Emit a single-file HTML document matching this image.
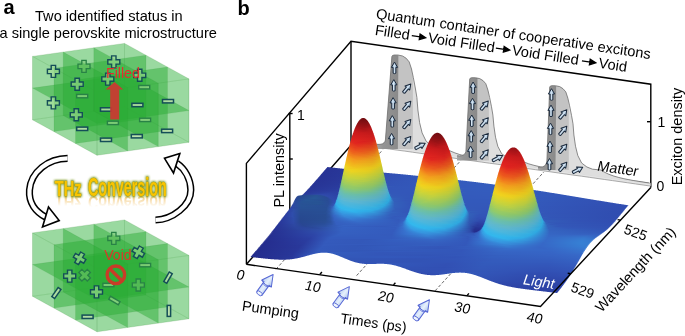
<!DOCTYPE html>
<html><head><meta charset="utf-8"><style>
html,body{margin:0;padding:0;background:#fff;}
svg{display:block;font-family:"Liberation Sans",sans-serif;will-change:transform;}
</style></head><body>
<svg width="685" height="336" viewBox="0 0 685 336">
<rect width="685" height="336" fill="#fff"/>
<text x="3.5" y="13.7" font-size="20" font-weight="bold">a</text>
<text x="35" y="20.8" font-size="14.6">Two identified status in</text>
<text x="-0.5" y="38.2" font-size="14.6">a single perovskite microstructure</text>
<g fill="rgb(42,172,52)" stroke="rgb(30,130,40)" stroke-opacity="0.15" stroke-width="0.6">
<polygon fill-opacity="0.27" points="32.5,56.4 97,91.9 189,78.9 124.5,43.4"/>
<polygon fill-opacity="0.27" points="32.5,119.8 97,155.3 189,142.3 124.5,106.8"/>
<polygon fill-opacity="0.27" points="32.5,56.4 124.5,43.4 124.5,106.8 32.5,119.8"/>
<polygon fill-opacity="0.27" points="97,91.9 189,78.9 189,142.3 97,155.3"/>
<polygon fill-opacity="0.27" points="32.5,56.4 97,91.9 97,155.3 32.5,119.8"/>
<polygon fill-opacity="0.27" points="124.5,43.4 189,78.9 189,142.3 124.5,106.8"/>
<polygon fill-opacity="0.48" points="32.5,88.1 97,123.6 189,110.6 124.5,75.1"/>
<polygon fill-opacity="0.48" points="54,68.2 146,55.2 146,118.6 54,131.6"/>
<polygon fill-opacity="0.48" points="75.5,80.1 167.5,67.1 167.5,130.5 75.5,143.5"/>
<polygon fill-opacity="0.48" points="63.2,52.1 127.7,87.6 127.7,151 63.2,115.5"/>
<polygon fill-opacity="0.48" points="93.8,47.7 158.3,83.2 158.3,146.6 93.8,111.1"/>
</g>
<path transform="translate(53.4 71.4) rotate(0)" d="M-2.2 -6H2.2V-2.2H6V2.2H2.2V6H-2.2V2.2H-6V-2.2H-2.2Z" fill="rgb(165,222,150)" fill-opacity="0.6" stroke="rgb(20,78,88)" stroke-width="1.4"/>
<path transform="translate(84 66.4) rotate(0)" d="M-2.2 -6H2.2V-2.2H6V2.2H2.2V6H-2.2V2.2H-6V-2.2H-2.2Z" fill="rgb(120,200,110)" fill-opacity="0.5" stroke="rgb(40,130,70)" stroke-width="1.3"/>
<path transform="translate(113.8 61.9) rotate(0)" d="M-2.2 -6H2.2V-2.2H6V2.2H2.2V6H-2.2V2.2H-6V-2.2H-2.2Z" fill="rgb(165,222,150)" fill-opacity="0.6" stroke="rgb(20,78,88)" stroke-width="1.4"/>
<path transform="translate(77.2 84.2) rotate(0)" d="M-2.2 -6H2.2V-2.2H6V2.2H2.2V6H-2.2V2.2H-6V-2.2H-2.2Z" fill="rgb(165,222,150)" fill-opacity="0.6" stroke="rgb(20,78,88)" stroke-width="1.4"/>
<path transform="translate(107.8 79.1) rotate(0)" d="M-2.2 -6H2.2V-2.2H6V2.2H2.2V6H-2.2V2.2H-6V-2.2H-2.2Z" fill="rgb(165,222,150)" fill-opacity="0.6" stroke="rgb(20,78,88)" stroke-width="1.4"/>
<path transform="translate(139.7 75.3) rotate(0)" d="M-2.2 -6H2.2V-2.2H6V2.2H2.2V6H-2.2V2.2H-6V-2.2H-2.2Z" fill="rgb(165,222,150)" fill-opacity="0.6" stroke="rgb(20,78,88)" stroke-width="1.4"/>
<path transform="translate(53.4 102.9) rotate(0)" d="M-2.2 -6H2.2V-2.2H6V2.2H2.2V6H-2.2V2.2H-6V-2.2H-2.2Z" fill="rgb(165,222,150)" fill-opacity="0.6" stroke="rgb(20,78,88)" stroke-width="1.4"/>
<path transform="translate(76.3 114.8) rotate(0)" d="M-2.2 -6H2.2V-2.2H6V2.2H2.2V6H-2.2V2.2H-6V-2.2H-2.2Z" fill="rgb(165,222,150)" fill-opacity="0.6" stroke="rgb(20,78,88)" stroke-width="1.4"/>
<rect transform="translate(82.2 96.1) rotate(0)" x="-5.5" y="-1.7" width="11" height="3.4" fill="rgb(170,222,150)" fill-opacity="0.6" stroke="rgb(40,130,70)" stroke-width="1.4"/>
<rect transform="translate(106 109.5) rotate(0)" x="-5.5" y="-1.7" width="11" height="3.4" fill="rgb(195,228,175)" fill-opacity="0.8" stroke="rgb(20,78,88)" stroke-width="1.5"/>
<rect transform="translate(82.2 128.8) rotate(0)" x="-5.5" y="-1.7" width="11" height="3.4" fill="rgb(195,228,175)" fill-opacity="0.8" stroke="rgb(20,78,88)" stroke-width="1.5"/>
<rect transform="translate(106 139.8) rotate(0)" x="-5.5" y="-1.7" width="11" height="3.4" fill="rgb(195,228,175)" fill-opacity="0.8" stroke="rgb(20,78,88)" stroke-width="1.5"/>
<rect transform="translate(112.9 122.9) rotate(0)" x="-5.5" y="-1.7" width="11" height="3.4" fill="rgb(170,222,150)" fill-opacity="0.6" stroke="rgb(40,130,70)" stroke-width="1.4"/>
<rect transform="translate(144.2 87.2) rotate(0)" x="-5.5" y="-1.7" width="11" height="3.4" fill="rgb(170,222,150)" fill-opacity="0.6" stroke="rgb(40,130,70)" stroke-width="1.4"/>
<rect transform="translate(137.4 105) rotate(0)" x="-5.5" y="-1.7" width="11" height="3.4" fill="rgb(195,228,175)" fill-opacity="0.8" stroke="rgb(20,78,88)" stroke-width="1.5"/>
<rect transform="translate(168 101.2) rotate(0)" x="-5.5" y="-1.7" width="11" height="3.4" fill="rgb(195,228,175)" fill-opacity="0.8" stroke="rgb(20,78,88)" stroke-width="1.5"/>
<rect transform="translate(145.1 119.9) rotate(0)" x="-5.5" y="-1.7" width="11" height="3.4" fill="rgb(170,222,150)" fill-opacity="0.6" stroke="rgb(40,130,70)" stroke-width="1.4"/>
<rect transform="translate(167.1 130.9) rotate(0)" x="-5.5" y="-1.7" width="11" height="3.4" fill="rgb(195,228,175)" fill-opacity="0.8" stroke="rgb(20,78,88)" stroke-width="1.5"/>
<rect transform="translate(136.8 136.2) rotate(0)" x="-5.5" y="-1.7" width="11" height="3.4" fill="rgb(195,228,175)" fill-opacity="0.8" stroke="rgb(20,78,88)" stroke-width="1.5"/>
<path d="M110.2 119.6V89.4H105.6L114.6 82L123.3 89.4H119.2V119.6Z" fill="rgb(205,55,50)" opacity="0.92"/>
<text x="106" y="77.9" font-size="14.2" fill="rgb(228,45,45)">Filled</text>
<g fill="rgb(42,172,52)" stroke="rgb(30,130,40)" stroke-opacity="0.15" stroke-width="0.6">
<polygon fill-opacity="0.27" points="32.5,232.9 97,268.4 189,255.4 124.5,219.9"/>
<polygon fill-opacity="0.27" points="32.5,296.3 97,331.8 189,318.8 124.5,283.3"/>
<polygon fill-opacity="0.27" points="32.5,232.9 124.5,219.9 124.5,283.3 32.5,296.3"/>
<polygon fill-opacity="0.27" points="97,268.4 189,255.4 189,318.8 97,331.8"/>
<polygon fill-opacity="0.27" points="32.5,232.9 97,268.4 97,331.8 32.5,296.3"/>
<polygon fill-opacity="0.27" points="124.5,219.9 189,255.4 189,318.8 124.5,283.3"/>
<polygon fill-opacity="0.48" points="32.5,264.6 97,300.1 189,287.1 124.5,251.6"/>
<polygon fill-opacity="0.48" points="54,244.7 146,231.7 146,295.1 54,308.1"/>
<polygon fill-opacity="0.48" points="75.5,256.6 167.5,243.6 167.5,307 75.5,320"/>
<polygon fill-opacity="0.48" points="63.2,228.6 127.7,264.1 127.7,327.5 63.2,292"/>
<polygon fill-opacity="0.48" points="93.8,224.2 158.3,259.7 158.3,323.1 93.8,287.6"/>
</g>
<path transform="translate(113.8 238.3) rotate(0)" d="M-2.2 -6H2.2V-2.2H6V2.2H2.2V6H-2.2V2.2H-6V-2.2H-2.2Z" fill="rgb(120,200,110)" fill-opacity="0.5" stroke="rgb(40,130,70)" stroke-width="1.3"/>
<path transform="translate(79.6 258.3) rotate(30)" d="M-2.2 -6H2.2V-2.2H6V2.2H2.2V6H-2.2V2.2H-6V-2.2H-2.2Z" fill="rgb(165,222,150)" fill-opacity="0.6" stroke="rgb(20,78,88)" stroke-width="1.4"/>
<path transform="translate(69.7 276.1) rotate(0)" d="M-2.2 -6H2.2V-2.2H6V2.2H2.2V6H-2.2V2.2H-6V-2.2H-2.2Z" fill="rgb(165,222,150)" fill-opacity="0.6" stroke="rgb(20,78,88)" stroke-width="1.4"/>
<path transform="translate(84.6 275.2) rotate(45)" d="M-2.2 -6H2.2V-2.2H6V2.2H2.2V6H-2.2V2.2H-6V-2.2H-2.2Z" fill="rgb(120,200,110)" fill-opacity="0.5" stroke="rgb(40,130,70)" stroke-width="1.3"/>
<path transform="translate(96.5 291.9) rotate(0)" d="M-2.2 -6H2.2V-2.2H6V2.2H2.2V6H-2.2V2.2H-6V-2.2H-2.2Z" fill="rgb(165,222,150)" fill-opacity="0.6" stroke="rgb(20,78,88)" stroke-width="1.4"/>
<path transform="translate(138.3 252.3) rotate(30)" d="M-2.2 -6H2.2V-2.2H6V2.2H2.2V6H-2.2V2.2H-6V-2.2H-2.2Z" fill="rgb(165,222,150)" fill-opacity="0.6" stroke="rgb(20,78,88)" stroke-width="1.4"/>
<path transform="translate(138.3 285) rotate(0)" d="M-2.2 -6H2.2V-2.2H6V2.2H2.2V6H-2.2V2.2H-6V-2.2H-2.2Z" fill="rgb(120,200,110)" fill-opacity="0.5" stroke="rgb(40,130,70)" stroke-width="1.3"/>
<rect transform="translate(56.4 293) rotate(-55)" x="-5.5" y="-1.7" width="11" height="3.4" fill="rgb(195,228,175)" fill-opacity="0.8" stroke="rgb(20,78,88)" stroke-width="1.5"/>
<rect transform="translate(87.6 316.8) rotate(0)" x="-5.5" y="-1.7" width="11" height="3.4" fill="rgb(195,228,175)" fill-opacity="0.8" stroke="rgb(20,78,88)" stroke-width="1.5"/>
<rect transform="translate(108.4 285) rotate(0)" x="-5.5" y="-1.7" width="11" height="3.4" fill="rgb(170,222,150)" fill-opacity="0.6" stroke="rgb(40,130,70)" stroke-width="1.4"/>
<rect transform="translate(114.4 300.5) rotate(30)" x="-5.5" y="-1.7" width="11" height="3.4" fill="rgb(170,222,150)" fill-opacity="0.6" stroke="rgb(40,130,70)" stroke-width="1.4"/>
<rect transform="translate(145.1 265.1) rotate(0)" x="-5.5" y="-1.7" width="11" height="3.4" fill="rgb(170,222,150)" fill-opacity="0.6" stroke="rgb(40,130,70)" stroke-width="1.4"/>
<rect transform="translate(168 277.6) rotate(-60)" x="-5.5" y="-1.7" width="11" height="3.4" fill="rgb(195,228,175)" fill-opacity="0.8" stroke="rgb(20,78,88)" stroke-width="1.5"/>
<rect transform="translate(168.9 310.9) rotate(90)" x="-5.5" y="-1.7" width="11" height="3.4" fill="rgb(195,228,175)" fill-opacity="0.8" stroke="rgb(20,78,88)" stroke-width="1.5"/>
<text x="104.3" y="259.6" font-size="14" fill="rgb(220,55,40)">Void</text>
<g fill="none" stroke="rgb(200,60,40)" stroke-width="3.4"><circle cx="115.9" cy="274.8" r="8.8"/><path d="M109.7 268.6L122.1 281"/></g>
<g fill="none" stroke-linecap="butt">
<path d="M67.6 158.4C48 158.5 31 172 29.5 190C28.5 203 36 212 45.5 217" stroke="#000" stroke-width="7.2"/>
<path d="M67.6 158.4C48 158.5 31 172 29.5 190C28.5 203 36 212 45.5 217" stroke="#fff" stroke-width="4.2"/>
<path d="M155.5 220C172 219.5 191 206 190.8 190C190.6 179 185 169 176.7 163.3" stroke="#000" stroke-width="7.2"/>
<path d="M155.5 220C172 219.5 191 206 190.8 190C190.6 179 185 169 176.7 163.3" stroke="#fff" stroke-width="4.2"/>
</g>
<polygon points="48.5,206.9 59.2,220.6 42.5,226.9" fill="#fff" stroke="#000" stroke-width="1.6" stroke-linejoin="miter"/>
<polygon points="179.8,153.6 164.5,158.3 173.5,173" fill="#fff" stroke="#000" stroke-width="1.6"/>
<defs><linearGradient id="thzr" x1="0" y1="0" x2="0" y2="1"><stop offset="0.3" stop-color="#f0b040" stop-opacity="0"/><stop offset="1" stop-color="#e8a820" stop-opacity="0.85"/></linearGradient><filter id="thzg" x="-10%" y="-30%" width="120%" height="160%"><feGaussianBlur stdDeviation="0.8"/></filter><filter id="thzb" x="-10%" y="-30%" width="120%" height="160%"><feGaussianBlur stdDeviation="0.7"/></filter></defs>
<g filter="url(#thzb)">
<text transform="translate(54.8 196.4) scale(0.65 -0.75)" font-size="22.5" font-weight="bold"  fill="url(#thzr)">THz</text>
<text transform="translate(88 196.4) scale(0.572 -0.75)" font-size="25" font-weight="bold"  fill="url(#thzr)">Conversion</text>
</g>
<g filter="url(#thzg)">
<text transform="translate(54.8 195.6) scale(0.65 1)" font-size="22.5" font-weight="bold" stroke="#7a9a20" stroke-width="2.2" fill="#7a9a20">THz</text>
<text transform="translate(88 195.6) scale(0.572 1)" font-size="25" font-weight="bold" stroke="#7a9a20" stroke-width="2.2" fill="#7a9a20">Conversion</text>
</g>
<text transform="translate(54.8 195.6) scale(0.65 1)" font-size="22.5" font-weight="bold" stroke="#a89010" stroke-width="0.6" paint-order="stroke" fill="#f8c400">THz</text>
<text transform="translate(88 195.6) scale(0.572 1)" font-size="25" font-weight="bold" stroke="#a89010" stroke-width="0.6" paint-order="stroke" fill="#f8c400">Conversion</text>
<text x="237.5" y="15.2" font-size="20" font-weight="bold">b</text>
<defs><linearGradient id="gdark" x1="0" x2="1" y1="0" y2="0"><stop offset="0" stop-color="#a6a6a6"/><stop offset=".3" stop-color="#949494"/><stop offset="1" stop-color="#8a8a8a"/></linearGradient><linearGradient id="garr" x1="0" x2="1" y1="0" y2="0"><stop offset="0" stop-color="#6f94b4"/><stop offset=".45" stop-color="#d6e6f4"/><stop offset="1" stop-color="#7ea2c0"/></linearGradient><g id="upA"><path d="M0 -5.9L3.1 -0.6H1.35V5.2Q0 6.1 -1.35 5.2V-0.6H-3.1Z" fill="url(#garr)" stroke="#1c2a3c" stroke-width="1" stroke-linejoin="round"/></g><g id="dgA" transform="rotate(40)"><path d="M0 -5.9L3.1 -0.6H1.35V5.2Q0 6.1 -1.35 5.2V-0.6H-3.1Z" fill="url(#garr)" stroke="#1c2a3c" stroke-width="1" stroke-linejoin="round"/></g></defs><g stroke="#555" stroke-width="0.9" stroke-dasharray="3 2" fill="none">
<line x1="276" y1="269.2" x2="382.8" y2="149.7"/>
<line x1="356.6" y1="275.6" x2="460.8" y2="160.5"/>
<line x1="435.2" y1="290.7" x2="543.9" y2="171.9"/>
</g>
<g fill="none" stroke="#000" stroke-width="1.4">
<polyline points="246.4,264.3 246.4,163.4 351,41.3 650.8,84.2 650.8,187.5"/>
<line x1="351" y1="41.3" x2="351" y2="145.3"/>
<line x1="351" y1="145.3" x2="246.4" y2="264.3"/>
<line x1="289.8" y1="113.5" x2="289.8" y2="214"/>
<line x1="288.6" y1="113.5" x2="292.6" y2="113.5"/>
<line x1="289.8" y1="159" x2="292.8" y2="159"/>
<line x1="650.8" y1="121.7" x2="647" y2="121.7"/>
</g>
<text x="297" y="119.8" font-size="14">1</text>
<text transform="translate(284.3 207.6) rotate(-90)" font-size="14.5">PL intensity</text>
<text transform="translate(682.2 185.3) rotate(-90)" font-size="14.5">Exciton density</text>
<text x="657.5" y="126.8" font-size="14">1</text>
<text x="656.5" y="191.2" font-size="14">0</text>
<g font-size="14.6" transform="translate(375.5 18.5) rotate(8.4)"><text x="0" y="0">Quantum container of cooperative excitons</text></g>
<g font-size="14.6" transform="translate(374.5 34.8) rotate(8.4)"><text x="0" y="0">Filled</text><text x="53.5" y="0">Void Filled</text><text x="138.5" y="0">Void Filled</text><text x="226" y="0">Void</text><path d="M37 -4.6H49M45 -7.4L51 -4.6L45 -1.8Z M122 -4.6H134M130 -7.4L136 -4.6L130 -1.8Z M209 -4.6H221M217 -7.4L223 -4.6L217 -1.8Z" stroke="#000" stroke-width="1.3" fill="#000"/></g>
<polygon points="351,140.7 358.7,141.8 366.4,142.9 374.1,144 381.7,145.1 389.4,146.2 397.1,147.3 404.8,148.3 412.5,149.4 420.2,150.5 427.9,151.6 435.6,152.7 443.2,153.8 450.9,154.9 458.6,156 466.3,157.1 474,158.2 481.7,159.3 489.4,160.4 497.1,161.4 504.7,162.5 512.4,163.6 520.1,164.7 527.8,165.8 535.5,166.9 543.2,168 550.9,169.1 558.6,170.2 566.2,171.3 573.9,172.4 581.6,173.4 589.3,174.5 597,175.6 604.7,176.7 612.4,177.8 620.1,178.9 627.7,180 635.4,181.1 643.1,182.2 650.8,183.3 650.8,186.1 643.1,185 635.4,183.9 627.7,182.8 620.1,181.7 612.4,180.6 604.7,179.5 597,178.4 589.3,177.3 581.6,176.2 573.9,175.2 566.2,174.1 558.6,173 550.9,171.9 543.2,170.8 535.5,169.7 527.8,168.6 520.1,167.5 512.4,166.4 504.7,165.3 497.1,164.2 489.4,163.2 481.7,162.1 474,161 466.3,159.9 458.6,158.8 450.9,157.7 443.2,156.6 435.6,155.5 427.9,154.4 420.2,153.3 412.5,152.2 404.8,151.1 397.1,150.1 389.4,149 381.7,147.9 374.1,146.8 366.4,145.7 358.7,144.6 351,143.5" fill="#e4e4e4" stroke="#8a8a8a" stroke-width="0.7"/>
<polygon points="376.5,144.3 379,144.4 381,144.2 382.7,143.7 384,142.8 384.9,141.6 385.4,140.1 391.9,56.5 392.5,55.5 394.3,55 397.9,55 402.6,56 406.2,58.3 409.2,61.9 411.5,69 413.3,77.4 415.3,88 416.9,97.5 417.9,110 419.6,122.6 422.1,132.9 426.2,141.3 431.9,145.8 437.9,148.2 446.9,149.1 449.9,150.8 454.9,152.9 459.9,154.6 464.9,155.9 469.9,156.9 474.9,157.9 479.9,158.7 484.9,159.6 489.9,160.3 494.9,161.1 494.9,162.1 376.5,145.3" fill="#dedede"/>
<polygon points="398.5,55.2 402.6,56 406.2,58.3 409.2,61.9 411.5,69 412.9,77.4 412.9,149.1 397.9,149.1" fill="#c3c3c3"/>
<polygon points="391.9,56.5 392.5,55.5 394.3,55 398.5,55.2 397.9,149.1 376.5,149.1 376.5,144.3 379,144.4 381,144.2 382.7,143.7 384,142.8 384.9,141.6 385.4,140.1" fill="url(#gdark)"/>
<polyline points="376.5,144.3 379,144.4 381,144.2 382.7,143.7 384,142.8 384.9,141.6 385.4,140.1 391.9,56.5 392.5,55.5 394.3,55 397.9,55 402.6,56 406.2,58.3 409.2,61.9 411.5,69 413.3,77.4 415.3,88 416.9,97.5 417.9,110 419.6,122.6 422.1,132.9 426.2,141.3 431.9,145.8 437.9,148.2 446.9,149.1 449.9,150.8 454.9,152.9 459.9,154.6 464.9,155.9 469.9,156.9 474.9,157.9 479.9,158.7 484.9,159.6 489.9,160.3 494.9,161.1" fill="none" stroke="#6e6e6e" stroke-width="0.8"/>
<use href="#upA" x="394.5" y="68"/>
<use href="#upA" x="393.8" y="85.5"/>
<use href="#upA" x="393.1" y="103.5"/>
<use href="#upA" x="392.3" y="121.5"/>
<use href="#upA" x="391.6" y="139.3"/>
<use href="#dgA" x="407" y="88.5"/>
<use href="#dgA" x="407" y="105.7"/>
<use href="#dgA" x="407" y="124"/>
<use href="#dgA" x="407" y="141"/>
<g transform="translate(420 146) rotate(62)"><path d="M0 -5.9L3.1 -0.6H1.35V5.2Q0 6.1 -1.35 5.2V-0.6H-3.1Z" fill="url(#garr)" stroke="#1c2a3c" stroke-width="1" stroke-linejoin="round"/></g>
<polygon points="457,155.8 459.5,155.9 461.5,155.7 463.2,155.1 464.5,154.2 465.4,153 465.9,151.5 469.7,79.2 470.3,78.1 471.9,77.7 475.3,77.7 479.7,78.6 483,80.6 485.8,83.7 487.9,90 489.6,97.4 491.5,106.8 492.9,115.1 493.9,126.1 495.5,137.2 497.8,146.3 501.6,153.6 506.9,157.6 512.5,159.7 520.9,160.5 523.9,162 528.9,163.9 533.9,165.3 538.9,166.5 543.9,167.6 548.9,168.5 553.9,169.3 558.9,170.1 563.9,170.8 568.9,171.6 568.9,172.6 457,156.8" fill="#dedede"/>
<polygon points="477.6,77.9 479.7,78.6 483,80.6 485.8,83.7 487.9,90 488.9,97.4 488.9,160.5 477,160.5" fill="#c3c3c3"/>
<polygon points="469.7,79.2 470.3,78.2 471.9,77.7 477.6,77.9 477,160.5 457,160.5 457,155.8 459.5,155.9 461.5,155.7 463.2,155.1 464.5,154.2 465.4,153 465.9,151.5" fill="url(#gdark)"/>
<polyline points="457,155.8 459.5,155.9 461.5,155.7 463.2,155.1 464.5,154.2 465.4,153 465.9,151.5 469.7,79.2 470.3,78.1 471.9,77.7 475.3,77.7 479.7,78.6 483,80.6 485.8,83.7 487.9,90 489.6,97.4 491.5,106.8 492.9,115.1 493.9,126.1 495.5,137.2 497.8,146.3 501.6,153.6 506.9,157.6 512.5,159.7 520.9,160.5 523.9,162 528.9,163.9 533.9,165.3 538.9,166.5 543.9,167.6 548.9,168.5 553.9,169.3 558.9,170.1 563.9,170.8 568.9,171.6" fill="none" stroke="#6e6e6e" stroke-width="0.8"/>
<use href="#upA" x="473.1" y="87.9"/>
<use href="#upA" x="472.5" y="104.2"/>
<use href="#upA" x="471.8" y="120.9"/>
<use href="#upA" x="471.2" y="136.4"/>
<use href="#upA" x="470.6" y="152"/>
<use href="#dgA" x="484.5" y="105.5"/>
<use href="#dgA" x="484.5" y="122.3"/>
<use href="#dgA" x="484.5" y="137.9"/>
<use href="#dgA" x="484.5" y="154.3"/>
<g transform="translate(497.4 158.2) rotate(62)"><path d="M0 -5.9L3.1 -0.6H1.35V5.2Q0 6.1 -1.35 5.2V-0.6H-3.1Z" fill="url(#garr)" stroke="#1c2a3c" stroke-width="1" stroke-linejoin="round"/></g>
<polygon points="538,167.3 540.5,167.3 542.5,166.9 544.2,166.1 545.5,164.8 546.4,163.1 546.9,161 549.7,87.2 550.3,86.1 551.9,85.7 555.3,85.7 559.7,86.6 563,88.7 565.8,91.9 567.9,98.3 569.6,105.8 571.5,115.3 573,123.8 573.9,135 575.5,146.2 577.8,155.5 581.6,163 586.9,167 592.5,169.2 600.9,170 603.9,171.9 608.9,174.3 613.9,176.1 618.9,177.5 623.9,178.7 628.9,179.7 633.9,180.6 638.9,181.4 643.9,182.2 648.9,182.9 648.9,184 538,168.3" fill="#dedede"/>
<polygon points="556.2,85.9 559.7,86.6 563,88.7 565.8,91.9 567.9,98.3 568.8,105.8 568.8,170 555.6,170" fill="#c3c3c3"/>
<polygon points="549.7,87.2 550.3,86.2 551.9,85.7 556.2,85.9 555.6,170 538,170 538,167.3 540.5,167.3 542.5,166.9 544.2,166.1 545.5,164.8 546.4,163.1 546.9,161" fill="url(#gdark)"/>
<polyline points="538,167.3 540.5,167.3 542.5,166.9 544.2,166.1 545.5,164.8 546.4,163.1 546.9,161 549.7,87.2 550.3,86.1 551.9,85.7 555.3,85.7 559.7,86.6 563,88.7 565.8,91.9 567.9,98.3 569.6,105.8 571.5,115.3 573,123.8 573.9,135 575.5,146.2 577.8,155.5 581.6,163 586.9,167 592.5,169.2 600.9,170 603.9,171.9 608.9,174.3 613.9,176.1 618.9,177.5 623.9,178.7 628.9,179.7 633.9,180.6 638.9,181.4 643.9,182.2 648.9,182.9" fill="none" stroke="#6e6e6e" stroke-width="0.8"/>
<use href="#upA" x="551.5" y="94.6"/>
<use href="#upA" x="551" y="111"/>
<use href="#upA" x="550.5" y="129"/>
<use href="#upA" x="550" y="147"/>
<use href="#upA" x="549.5" y="164.4"/>
<use href="#dgA" x="563" y="114.3"/>
<use href="#dgA" x="563" y="130.7"/>
<use href="#dgA" x="563" y="148.7"/>
<use href="#dgA" x="563" y="166.7"/>
<g transform="translate(577.5 170) rotate(62)"><path d="M0 -5.9L3.1 -0.6H1.35V5.2Q0 6.1 -1.35 5.2V-0.6H-3.1Z" fill="url(#garr)" stroke="#1c2a3c" stroke-width="1" stroke-linejoin="round"/></g>
<g shape-rendering="crispEdges"><defs><linearGradient id="s1" gradientUnits="userSpaceOnUse" x1="360" x2="366"><stop offset=".083" stop-color="#770d11" stop-opacity=".06"/><stop offset=".25" stop-color="#770e12" stop-opacity=".63"/><stop offset=".417" stop-color="#770d11" stop-opacity=".94"/><stop offset=".583" stop-color="#760d11"/><stop offset=".75" stop-color="#740d11" stop-opacity=".81"/><stop offset=".917" stop-color="#730d11" stop-opacity=".25"/></linearGradient><linearGradient id="s2" gradientUnits="userSpaceOnUse" x1="359" x2="367"><stop offset=".062" stop-color="#7b0e12" stop-opacity=".13"/><stop offset=".188" stop-color="#790e12" stop-opacity=".81"/><stop offset=".312" stop-color="#790e12"/><stop offset=".812" stop-color="#750d11"/><stop offset=".938" stop-color="#780e12" stop-opacity=".38"/></linearGradient><linearGradient id="s3" gradientUnits="userSpaceOnUse" x1="358" x2="368"><stop offset=".05" stop-color="#820f13" stop-opacity=".06"/><stop offset=".15" stop-color="#7e0e12" stop-opacity=".81"/><stop offset=".25" stop-color="#7b0e12"/><stop offset=".85" stop-color="#7b0e12"/><stop offset=".95" stop-color="#800f12" stop-opacity=".38"/></linearGradient><linearGradient id="s4" gradientUnits="userSpaceOnUse" x1="358" x2="369"><stop offset=".045" stop-color="#850f13" stop-opacity=".63"/><stop offset=".136" stop-color="#820f13"/><stop offset=".773" stop-color="#7f0f12"/><stop offset=".864" stop-color="#820f13"/><stop offset=".955" stop-color="#861013" stop-opacity=".13"/></linearGradient><linearGradient id="s5" gradientUnits="userSpaceOnUse" x1="357" x2="369"><stop offset=".042" stop-color="#8c1014" stop-opacity=".25"/><stop offset=".125" stop-color="#891014"/><stop offset=".792" stop-color="#840f13"/><stop offset=".875" stop-color="#861013"/><stop offset=".958" stop-color="#8b1014" stop-opacity=".75"/></linearGradient><linearGradient id="s6" gradientUnits="userSpaceOnUse" x1="357" x2="370"><stop offset=".038" stop-color="#911115" stop-opacity=".87"/><stop offset=".115" stop-color="#8d1014"/><stop offset=".808" stop-color="#8b1014"/><stop offset=".885" stop-color="#8e1115"/><stop offset=".962" stop-color="#961215" stop-opacity=".38"/></linearGradient><linearGradient id="s7" gradientUnits="userSpaceOnUse" x1="356" x2="370"><stop offset=".036" stop-color="#9a1216" stop-opacity=".38"/><stop offset=".107" stop-color="#951115"/><stop offset=".75" stop-color="#8e1114"/><stop offset=".893" stop-color="#931215"/><stop offset=".964" stop-color="#991216" stop-opacity=".87"/></linearGradient><linearGradient id="s8" gradientUnits="userSpaceOnUse" x1="356" x2="371"><stop offset=".033" stop-color="#9f1317" stop-opacity=".87"/><stop offset=".1" stop-color="#9a1216"/><stop offset=".7" stop-color="#951115"/><stop offset=".9" stop-color="#9d1316"/><stop offset=".967" stop-color="#a41417" stop-opacity=".38"/></linearGradient><linearGradient id="s9" gradientUnits="userSpaceOnUse" x1="355" x2="371"><stop offset=".031" stop-color="#a91418" stop-opacity=".38"/><stop offset=".094" stop-color="#a31317"/><stop offset=".594" stop-color="#991216"/><stop offset=".906" stop-color="#a21317"/><stop offset=".969" stop-color="#ab1518" stop-opacity=".87"/></linearGradient><linearGradient id="s10" gradientUnits="userSpaceOnUse" x1="355" x2="372"><stop offset=".029" stop-color="#af1518" stop-opacity=".81"/><stop offset=".088" stop-color="#a91418"/><stop offset=".618" stop-color="#a01317"/><stop offset=".912" stop-color="#ae1518"/><stop offset=".971" stop-color="#b71619" stop-opacity=".31"/></linearGradient><linearGradient id="s11" gradientUnits="userSpaceOnUse" x1="354" x2="372"><stop offset=".028" stop-color="#b9161a" stop-opacity=".25"/><stop offset=".083" stop-color="#b41619"/><stop offset=".417" stop-color="#a61417"/><stop offset=".917" stop-color="#b21619"/><stop offset=".972" stop-color="#ba171a" stop-opacity=".69"/></linearGradient><linearGradient id="s12" gradientUnits="userSpaceOnUse" x1="354" x2="373"><stop offset=".026" stop-color="#bf171a" stop-opacity=".63"/><stop offset=".079" stop-color="#b9161a"/><stop offset=".5" stop-color="#ac1518"/><stop offset=".868" stop-color="#b81719"/><stop offset=".921" stop-color="#bc181a"/><stop offset=".974" stop-color="#bd181a" stop-opacity=".06"/></linearGradient><linearGradient id="s13" gradientUnits="userSpaceOnUse" x1="353" x2="373"><stop offset=".025" stop-color="#c7191c" stop-opacity=".06"/><stop offset=".075" stop-color="#c4181b" stop-opacity=".94"/><stop offset=".125" stop-color="#be171a"/><stop offset=".625" stop-color="#b41619"/><stop offset=".925" stop-color="#bd181a"/><stop offset=".975" stop-color="#c0191a" stop-opacity=".44"/></linearGradient><linearGradient id="s14" gradientUnits="userSpaceOnUse" x1="353" x2="373"><stop offset=".025" stop-color="#c91a1c" stop-opacity=".38"/><stop offset=".075" stop-color="#c7191c"/><stop offset=".525" stop-color="#ba171a"/><stop offset=".925" stop-color="#bf191a"/><stop offset=".975" stop-color="#c31a1b" stop-opacity=".87"/></linearGradient><linearGradient id="s15" gradientUnits="userSpaceOnUse" x1="353" x2="374"><stop offset=".024" stop-color="#cb1b1c" stop-opacity=".69"/><stop offset=".071" stop-color="#c91a1c"/><stop offset=".833" stop-color="#c0191a"/><stop offset=".929" stop-color="#c41a1b"/><stop offset=".976" stop-color="#c61b1b" stop-opacity=".19"/></linearGradient><linearGradient id="s16" gradientUnits="userSpaceOnUse" x1="436" x2="439"><stop offset=".167" stop-color="#750d11" stop-opacity=".13"/><stop offset=".5" stop-color="#740d11" stop-opacity=".25"/><stop offset=".833" stop-color="#730d11" stop-opacity=".06"/></linearGradient><linearGradient id="s17" gradientUnits="userSpaceOnUse" x1="352" x2="374"><stop offset=".023" stop-color="#cf1c1d" stop-opacity=".13"/><stop offset=".068" stop-color="#ce1b1c"/><stop offset=".886" stop-color="#c31a1b"/><stop offset=".932" stop-color="#c61b1b"/><stop offset=".977" stop-color="#c81c1c" stop-opacity=".63"/></linearGradient><linearGradient id="s18" gradientUnits="userSpaceOnUse" x1="434" x2="441"><stop offset=".071" stop-color="#780d11" stop-opacity=".25"/><stop offset=".214" stop-color="#780e12" stop-opacity=".75"/><stop offset=".357" stop-color="#770d11"/><stop offset=".643" stop-color="#740d11"/><stop offset=".786" stop-color="#730d11" stop-opacity=".63"/><stop offset=".929" stop-color="#760d11" stop-opacity=".13"/></linearGradient><linearGradient id="s19" gradientUnits="userSpaceOnUse" x1="352" x2="374"><stop offset=".023" stop-color="#d11c1d" stop-opacity=".38"/><stop offset=".068" stop-color="#d01c1d"/><stop offset=".886" stop-color="#c61b1b"/><stop offset=".932" stop-color="#c71c1b"/><stop offset=".977" stop-color="#cb1d1c" stop-opacity=".87"/></linearGradient><linearGradient id="s20" gradientUnits="userSpaceOnUse" x1="433" x2="442"><stop offset=".056" stop-color="#7a0e12" stop-opacity=".38"/><stop offset=".167" stop-color="#790e12"/><stop offset=".722" stop-color="#740d11"/><stop offset=".833" stop-color="#770e11" stop-opacity=".94"/><stop offset=".944" stop-color="#7b0e12" stop-opacity=".19"/></linearGradient><linearGradient id="s21" gradientUnits="userSpaceOnUse" x1="352" x2="375"><stop offset=".022" stop-color="#d41e1d" stop-opacity=".81"/><stop offset=".065" stop-color="#d21d1d"/><stop offset=".891" stop-color="#ca1d1c"/><stop offset=".935" stop-color="#cd1e1c"/><stop offset=".978" stop-color="#cf1f1d" stop-opacity=".25"/></linearGradient><linearGradient id="s22" gradientUnits="userSpaceOnUse" x1="432" x2="443"><stop offset=".045" stop-color="#810f13" stop-opacity=".38"/><stop offset=".136" stop-color="#7d0e12"/><stop offset=".773" stop-color="#790e12"/><stop offset=".864" stop-color="#7d0e12" stop-opacity=".94"/><stop offset=".955" stop-color="#840f13" stop-opacity=".19"/></linearGradient><linearGradient id="s23" gradientUnits="userSpaceOnUse" x1="351" x2="375"><stop offset=".021" stop-color="#d9201e" stop-opacity=".06"/><stop offset=".062" stop-color="#d61e1e"/><stop offset=".854" stop-color="#ca1d1c"/><stop offset=".938" stop-color="#cf1e1d"/><stop offset=".979" stop-color="#d1201d" stop-opacity=".56"/></linearGradient><linearGradient id="s24" gradientUnits="userSpaceOnUse" x1="431" x2="444"><stop offset=".038" stop-color="#881014" stop-opacity=".19"/><stop offset=".115" stop-color="#840f13" stop-opacity=".94"/><stop offset=".192" stop-color="#800f13"/><stop offset=".808" stop-color="#7f0f13"/><stop offset=".885" stop-color="#850f13" stop-opacity=".81"/><stop offset=".962" stop-color="#8d1114" stop-opacity=".06"/></linearGradient><linearGradient id="s25" gradientUnits="userSpaceOnUse" x1="351" x2="375"><stop offset=".021" stop-color="#da201e" stop-opacity=".38"/><stop offset=".062" stop-color="#d81f1e"/><stop offset=".896" stop-color="#ce1e1c"/><stop offset=".938" stop-color="#d01f1d"/><stop offset=".979" stop-color="#d4231d" stop-opacity=".87"/></linearGradient><linearGradient id="s26" gradientUnits="userSpaceOnUse" x1="431" x2="444"><stop offset=".038" stop-color="#8c1014" stop-opacity=".81"/><stop offset=".115" stop-color="#871014"/><stop offset=".731" stop-color="#810f13"/><stop offset=".885" stop-color="#871014"/><stop offset=".962" stop-color="#8d1014" stop-opacity=".56"/></linearGradient><linearGradient id="s27" gradientUnits="userSpaceOnUse" x1="351" x2="376"><stop offset=".02" stop-color="#dd211f" stop-opacity=".69"/><stop offset=".06" stop-color="#da201e"/><stop offset=".86" stop-color="#d11f1d"/><stop offset=".94" stop-color="#d5261d"/><stop offset=".98" stop-color="#d62d1d" stop-opacity=".19"/></linearGradient><linearGradient id="s28" gradientUnits="userSpaceOnUse" x1="430" x2="445"><stop offset=".033" stop-color="#931115" stop-opacity=".44"/><stop offset=".1" stop-color="#8f1115"/><stop offset=".633" stop-color="#850f13"/><stop offset=".9" stop-color="#901115"/><stop offset=".967" stop-color="#981215" stop-opacity=".25"/></linearGradient><linearGradient id="s29" gradientUnits="userSpaceOnUse" x1="351" x2="376"><stop offset=".02" stop-color="#df221f" stop-opacity=".94"/><stop offset=".06" stop-color="#dd211f"/><stop offset=".86" stop-color="#d3201d"/><stop offset=".94" stop-color="#d62b1d"/><stop offset=".98" stop-color="#d6301d" stop-opacity=".44"/></linearGradient><linearGradient id="s30" gradientUnits="userSpaceOnUse" x1="429" x2="445"><stop offset=".031" stop-color="#9f1317" stop-opacity=".06"/><stop offset=".094" stop-color="#981216" stop-opacity=".94"/><stop offset=".156" stop-color="#921115"/><stop offset=".719" stop-color="#8b1014"/><stop offset=".906" stop-color="#941115"/><stop offset=".969" stop-color="#9c1316" stop-opacity=".81"/></linearGradient><linearGradient id="s31" gradientUnits="userSpaceOnUse" x1="350" x2="376"><stop offset=".019" stop-color="#e12a1f" stop-opacity=".25"/><stop offset=".058" stop-color="#e1241f"/><stop offset=".865" stop-color="#d4231d"/><stop offset=".942" stop-color="#d62e1d"/><stop offset=".981" stop-color="#d8361c" stop-opacity=".81"/></linearGradient><linearGradient id="s32" gradientUnits="userSpaceOnUse" x1="429" x2="446"><stop offset=".029" stop-color="#a21317" stop-opacity=".56"/><stop offset=".088" stop-color="#9c1216"/><stop offset=".559" stop-color="#8f1115"/><stop offset=".912" stop-color="#9f1316"/><stop offset=".971" stop-color="#a71417" stop-opacity=".38"/></linearGradient><linearGradient id="s33" gradientUnits="userSpaceOnUse" x1="350" x2="377"><stop offset=".019" stop-color="#e22e1f" stop-opacity=".56"/><stop offset=".056" stop-color="#e2281f"/><stop offset=".537" stop-color="#d8201e"/><stop offset=".833" stop-color="#d6281d"/><stop offset=".944" stop-color="#d93a1c"/><stop offset=".981" stop-color="#da411c" stop-opacity=".06"/></linearGradient><linearGradient id="s34" gradientUnits="userSpaceOnUse" x1="428" x2="446"><stop offset=".028" stop-color="#b01519" stop-opacity=".13"/><stop offset=".083" stop-color="#a71417"/><stop offset=".417" stop-color="#951215"/><stop offset=".861" stop-color="#9e1316"/><stop offset=".917" stop-color="#a21417"/><stop offset=".972" stop-color="#ac1518" stop-opacity=".87"/></linearGradient><linearGradient id="s35" gradientUnits="userSpaceOnUse" x1="350" x2="377"><stop offset=".019" stop-color="#e4341e" stop-opacity=".81"/><stop offset=".056" stop-color="#e32c1f"/><stop offset=".315" stop-color="#de211f"/><stop offset=".796" stop-color="#d72c1d"/><stop offset=".944" stop-color="#da401c"/><stop offset=".981" stop-color="#db471c" stop-opacity=".31"/></linearGradient><linearGradient id="s36" gradientUnits="userSpaceOnUse" x1="428" x2="447"><stop offset=".026" stop-color="#b11519" stop-opacity=".5"/><stop offset=".079" stop-color="#aa1418"/><stop offset=".5" stop-color="#9b1216"/><stop offset=".868" stop-color="#a81418"/><stop offset=".921" stop-color="#ae1518"/><stop offset=".974" stop-color="#b8171a" stop-opacity=".38"/></linearGradient><linearGradient id="s37" gradientUnits="userSpaceOnUse" x1="349" x2="377"><stop offset=".018" stop-color="#e5411e" stop-opacity=".06"/><stop offset=".054" stop-color="#e5391e"/><stop offset=".232" stop-color="#e1261f"/><stop offset=".732" stop-color="#da2c1d"/><stop offset=".946" stop-color="#db421c"/><stop offset=".982" stop-color="#dc4b1c" stop-opacity=".63"/></linearGradient><linearGradient id="s38" gradientUnits="userSpaceOnUse" x1="427" x2="447"><stop offset=".025" stop-color="#c0181b" stop-opacity=".06"/><stop offset=".075" stop-color="#b71619" stop-opacity=".94"/><stop offset=".125" stop-color="#af1518"/><stop offset=".575" stop-color="#a11317"/><stop offset=".925" stop-color="#b21619"/><stop offset=".975" stop-color="#bb171a" stop-opacity=".81"/></linearGradient><linearGradient id="s39" gradientUnits="userSpaceOnUse" x1="349" x2="377"><stop offset=".018" stop-color="#e6431e" stop-opacity=".38"/><stop offset=".054" stop-color="#e63d1e"/><stop offset=".268" stop-color="#e22c1f"/><stop offset=".804" stop-color="#da351d"/><stop offset=".946" stop-color="#dc471c"/><stop offset=".982" stop-color="#de4f1c" stop-opacity=".87"/></linearGradient><linearGradient id="s40" gradientUnits="userSpaceOnUse" x1="427" x2="448"><stop offset=".024" stop-color="#c1181b" stop-opacity=".38"/><stop offset=".071" stop-color="#ba171a"/><stop offset=".405" stop-color="#a81418"/><stop offset=".833" stop-color="#b21619"/><stop offset=".929" stop-color="#bc171a"/><stop offset=".976" stop-color="#bf191a" stop-opacity=".25"/></linearGradient><linearGradient id="s41" gradientUnits="userSpaceOnUse" x1="349" x2="378"><stop offset=".017" stop-color="#e7481e" stop-opacity=".56"/><stop offset=".052" stop-color="#e7411e"/><stop offset=".293" stop-color="#e3311e"/><stop offset=".776" stop-color="#dc3d1c"/><stop offset=".914" stop-color="#dd4d1c"/><stop offset=".948" stop-color="#df551b"/><stop offset=".983" stop-color="#df5e1b" stop-opacity=".13"/></linearGradient><linearGradient id="s42" gradientUnits="userSpaceOnUse" x1="427" x2="448"><stop offset=".024" stop-color="#c6181b" stop-opacity=".81"/><stop offset=".071" stop-color="#bf171a"/><stop offset=".452" stop-color="#ad1518"/><stop offset=".929" stop-color="#bd181a"/><stop offset=".976" stop-color="#c01a1b" stop-opacity=".63"/></linearGradient><linearGradient id="s43" gradientUnits="userSpaceOnUse" x1="349" x2="378"><stop offset=".017" stop-color="#e94e1d" stop-opacity=".87"/><stop offset=".052" stop-color="#e8461e"/><stop offset=".328" stop-color="#e4361e"/><stop offset=".81" stop-color="#dc431c"/><stop offset=".948" stop-color="#df591b"/><stop offset=".983" stop-color="#e0621b" stop-opacity=".38"/></linearGradient><linearGradient id="s44" gradientUnits="userSpaceOnUse" x1="426" x2="449"><stop offset=".022" stop-color="#c91a1c" stop-opacity=".19"/><stop offset=".065" stop-color="#c8191c"/><stop offset=".413" stop-color="#b51619"/><stop offset=".935" stop-color="#c31a1b"/><stop offset=".978" stop-color="#c71c1c" stop-opacity=".06"/></linearGradient><linearGradient id="s45" gradientUnits="userSpaceOnUse" x1="348" x2="378"><stop offset=".017" stop-color="#ea5b1d" stop-opacity=".13"/><stop offset=".05" stop-color="#ea521d"/><stop offset=".217" stop-color="#e73f1e"/><stop offset=".683" stop-color="#df421d"/><stop offset=".883" stop-color="#de501c"/><stop offset=".95" stop-color="#e0601b"/><stop offset=".983" stop-color="#e26b1b" stop-opacity=".69"/></linearGradient><linearGradient id="s46" gradientUnits="userSpaceOnUse" x1="426" x2="449"><stop offset=".022" stop-color="#cb1b1c" stop-opacity=".56"/><stop offset=".065" stop-color="#ca1a1c"/><stop offset=".543" stop-color="#bb171a"/><stop offset=".935" stop-color="#c41a1b"/><stop offset=".978" stop-color="#c71c1c" stop-opacity=".44"/></linearGradient><linearGradient id="s47" gradientUnits="userSpaceOnUse" x1="511" x2="516"><stop offset=".1" stop-color="#9b1216" stop-opacity=".19"/><stop offset=".3" stop-color="#981216" stop-opacity=".5"/><stop offset=".7" stop-color="#971216" stop-opacity=".5"/><stop offset=".9" stop-color="#981216" stop-opacity=".13"/></linearGradient><linearGradient id="s48" gradientUnits="userSpaceOnUse" x1="348" x2="378"><stop offset=".017" stop-color="#eb5f1d" stop-opacity=".31"/><stop offset=".05" stop-color="#ec571d"/><stop offset=".25" stop-color="#e8441e"/><stop offset=".75" stop-color="#e04b1c"/><stop offset=".917" stop-color="#df5b1b"/><stop offset=".95" stop-color="#e1651b"/><stop offset=".983" stop-color="#e2711b" stop-opacity=".87"/></linearGradient><linearGradient id="s49" gradientUnits="userSpaceOnUse" x1="425" x2="449"><stop offset=".021" stop-color="#d01d1d" stop-opacity=".06"/><stop offset=".062" stop-color="#ce1b1c" stop-opacity=".94"/><stop offset=".104" stop-color="#cc1a1c"/><stop offset=".729" stop-color="#c0181a"/><stop offset=".938" stop-color="#c51b1b"/><stop offset=".979" stop-color="#c91c1c" stop-opacity=".81"/></linearGradient><linearGradient id="s50" gradientUnits="userSpaceOnUse" x1="509" x2="517"><stop offset=".062" stop-color="#a21317" stop-opacity=".06"/><stop offset=".188" stop-color="#9f1317" stop-opacity=".69"/><stop offset=".312" stop-color="#9d1216"/><stop offset=".812" stop-color="#9a1216"/><stop offset=".938" stop-color="#9d1316" stop-opacity=".56"/></linearGradient><linearGradient id="s51" gradientUnits="userSpaceOnUse" x1="348" x2="379"><stop offset=".016" stop-color="#ec671d" stop-opacity=".63"/><stop offset=".048" stop-color="#ed5c1d"/><stop offset=".242" stop-color="#e94a1e"/><stop offset=".726" stop-color="#e1511c"/><stop offset=".887" stop-color="#e1651b"/><stop offset=".952" stop-color="#e3761b"/><stop offset=".984" stop-color="#e3811b" stop-opacity=".19"/></linearGradient><linearGradient id="s52" gradientUnits="userSpaceOnUse" x1="425" x2="450"><stop offset=".02" stop-color="#d21d1d" stop-opacity=".31"/><stop offset=".06" stop-color="#d01c1d"/><stop offset=".82" stop-color="#c31a1b"/><stop offset=".94" stop-color="#cb1d1c"/><stop offset=".98" stop-color="#ce1f1d" stop-opacity=".19"/></linearGradient><linearGradient id="s53" gradientUnits="userSpaceOnUse" x1="508" x2="519"><stop offset=".045" stop-color="#a81418" stop-opacity=".06"/><stop offset=".136" stop-color="#a51417" stop-opacity=".81"/><stop offset=".227" stop-color="#a21317"/><stop offset=".773" stop-color="#9f1316"/><stop offset=".864" stop-color="#a21317" stop-opacity=".63"/><stop offset=".955" stop-color="#aa1518" stop-opacity=".06"/></linearGradient><linearGradient id="s54" gradientUnits="userSpaceOnUse" x1="348" x2="379"><stop offset=".016" stop-color="#ee6e1d" stop-opacity=".87"/><stop offset=".048" stop-color="#ed631d"/><stop offset=".242" stop-color="#ea511d"/><stop offset=".726" stop-color="#e2571c"/><stop offset=".887" stop-color="#e1691b"/><stop offset=".952" stop-color="#e37c1b"/><stop offset=".984" stop-color="#e4861b" stop-opacity=".44"/></linearGradient><linearGradient id="s55" gradientUnits="userSpaceOnUse" x1="425" x2="450"><stop offset=".02" stop-color="#d41e1d" stop-opacity=".69"/><stop offset=".06" stop-color="#d21d1d"/><stop offset=".78" stop-color="#c61a1b"/><stop offset=".94" stop-color="#cc1d1c"/><stop offset=".98" stop-color="#cf1f1d" stop-opacity=".56"/></linearGradient><linearGradient id="s56" gradientUnits="userSpaceOnUse" x1="507" x2="519"><stop offset=".042" stop-color="#b21619" stop-opacity=".06"/><stop offset=".125" stop-color="#ac1518" stop-opacity=".81"/><stop offset=".208" stop-color="#a81418"/><stop offset=".792" stop-color="#a21317"/><stop offset=".875" stop-color="#a51417"/><stop offset=".958" stop-color="#aa1418" stop-opacity=".63"/></linearGradient><linearGradient id="s57" gradientUnits="userSpaceOnUse" x1="347" x2="379"><stop offset=".016" stop-color="#ee7e1d" stop-opacity=".13"/><stop offset=".047" stop-color="#ef741d"/><stop offset=".141" stop-color="#ed5f1d"/><stop offset=".453" stop-color="#e8551d"/><stop offset=".828" stop-color="#e1681b"/><stop offset=".953" stop-color="#e4811b"/><stop offset=".984" stop-color="#e58b1b" stop-opacity=".63"/></linearGradient><linearGradient id="s58" gradientUnits="userSpaceOnUse" x1="424" x2="450"><stop offset=".019" stop-color="#da201e" stop-opacity=".06"/><stop offset=".058" stop-color="#d61e1e"/><stop offset=".75" stop-color="#c81b1c"/><stop offset=".942" stop-color="#ce1e1c"/><stop offset=".981" stop-color="#d2201d" stop-opacity=".94"/></linearGradient><linearGradient id="s59" gradientUnits="userSpaceOnUse" x1="507" x2="520"><stop offset=".038" stop-color="#b41619" stop-opacity=".56"/><stop offset=".115" stop-color="#af1519"/><stop offset=".731" stop-color="#a71417"/><stop offset=".885" stop-color="#ad1518"/><stop offset=".962" stop-color="#b31619" stop-opacity=".44"/></linearGradient><linearGradient id="s60" gradientUnits="userSpaceOnUse" x1="347" x2="379"><stop offset=".016" stop-color="#ef821d" stop-opacity=".31"/><stop offset=".047" stop-color="#f0791d"/><stop offset=".203" stop-color="#ed611d"/><stop offset=".609" stop-color="#e6601c"/><stop offset=".859" stop-color="#e3731b"/><stop offset=".953" stop-color="#e58a1b"/><stop offset=".984" stop-color="#e6921b" stop-opacity=".87"/></linearGradient><linearGradient id="s61" gradientUnits="userSpaceOnUse" x1="424" x2="451"><stop offset=".019" stop-color="#da201e" stop-opacity=".38"/><stop offset=".056" stop-color="#d81f1e"/><stop offset=".759" stop-color="#cb1c1c"/><stop offset=".944" stop-color="#d3211d"/><stop offset=".981" stop-color="#d4271d" stop-opacity=".25"/></linearGradient><linearGradient id="s62" gradientUnits="userSpaceOnUse" x1="506" x2="521"><stop offset=".033" stop-color="#be171a" stop-opacity=".31"/><stop offset=".1" stop-color="#b7161a"/><stop offset=".633" stop-color="#ab1518"/><stop offset=".9" stop-color="#b61619"/><stop offset=".967" stop-color="#bb181a" stop-opacity=".19"/></linearGradient><linearGradient id="s63" gradientUnits="userSpaceOnUse" x1="347" x2="380"><stop offset=".015" stop-color="#f0891d" stop-opacity=".56"/><stop offset=".045" stop-color="#f17f1d"/><stop offset=".167" stop-color="#ee6a1d"/><stop offset=".53" stop-color="#e8661c"/><stop offset=".833" stop-color="#e37a1b"/><stop offset=".955" stop-color="#e6961b"/><stop offset=".985" stop-color="#e59c1b" stop-opacity=".19"/></linearGradient><linearGradient id="s64" gradientUnits="userSpaceOnUse" x1="424" x2="451"><stop offset=".019" stop-color="#dd211f" stop-opacity=".69"/><stop offset=".056" stop-color="#da201e"/><stop offset=".759" stop-color="#cd1d1c"/><stop offset=".944" stop-color="#d4241d"/><stop offset=".981" stop-color="#d52c1d" stop-opacity=".63"/></linearGradient><linearGradient id="s65" gradientUnits="userSpaceOnUse" x1="506" x2="521"><stop offset=".033" stop-color="#c1181b" stop-opacity=".87"/><stop offset=".1" stop-color="#bc171a"/><stop offset=".633" stop-color="#b11519"/><stop offset=".9" stop-color="#b81719"/><stop offset=".967" stop-color="#bc181a" stop-opacity=".75"/></linearGradient><linearGradient id="s66" gradientUnits="userSpaceOnUse" x1="347" x2="380"><stop offset=".015" stop-color="#f2901d" stop-opacity=".81"/><stop offset=".045" stop-color="#f2861d"/><stop offset=".227" stop-color="#ee6e1d"/><stop offset=".652" stop-color="#e7721c"/><stop offset=".894" stop-color="#e58c1b"/><stop offset=".955" stop-color="#e69a1b"/><stop offset=".985" stop-color="#e4a21b" stop-opacity=".44"/></linearGradient><linearGradient id="s67" gradientUnits="userSpaceOnUse" x1="423" x2="451"><stop offset=".018" stop-color="#e02a1f" stop-opacity=".06"/><stop offset=".054" stop-color="#df221f"/><stop offset=".696" stop-color="#cf1e1d"/><stop offset=".946" stop-color="#d5271d"/><stop offset=".982" stop-color="#d72f1d" stop-opacity=".87"/></linearGradient><linearGradient id="s68" gradientUnits="userSpaceOnUse" x1="505" x2="522"><stop offset=".029" stop-color="#c7191c" stop-opacity=".5"/><stop offset=".088" stop-color="#c4181b"/><stop offset=".559" stop-color="#b61619"/><stop offset=".912" stop-color="#bd181a"/><stop offset=".971" stop-color="#c0191b" stop-opacity=".38"/></linearGradient><linearGradient id="s69" gradientUnits="userSpaceOnUse" x1="347" x2="380"><stop offset=".015" stop-color="#f3971d"/><stop offset=".106" stop-color="#f1801d"/><stop offset=".379" stop-color="#ed741d"/><stop offset=".773" stop-color="#e6821c"/><stop offset=".955" stop-color="#e69d1b"/><stop offset=".985" stop-color="#e4a51b" stop-opacity=".63"/></linearGradient><linearGradient id="s70" gradientUnits="userSpaceOnUse" x1="423" x2="452"><stop offset=".017" stop-color="#e12a1f" stop-opacity=".38"/><stop offset=".052" stop-color="#e0231f"/><stop offset=".741" stop-color="#d21f1d"/><stop offset=".914" stop-color="#d62a1d"/><stop offset=".948" stop-color="#d8331d"/><stop offset=".983" stop-color="#d93b1c" stop-opacity=".25"/></linearGradient><linearGradient id="s71" gradientUnits="userSpaceOnUse" x1="504" x2="522"><stop offset=".028" stop-color="#cc1b1c" stop-opacity=".06"/><stop offset=".083" stop-color="#ca1a1c" stop-opacity=".94"/><stop offset=".139" stop-color="#c8191c"/><stop offset=".694" stop-color="#bc171a"/><stop offset=".917" stop-color="#bf181a"/><stop offset=".972" stop-color="#c21a1b" stop-opacity=".87"/></linearGradient><linearGradient id="s72" gradientUnits="userSpaceOnUse" x1="346" x2="380"><stop offset=".015" stop-color="#f1a41d" stop-opacity=".25"/><stop offset=".044" stop-color="#f39c1d"/><stop offset=".191" stop-color="#f1831d"/><stop offset=".544" stop-color="#eb7e1c"/><stop offset=".868" stop-color="#e6931b"/><stop offset=".956" stop-color="#e5a21b"/><stop offset=".985" stop-color="#e5aa1b" stop-opacity=".87"/></linearGradient><linearGradient id="s73" gradientUnits="userSpaceOnUse" x1="423" x2="452"><stop offset=".017" stop-color="#e32f1f" stop-opacity=".69"/><stop offset=".052" stop-color="#e2271f"/><stop offset=".741" stop-color="#d4201d"/><stop offset=".914" stop-color="#d7301d"/><stop offset=".948" stop-color="#d9371c"/><stop offset=".983" stop-color="#da401c" stop-opacity=".56"/></linearGradient><linearGradient id="s74" gradientUnits="userSpaceOnUse" x1="504" x2="523"><stop offset=".026" stop-color="#cd1b1c" stop-opacity=".5"/><stop offset=".079" stop-color="#cb1a1c"/><stop offset=".816" stop-color="#c0191b"/><stop offset=".921" stop-color="#c21a1b"/><stop offset=".974" stop-color="#c51b1b" stop-opacity=".38"/></linearGradient><linearGradient id="s75" gradientUnits="userSpaceOnUse" x1="346" x2="381"><stop offset=".014" stop-color="#f1a51d" stop-opacity=".5"/><stop offset=".043" stop-color="#f3a01d"/><stop offset=".214" stop-color="#f2881d"/><stop offset=".614" stop-color="#ea891c"/><stop offset=".929" stop-color="#e5a51b"/><stop offset=".957" stop-color="#e5ac1b"/><stop offset=".986" stop-color="#e3b31b" stop-opacity=".13"/></linearGradient><linearGradient id="s76" gradientUnits="userSpaceOnUse" x1="423" x2="452"><stop offset=".017" stop-color="#e4341e" stop-opacity=".94"/><stop offset=".052" stop-color="#e32a1f"/><stop offset=".293" stop-color="#dc201e"/><stop offset=".81" stop-color="#d6261d"/><stop offset=".948" stop-color="#d93b1c"/><stop offset=".983" stop-color="#dc441c" stop-opacity=".87"/></linearGradient><linearGradient id="s77" gradientUnits="userSpaceOnUse" x1="503" x2="523"><stop offset=".025" stop-color="#d11d1d" stop-opacity=".06"/><stop offset=".075" stop-color="#cf1b1d" stop-opacity=".94"/><stop offset=".125" stop-color="#cd1b1c"/><stop offset=".925" stop-color="#c41b1b"/><stop offset=".975" stop-color="#c81c1c" stop-opacity=".87"/></linearGradient><linearGradient id="s78" gradientUnits="userSpaceOnUse" x1="346" x2="381"><stop offset=".014" stop-color="#f2ab1d" stop-opacity=".75"/><stop offset=".043" stop-color="#f3a51d"/><stop offset=".271" stop-color="#f28e1d"/><stop offset=".729" stop-color="#e9961c"/><stop offset=".929" stop-color="#e5a91b"/><stop offset=".957" stop-color="#e5b01b"/><stop offset=".986" stop-color="#e3b71b" stop-opacity=".31"/></linearGradient><linearGradient id="s79" gradientUnits="userSpaceOnUse" x1="422" x2="453"><stop offset=".016" stop-color="#e5401e" stop-opacity=".31"/><stop offset=".048" stop-color="#e5371e"/><stop offset=".21" stop-color="#e1231f"/><stop offset=".726" stop-color="#d8271e"/><stop offset=".919" stop-color="#da3e1c"/><stop offset=".952" stop-color="#dc481c"/><stop offset=".984" stop-color="#dd521c" stop-opacity=".19"/></linearGradient><linearGradient id="s80" gradientUnits="userSpaceOnUse" x1="503" x2="524"><stop offset=".024" stop-color="#d21d1d" stop-opacity=".44"/><stop offset=".071" stop-color="#d11c1d"/><stop offset=".881" stop-color="#c61b1b"/><stop offset=".929" stop-color="#c81c1c"/><stop offset=".976" stop-color="#cc1d1c" stop-opacity=".38"/></linearGradient><linearGradient id="s81" gradientUnits="userSpaceOnUse" x1="346" x2="381"><stop offset=".014" stop-color="#f2af1d" stop-opacity=".94"/><stop offset=".043" stop-color="#f3a71d"/><stop offset=".329" stop-color="#f1941d"/><stop offset=".843" stop-color="#e5a21b"/><stop offset=".957" stop-color="#e4b41b"/><stop offset=".986" stop-color="#e3ba1b" stop-opacity=".56"/></linearGradient><linearGradient id="s82" gradientUnits="userSpaceOnUse" x1="422" x2="453"><stop offset=".016" stop-color="#e6431e" stop-opacity=".56"/><stop offset=".048" stop-color="#e63a1e"/><stop offset=".306" stop-color="#e0241f"/><stop offset=".726" stop-color="#d92c1d"/><stop offset=".919" stop-color="#db431c"/><stop offset=".952" stop-color="#dd4c1c"/><stop offset=".984" stop-color="#de541b" stop-opacity=".44"/></linearGradient><linearGradient id="s83" gradientUnits="userSpaceOnUse" x1="503" x2="524"><stop offset=".024" stop-color="#d51e1d" stop-opacity=".87"/><stop offset=".071" stop-color="#d31d1d"/><stop offset=".881" stop-color="#c81c1c"/><stop offset=".929" stop-color="#ca1d1c"/><stop offset=".976" stop-color="#cf1e1c" stop-opacity=".81"/></linearGradient><linearGradient id="s84" gradientUnits="userSpaceOnUse" x1="345" x2="381"><stop offset=".014" stop-color="#f0b91d" stop-opacity=".19"/><stop offset=".042" stop-color="#f2b31d"/><stop offset=".236" stop-color="#f39e1d"/><stop offset=".764" stop-color="#e8a11c"/><stop offset=".958" stop-color="#e4b81b"/><stop offset=".986" stop-color="#e4c01b" stop-opacity=".81"/></linearGradient><linearGradient id="s85" gradientUnits="userSpaceOnUse" x1="422" x2="453"><stop offset=".016" stop-color="#e8481e" stop-opacity=".81"/><stop offset=".048" stop-color="#e73f1e"/><stop offset=".306" stop-color="#e12a1f"/><stop offset=".726" stop-color="#db321d"/><stop offset=".919" stop-color="#dd491c"/><stop offset=".952" stop-color="#de501c"/><stop offset=".984" stop-color="#e05b1b" stop-opacity=".81"/></linearGradient><linearGradient id="s86" gradientUnits="userSpaceOnUse" x1="502" x2="525"><stop offset=".022" stop-color="#d91f1e" stop-opacity=".31"/><stop offset=".065" stop-color="#d71e1e"/><stop offset=".848" stop-color="#ca1c1c"/><stop offset=".935" stop-color="#cf1e1d"/><stop offset=".978" stop-color="#d3231d" stop-opacity=".25"/></linearGradient><linearGradient id="s87" gradientUnits="userSpaceOnUse" x1="345" x2="381"><stop offset=".014" stop-color="#f0bb1d" stop-opacity=".38"/><stop offset=".042" stop-color="#f2b71d"/><stop offset=".236" stop-color="#f3a31d"/><stop offset=".792" stop-color="#e7a81c"/><stop offset=".958" stop-color="#e4bc1b"/><stop offset=".986" stop-color="#e3c31c"/></linearGradient><linearGradient id="s88" gradientUnits="userSpaceOnUse" x1="421" x2="454"><stop offset=".015" stop-color="#ea561d" stop-opacity=".13"/><stop offset=".045" stop-color="#e94b1e"/><stop offset=".197" stop-color="#e5351e"/><stop offset=".591" stop-color="#de321e"/><stop offset=".864" stop-color="#dc471c"/><stop offset=".955" stop-color="#e0611b"/><stop offset=".985" stop-color="#e1721b" stop-opacity=".06"/></linearGradient><linearGradient id="s89" gradientUnits="userSpaceOnUse" x1="502" x2="525"><stop offset=".022" stop-color="#db201e" stop-opacity=".69"/><stop offset=".065" stop-color="#d91f1e"/><stop offset=".891" stop-color="#ce1e1d"/><stop offset=".935" stop-color="#d01f1d"/><stop offset=".978" stop-color="#d3231d" stop-opacity=".63"/></linearGradient><linearGradient id="s90" gradientUnits="userSpaceOnUse" x1="345" x2="382"><stop offset=".014" stop-color="#f0c01d" stop-opacity=".63"/><stop offset=".041" stop-color="#f2ba1d"/><stop offset=".257" stop-color="#f2a71d"/><stop offset=".743" stop-color="#e7aa1c"/><stop offset=".932" stop-color="#e4be1b"/><stop offset=".959" stop-color="#e2c61c"/><stop offset=".986" stop-color="#ddc71f" stop-opacity=".25"/></linearGradient><linearGradient id="s91" gradientUnits="userSpaceOnUse" x1="421" x2="454"><stop offset=".015" stop-color="#ea581d" stop-opacity=".38"/><stop offset=".045" stop-color="#ea4f1d"/><stop offset=".258" stop-color="#e5381e"/><stop offset=".652" stop-color="#de391d"/><stop offset=".894" stop-color="#df521b"/><stop offset=".955" stop-color="#e1651b"/><stop offset=".985" stop-color="#e1701b" stop-opacity=".31"/></linearGradient><linearGradient id="s92" gradientUnits="userSpaceOnUse" x1="501" x2="526"><stop offset=".02" stop-color="#e0231f" stop-opacity=".06"/><stop offset=".06" stop-color="#dd211f"/><stop offset=".78" stop-color="#cf1e1d"/><stop offset=".9" stop-color="#d21f1d"/><stop offset=".94" stop-color="#d5261d" stop-opacity=".94"/><stop offset=".98" stop-color="#d7331d" stop-opacity=".06"/></linearGradient><linearGradient id="s93" gradientUnits="userSpaceOnUse" x1="345" x2="382"><stop offset=".014" stop-color="#f1c51d" stop-opacity=".81"/><stop offset=".041" stop-color="#f2be1d"/><stop offset=".257" stop-color="#f2ad1d"/><stop offset=".77" stop-color="#e7b21c"/><stop offset=".959" stop-color="#e0c71e"/><stop offset=".986" stop-color="#d9c722" stop-opacity=".5"/></linearGradient><linearGradient id="s94" gradientUnits="userSpaceOnUse" x1="421" x2="454"><stop offset=".015" stop-color="#eb5d1d" stop-opacity=".63"/><stop offset=".045" stop-color="#ec541d"/><stop offset=".258" stop-color="#e63e1e"/><stop offset=".621" stop-color="#e03f1d"/><stop offset=".894" stop-color="#df561b"/><stop offset=".955" stop-color="#e16a1b"/><stop offset=".985" stop-color="#e2771b" stop-opacity=".63"/></linearGradient><linearGradient id="s95" gradientUnits="userSpaceOnUse" x1="501" x2="526"><stop offset=".02" stop-color="#e0241f" stop-opacity=".44"/><stop offset=".06" stop-color="#df211f"/><stop offset=".82" stop-color="#d11f1d"/><stop offset=".94" stop-color="#d5281d"/><stop offset=".98" stop-color="#d6321d" stop-opacity=".38"/></linearGradient><linearGradient id="s96" gradientUnits="userSpaceOnUse" x1="344" x2="382"><stop offset=".013" stop-color="#ecd11e" stop-opacity=".06"/><stop offset=".039" stop-color="#f1c91d"/><stop offset=".224" stop-color="#f2b41d"/><stop offset=".724" stop-color="#e8b31c"/><stop offset=".934" stop-color="#e3c51b"/><stop offset=".961" stop-color="#ddc820"/><stop offset=".987" stop-color="#d5c826" stop-opacity=".75"/></linearGradient><linearGradient id="s97" gradientUnits="userSpaceOnUse" x1="421" x2="454"><stop offset=".015" stop-color="#ed641d" stop-opacity=".94"/><stop offset=".045" stop-color="#ed591d"/><stop offset=".258" stop-color="#e7431e"/><stop offset=".682" stop-color="#e0461d"/><stop offset=".864" stop-color="#df571b"/><stop offset=".955" stop-color="#e26e1b"/><stop offset=".985" stop-color="#e47d1b" stop-opacity=".87"/></linearGradient><linearGradient id="s98" gradientUnits="userSpaceOnUse" x1="501" x2="526"><stop offset=".02" stop-color="#e2271f" stop-opacity=".81"/><stop offset=".06" stop-color="#e1221f"/><stop offset=".82" stop-color="#d4201d"/><stop offset=".94" stop-color="#d62b1d"/><stop offset=".98" stop-color="#d8361c" stop-opacity=".81"/></linearGradient><linearGradient id="s99" gradientUnits="userSpaceOnUse" x1="344" x2="382"><stop offset=".013" stop-color="#ecd11f" stop-opacity=".31"/><stop offset=".039" stop-color="#f1cd1d"/><stop offset=".197" stop-color="#f2ba1d"/><stop offset=".671" stop-color="#e9b71c"/><stop offset=".908" stop-color="#e3c51c"/><stop offset=".961" stop-color="#d9c823"/><stop offset=".987" stop-color="#d2c829" stop-opacity=".94"/></linearGradient><linearGradient id="s100" gradientUnits="userSpaceOnUse" x1="420" x2="455"><stop offset=".014" stop-color="#ed751d" stop-opacity=".19"/><stop offset=".043" stop-color="#ee691d"/><stop offset=".129" stop-color="#ec551d"/><stop offset=".414" stop-color="#e6461d"/><stop offset=".757" stop-color="#e1521c"/><stop offset=".9" stop-color="#e26d1b"/><stop offset=".957" stop-color="#e4821b"/><stop offset=".986" stop-color="#e58c1b" stop-opacity=".13"/></linearGradient><linearGradient id="s101" gradientUnits="userSpaceOnUse" x1="500" x2="527"><stop offset=".019" stop-color="#e2311e" stop-opacity=".19"/><stop offset=".056" stop-color="#e32a1f"/><stop offset=".278" stop-color="#dc201e"/><stop offset=".833" stop-color="#d6241d"/><stop offset=".944" stop-color="#d9381c"/><stop offset=".981" stop-color="#da431c" stop-opacity=".13"/></linearGradient><linearGradient id="s102" gradientUnits="userSpaceOnUse" x1="344" x2="383"><stop offset=".013" stop-color="#ead220" stop-opacity=".5"/><stop offset=".038" stop-color="#f0d01e"/><stop offset=".244" stop-color="#f1bd1d"/><stop offset=".731" stop-color="#e7be1c"/><stop offset=".91" stop-color="#dcc821"/><stop offset=".962" stop-color="#cdc82c"/><stop offset=".987" stop-color="#c4c732" stop-opacity=".19"/></linearGradient><linearGradient id="s103" gradientUnits="userSpaceOnUse" x1="420" x2="455"><stop offset=".014" stop-color="#ee791d" stop-opacity=".44"/><stop offset=".043" stop-color="#ef6e1d"/><stop offset=".186" stop-color="#ec541d"/><stop offset=".557" stop-color="#e44e1d"/><stop offset=".786" stop-color="#e15c1c"/><stop offset=".9" stop-color="#e2701b"/><stop offset=".957" stop-color="#e5861b"/><stop offset=".986" stop-color="#e5901b" stop-opacity=".44"/></linearGradient><linearGradient id="s104" gradientUnits="userSpaceOnUse" x1="500" x2="527"><stop offset=".019" stop-color="#e4361e" stop-opacity=".56"/><stop offset=".056" stop-color="#e42e1f"/><stop offset=".241" stop-color="#df211f"/><stop offset=".796" stop-color="#d7261d"/><stop offset=".944" stop-color="#d93b1c"/><stop offset=".981" stop-color="#da421c" stop-opacity=".5"/></linearGradient><linearGradient id="s105" gradientUnits="userSpaceOnUse" x1="326" x2="336"><stop offset=".05" stop-color="#273394" stop-opacity=".06"/><stop offset=".15" stop-color="#273395" stop-opacity=".87"/><stop offset=".25" stop-color="#273395" stop-opacity=".87"/><stop offset=".35" stop-color="#273495" stop-opacity=".75"/><stop offset=".45" stop-color="#273495" stop-opacity=".69"/><stop offset=".55" stop-color="#273494" stop-opacity=".5"/><stop offset=".65" stop-color="#273494" stop-opacity=".5"/><stop offset=".75" stop-color="#273495" stop-opacity=".25"/><stop offset=".85" stop-color="#273495" stop-opacity=".25"/><stop offset=".95" stop-color="#273495" stop-opacity=".06"/></linearGradient><linearGradient id="s106" gradientUnits="userSpaceOnUse" x1="344" x2="383"><stop offset=".013" stop-color="#e7d324" stop-opacity=".69"/><stop offset=".038" stop-color="#eed31f"/><stop offset=".321" stop-color="#f0c01d"/><stop offset=".833" stop-color="#e1c71d"/><stop offset=".962" stop-color="#cac82e"/><stop offset=".987" stop-color="#c2c734" stop-opacity=".44"/></linearGradient><linearGradient id="s107" gradientUnits="userSpaceOnUse" x1="420" x2="455"><stop offset=".014" stop-color="#f0801d" stop-opacity=".75"/><stop offset=".043" stop-color="#f0741d"/><stop offset=".186" stop-color="#ed5b1d"/><stop offset=".529" stop-color="#e6521d"/><stop offset=".814" stop-color="#e2671c"/><stop offset=".929" stop-color="#e47e1b"/><stop offset=".957" stop-color="#e58a1b"/><stop offset=".986" stop-color="#e6961b" stop-opacity=".69"/></linearGradient><linearGradient id="s108" gradientUnits="userSpaceOnUse" x1="500" x2="527"><stop offset=".019" stop-color="#e63a1e" stop-opacity=".87"/><stop offset=".056" stop-color="#e5321f"/><stop offset=".315" stop-color="#e0221f"/><stop offset=".796" stop-color="#d82b1d"/><stop offset=".944" stop-color="#da3d1c"/><stop offset=".981" stop-color="#dc481c" stop-opacity=".87"/></linearGradient><linearGradient id="s109" gradientUnits="userSpaceOnUse" x1="325" x2="383"><stop offset=".009" stop-color="#273394" stop-opacity=".06"/><stop offset=".026" stop-color="#273395" stop-opacity=".81"/><stop offset=".043" stop-color="#273395"/><stop offset=".198" stop-color="#283596"/><stop offset=".233" stop-color="#283597" stop-opacity=".75"/><stop offset=".25" stop-color="#283597" stop-opacity=".75"/><stop offset=".267" stop-color="#283596" stop-opacity=".5"/><stop offset=".284" stop-color="#283696" stop-opacity=".5"/><stop offset=".302" stop-color="#283696" stop-opacity=".31"/><stop offset=".319" stop-color="#283697" stop-opacity=".25"/><stop offset=".336" stop-color="#e1d328" stop-opacity=".94"/><stop offset=".353" stop-color="#ead322"/><stop offset=".457" stop-color="#f1c91d"/><stop offset=".802" stop-color="#e7c71c"/><stop offset=".957" stop-color="#cfc82b"/><stop offset=".974" stop-color="#c6c831"/><stop offset=".991" stop-color="#bfc736" stop-opacity=".63"/></linearGradient><linearGradient id="s110" gradientUnits="userSpaceOnUse" x1="420" x2="455"><stop offset=".014" stop-color="#f1871d"/><stop offset=".129" stop-color="#ef6a1d"/><stop offset=".386" stop-color="#ea581d"/><stop offset=".729" stop-color="#e4651c"/><stop offset=".9" stop-color="#e37e1b"/><stop offset=".957" stop-color="#e6911b"/><stop offset=".986" stop-color="#e69a1b" stop-opacity=".94"/></linearGradient><linearGradient id="s111" gradientUnits="userSpaceOnUse" x1="499" x2="528"><stop offset=".017" stop-color="#e7471e" stop-opacity=".31"/><stop offset=".052" stop-color="#e73e1e"/><stop offset=".259" stop-color="#e3291f"/><stop offset=".672" stop-color="#db2b1e"/><stop offset=".914" stop-color="#db421c"/><stop offset=".948" stop-color="#dd4a1c"/><stop offset=".983" stop-color="#dd531b" stop-opacity=".19"/></linearGradient><linearGradient id="s112" gradientUnits="userSpaceOnUse" x1="325" x2="383"><stop offset=".009" stop-color="#273394" stop-opacity=".69"/><stop offset=".026" stop-color="#273395"/><stop offset=".302" stop-color="#283698"/><stop offset=".319" stop-color="#495385"/><stop offset=".336" stop-color="#dfd32a"/><stop offset=".405" stop-color="#f0d31e"/><stop offset=".698" stop-color="#ebc91c"/><stop offset=".905" stop-color="#d5c826"/><stop offset=".974" stop-color="#c2c835"/><stop offset=".991" stop-color="#b9c83c" stop-opacity=".81"/></linearGradient><linearGradient id="s113" gradientUnits="userSpaceOnUse" x1="419" x2="456"><stop offset=".014" stop-color="#f1941d" stop-opacity=".19"/><stop offset=".041" stop-color="#f28b1d"/><stop offset=".149" stop-color="#f0701d"/><stop offset=".419" stop-color="#ea601d"/><stop offset=".743" stop-color="#e5701c"/><stop offset=".905" stop-color="#e58a1b"/><stop offset=".959" stop-color="#e69d1b"/><stop offset=".986" stop-color="#e4a41b" stop-opacity=".25"/></linearGradient><linearGradient id="s114" gradientUnits="userSpaceOnUse" x1="499" x2="528"><stop offset=".017" stop-color="#e8491e" stop-opacity=".56"/><stop offset=".052" stop-color="#e8421e"/><stop offset=".259" stop-color="#e42f1f"/><stop offset=".707" stop-color="#db311d"/><stop offset=".914" stop-color="#dc461c"/><stop offset=".948" stop-color="#de4e1c"/><stop offset=".983" stop-color="#de571b" stop-opacity=".56"/></linearGradient><linearGradient id="s115" gradientUnits="userSpaceOnUse" x1="324" x2="384"><stop offset=".008" stop-color="#273394" stop-opacity=".63"/><stop offset=".025" stop-color="#273395"/><stop offset=".308" stop-color="#283698"/><stop offset=".325" stop-color="#687172"/><stop offset=".342" stop-color="#dbd32d"/><stop offset=".425" stop-color="#eed31f"/><stop offset=".775" stop-color="#e3cb20"/><stop offset=".958" stop-color="#c0c836"/><stop offset=".975" stop-color="#b6c73e"/><stop offset=".992" stop-color="#acc445" stop-opacity=".06"/></linearGradient><linearGradient id="s116" gradientUnits="userSpaceOnUse" x1="419" x2="456"><stop offset=".014" stop-color="#f29a1d" stop-opacity=".5"/><stop offset=".041" stop-color="#f3911d"/><stop offset=".176" stop-color="#f0741d"/><stop offset=".473" stop-color="#ea681d"/><stop offset=".77" stop-color="#e5791c"/><stop offset=".959" stop-color="#e5a01b"/><stop offset=".986" stop-color="#e4a81b" stop-opacity=".5"/></linearGradient><linearGradient id="s117" gradientUnits="userSpaceOnUse" x1="499" x2="528"><stop offset=".017" stop-color="#ea4e1e" stop-opacity=".87"/><stop offset=".052" stop-color="#e9461e"/><stop offset=".328" stop-color="#e3321e"/><stop offset=".776" stop-color="#dc3c1d"/><stop offset=".948" stop-color="#de511b"/><stop offset=".983" stop-color="#e05c1b" stop-opacity=".87"/></linearGradient><linearGradient id="s118" gradientUnits="userSpaceOnUse" x1="323" x2="384"><stop offset=".008" stop-color="#273394" stop-opacity=".44"/><stop offset=".025" stop-color="#273395"/><stop offset=".32" stop-color="#283698"/><stop offset=".336" stop-color="#858f61"/><stop offset=".352" stop-color="#d7d430"/><stop offset=".467" stop-color="#ecd321"/><stop offset=".746" stop-color="#e1cd22"/><stop offset=".926" stop-color="#c6c831"/><stop offset=".975" stop-color="#b2c641"/><stop offset=".992" stop-color="#aac447" stop-opacity=".31"/></linearGradient><linearGradient id="s119" gradientUnits="userSpaceOnUse" x1="419" x2="456"><stop offset=".014" stop-color="#f3a01d" stop-opacity=".75"/><stop offset=".041" stop-color="#f3971d"/><stop offset=".203" stop-color="#f0791d"/><stop offset=".527" stop-color="#ea711c"/><stop offset=".824" stop-color="#e6891b"/><stop offset=".959" stop-color="#e5a31b"/><stop offset=".986" stop-color="#e5ac1b" stop-opacity=".75"/></linearGradient><linearGradient id="s120" gradientUnits="userSpaceOnUse" x1="498" x2="529"><stop offset=".016" stop-color="#eb5b1d" stop-opacity=".19"/><stop offset=".048" stop-color="#eb521d"/><stop offset=".242" stop-color="#e63b1e"/><stop offset=".661" stop-color="#df3b1d"/><stop offset=".887" stop-color="#de4f1c"/><stop offset=".952" stop-color="#e0621b"/><stop offset=".984" stop-color="#e06a1b" stop-opacity=".19"/></linearGradient><linearGradient id="s121" gradientUnits="userSpaceOnUse" x1="322" x2="387"><stop offset=".008" stop-color="#273394" stop-opacity=".31"/><stop offset=".023" stop-color="#273395"/><stop offset=".315" stop-color="#283798"/><stop offset=".331" stop-color="#acb64b"/><stop offset=".346" stop-color="#d4d433"/><stop offset=".454" stop-color="#e6d325"/><stop offset=".731" stop-color="#dbcc26"/><stop offset=".9" stop-color="#bec837"/><stop offset=".931" stop-color="#aec645"/><stop offset=".946" stop-color="#7e9b6d" stop-opacity=".75"/><stop offset=".962" stop-color="#304db0" stop-opacity=".25"/><stop offset=".977" stop-color="#314db0" stop-opacity=".25"/><stop offset=".992" stop-color="#314eb1" stop-opacity=".13"/></linearGradient><linearGradient id="s122" gradientUnits="userSpaceOnUse" x1="419" x2="457"><stop offset=".013" stop-color="#f3a41d" stop-opacity=".94"/><stop offset=".039" stop-color="#f49d1d"/><stop offset=".197" stop-color="#f1811d"/><stop offset=".513" stop-color="#eb7a1c"/><stop offset=".803" stop-color="#e68f1b"/><stop offset=".934" stop-color="#e5a61b"/><stop offset=".961" stop-color="#e5b01b"/><stop offset=".987" stop-color="#e3b81b" stop-opacity=".06"/></linearGradient><linearGradient id="s123" gradientUnits="userSpaceOnUse" x1="498" x2="529"><stop offset=".016" stop-color="#ec5f1d" stop-opacity=".56"/><stop offset=".048" stop-color="#ec551d"/><stop offset=".274" stop-color="#e73f1e"/><stop offset=".694" stop-color="#df421d"/><stop offset=".887" stop-color="#de531c"/><stop offset=".952" stop-color="#e1651b"/><stop offset=".984" stop-color="#e1711b" stop-opacity=".56"/></linearGradient><linearGradient id="s124" gradientUnits="userSpaceOnUse" x1="321" x2="398"><stop offset=".006" stop-color="#273393" stop-opacity=".19"/><stop offset=".019" stop-color="#273395" stop-opacity=".94"/><stop offset=".032" stop-color="#273395"/><stop offset=".279" stop-color="#283798"/><stop offset=".292" stop-color="#c7d33c"/><stop offset=".37" stop-color="#dfd42a"/><stop offset=".578" stop-color="#dbce28"/><stop offset=".76" stop-color="#bcc839"/><stop offset=".799" stop-color="#a9c549"/><stop offset=".812" stop-color="#85a668"/><stop offset=".825" stop-color="#314db1"/><stop offset=".877" stop-color="#3150b3"/><stop offset=".903" stop-color="#3251b4" stop-opacity=".75"/><stop offset=".916" stop-color="#3251b4" stop-opacity=".75"/><stop offset=".929" stop-color="#3251b4" stop-opacity=".56"/><stop offset=".942" stop-color="#3251b4" stop-opacity=".5"/><stop offset=".955" stop-color="#3252b4" stop-opacity=".5"/><stop offset=".968" stop-color="#3252b4" stop-opacity=".31"/><stop offset=".994" stop-color="#3253b5" stop-opacity=".19"/></linearGradient><linearGradient id="s125" gradientUnits="userSpaceOnUse" x1="418" x2="457"><stop offset=".013" stop-color="#f1ad1d" stop-opacity=".25"/><stop offset=".038" stop-color="#f3a71d"/><stop offset=".244" stop-color="#f1871d"/><stop offset=".551" stop-color="#eb811c"/><stop offset=".885" stop-color="#e69f1b"/><stop offset=".962" stop-color="#e5b21b"/><stop offset=".987" stop-color="#e3bb1b" stop-opacity=".25"/></linearGradient><linearGradient id="s126" gradientUnits="userSpaceOnUse" x1="498" x2="529"><stop offset=".016" stop-color="#ee671d" stop-opacity=".87"/><stop offset=".048" stop-color="#ed5a1d"/><stop offset=".306" stop-color="#e8441e"/><stop offset=".726" stop-color="#e04a1c"/><stop offset=".887" stop-color="#df591b"/><stop offset=".952" stop-color="#e16b1b"/><stop offset=".984" stop-color="#e3781b" stop-opacity=".87"/></linearGradient><linearGradient id="s127" gradientUnits="userSpaceOnUse" x1="320" x2="408"><stop offset=".006" stop-color="#273393" stop-opacity=".13"/><stop offset=".017" stop-color="#273395" stop-opacity=".94"/><stop offset=".028" stop-color="#273395"/><stop offset=".244" stop-color="#283799"/><stop offset=".256" stop-color="#4d5d84"/><stop offset=".267" stop-color="#c3d340"/><stop offset=".301" stop-color="#d5d432"/><stop offset=".449" stop-color="#dbd12a"/><stop offset=".631" stop-color="#c3c935"/><stop offset=".71" stop-color="#a7c44a"/><stop offset=".722" stop-color="#9cc253"/><stop offset=".733" stop-color="#3755ad"/><stop offset=".767" stop-color="#3150b3"/><stop offset=".903" stop-color="#3253b6"/><stop offset=".926" stop-color="#3254b7" stop-opacity=".75"/><stop offset=".938" stop-color="#3254b7" stop-opacity=".75"/><stop offset=".949" stop-color="#3254b6" stop-opacity=".56"/><stop offset=".972" stop-color="#3254b6" stop-opacity=".44"/><stop offset=".983" stop-color="#3255b6" stop-opacity=".25"/><stop offset=".994" stop-color="#3255b6" stop-opacity=".25"/></linearGradient><linearGradient id="s128" gradientUnits="userSpaceOnUse" x1="418" x2="457"><stop offset=".013" stop-color="#f1b21d" stop-opacity=".5"/><stop offset=".038" stop-color="#f3aa1d"/><stop offset=".269" stop-color="#f28d1d"/><stop offset=".551" stop-color="#ec891c"/><stop offset=".885" stop-color="#e5a41b"/><stop offset=".962" stop-color="#e4b51b"/><stop offset=".987" stop-color="#e3bd1b" stop-opacity=".56"/></linearGradient><linearGradient id="s129" gradientUnits="userSpaceOnUse" x1="497" x2="530"><stop offset=".015" stop-color="#ee751d" stop-opacity=".13"/><stop offset=".045" stop-color="#ee6a1d"/><stop offset=".167" stop-color="#ec521e"/><stop offset=".53" stop-color="#e4491d"/><stop offset=".803" stop-color="#e1571c"/><stop offset=".924" stop-color="#e2701b"/><stop offset=".955" stop-color="#e47c1b"/><stop offset=".985" stop-color="#e4891b" stop-opacity=".13"/></linearGradient><linearGradient id="s130" gradientUnits="userSpaceOnUse" x1="319" x2="457"><stop offset=".004" stop-color="#273393" stop-opacity=".06"/><stop offset=".011" stop-color="#273395" stop-opacity=".81"/><stop offset=".018" stop-color="#273395"/><stop offset=".163" stop-color="#283799"/><stop offset=".17" stop-color="#667a77"/><stop offset=".178" stop-color="#c0d242"/><stop offset=".214" stop-color="#d3d433"/><stop offset=".322" stop-color="#d3cf2f"/><stop offset=".424" stop-color="#bac83b"/><stop offset=".467" stop-color="#9ac256"/><stop offset=".475" stop-color="#496b9d"/><stop offset=".482" stop-color="#314fb3"/><stop offset=".656" stop-color="#3355b8"/><stop offset=".663" stop-color="#3355b8" stop-opacity=".94"/><stop offset=".67" stop-color="#3356b8" stop-opacity=".75"/><stop offset=".678" stop-color="#3356b8" stop-opacity=".75"/><stop offset=".685" stop-color="#3356b7" stop-opacity=".5"/><stop offset=".692" stop-color="#3356b7" stop-opacity=".5"/><stop offset=".707" stop-color="#3356b8" stop-opacity=".25"/><stop offset=".714" stop-color="#3356b8" stop-opacity=".19"/><stop offset=".721" stop-color="#f2b61d" stop-opacity=".69"/><stop offset=".728" stop-color="#f3ae1d"/><stop offset=".808" stop-color="#f1911d"/><stop offset=".909" stop-color="#ea961c"/><stop offset=".975" stop-color="#e5ae1b"/><stop offset=".989" stop-color="#e4ba1b"/><stop offset=".996" stop-color="#e3c21c" stop-opacity=".81"/></linearGradient><linearGradient id="s131" gradientUnits="userSpaceOnUse" x1="497" x2="530"><stop offset=".015" stop-color="#ef7b1d" stop-opacity=".44"/><stop offset=".045" stop-color="#ef6f1d"/><stop offset=".197" stop-color="#ec551d"/><stop offset=".591" stop-color="#e5501d"/><stop offset=".833" stop-color="#e1611b"/><stop offset=".955" stop-color="#e4801b"/><stop offset=".985" stop-color="#e48c1b" stop-opacity=".44"/></linearGradient><linearGradient id="s132" gradientUnits="userSpaceOnUse" x1="319" x2="457"><stop offset=".004" stop-color="#273394" stop-opacity=".69"/><stop offset=".011" stop-color="#273395"/><stop offset=".163" stop-color="#283799"/><stop offset=".17" stop-color="#86a066"/><stop offset=".178" stop-color="#bcd246"/><stop offset=".214" stop-color="#ced437"/><stop offset=".322" stop-color="#ced033"/><stop offset=".431" stop-color="#b1c642"/><stop offset=".46" stop-color="#9fc351"/><stop offset=".467" stop-color="#95c15a"/><stop offset=".482" stop-color="#3150b3"/><stop offset=".714" stop-color="#3357b9"/><stop offset=".721" stop-color="#e6b327"/><stop offset=".728" stop-color="#f3b21d"/><stop offset=".801" stop-color="#f39b1d"/><stop offset=".917" stop-color="#e99d1c"/><stop offset=".982" stop-color="#e4b61b"/><stop offset=".996" stop-color="#e3c41c"/></linearGradient><linearGradient id="s133" gradientUnits="userSpaceOnUse" x1="497" x2="530"><stop offset=".015" stop-color="#f1811d" stop-opacity=".69"/><stop offset=".045" stop-color="#f0741d"/><stop offset=".227" stop-color="#ed591d"/><stop offset=".591" stop-color="#e6551c"/><stop offset=".864" stop-color="#e26d1b"/><stop offset=".955" stop-color="#e5861b"/><stop offset=".985" stop-color="#e6921b" stop-opacity=".75"/></linearGradient><linearGradient id="s134" gradientUnits="userSpaceOnUse" x1="318" x2="458"><stop offset=".004" stop-color="#273394" stop-opacity=".63"/><stop offset=".011" stop-color="#273395"/><stop offset=".168" stop-color="#293899"/><stop offset=".175" stop-color="#9cbc5a"/><stop offset=".182" stop-color="#b6d14a"/><stop offset=".218" stop-color="#c9d43b"/><stop offset=".332" stop-color="#c8cf37"/><stop offset=".432" stop-color="#acc546"/><stop offset=".468" stop-color="#90c05d"/><stop offset=".475" stop-color="#73a379"/><stop offset=".482" stop-color="#3250b4"/><stop offset=".704" stop-color="#3357b9"/><stop offset=".711" stop-color="#627392"/><stop offset=".718" stop-color="#f2bd1d"/><stop offset=".768" stop-color="#f4a41d"/><stop offset=".889" stop-color="#eb9e1c"/><stop offset=".961" stop-color="#e4b11b"/><stop offset=".989" stop-color="#e1c71d"/><stop offset=".996" stop-color="#d9c723" stop-opacity=".31"/></linearGradient><linearGradient id="s135" gradientUnits="userSpaceOnUse" x1="497" x2="531"><stop offset=".015" stop-color="#f1861d"/><stop offset=".162" stop-color="#ef661d"/><stop offset=".456" stop-color="#e95a1d"/><stop offset=".809" stop-color="#e36f1c"/><stop offset=".926" stop-color="#e58a1b"/><stop offset=".956" stop-color="#e6951b"/><stop offset=".985" stop-color="#e59d1b" stop-opacity=".06"/></linearGradient><linearGradient id="s136" gradientUnits="userSpaceOnUse" x1="317" x2="458"><stop offset=".004" stop-color="#273394" stop-opacity=".44"/><stop offset=".011" stop-color="#273395"/><stop offset=".167" stop-color="#293899"/><stop offset=".174" stop-color="#304196"/><stop offset=".181" stop-color="#aace54"/><stop offset=".209" stop-color="#bfd344"/><stop offset=".287" stop-color="#c7d23a"/><stop offset=".408" stop-color="#b2c843"/><stop offset=".465" stop-color="#95c15a"/><stop offset=".479" stop-color="#84bd6b"/><stop offset=".486" stop-color="#3251b4"/><stop offset=".706" stop-color="#3357b9"/><stop offset=".713" stop-color="#868875"/><stop offset=".72" stop-color="#f2c11d"/><stop offset=".77" stop-color="#f3aa1d"/><stop offset=".883" stop-color="#eca31c"/><stop offset=".961" stop-color="#e4b41b"/><stop offset=".989" stop-color="#dfc71f"/><stop offset=".996" stop-color="#d6c724" stop-opacity=".56"/></linearGradient><linearGradient id="s137" gradientUnits="userSpaceOnUse" x1="496" x2="531"><stop offset=".014" stop-color="#f2961d" stop-opacity=".31"/><stop offset=".043" stop-color="#f28b1d"/><stop offset=".186" stop-color="#ef6e1d"/><stop offset=".5" stop-color="#e9621d"/><stop offset=".814" stop-color="#e4761c"/><stop offset=".957" stop-color="#e6991b"/><stop offset=".986" stop-color="#e4a01b" stop-opacity=".38"/></linearGradient><linearGradient id="s138" gradientUnits="userSpaceOnUse" x1="316" x2="458"><stop offset=".004" stop-color="#273394" stop-opacity=".38"/><stop offset=".011" stop-color="#273395"/><stop offset=".173" stop-color="#29389a"/><stop offset=".18" stop-color="#4c6688"/><stop offset=".187" stop-color="#a5cd58"/><stop offset=".222" stop-color="#bcd246"/><stop offset=".327" stop-color="#bfcf3f"/><stop offset=".433" stop-color="#a5c44d"/><stop offset=".475" stop-color="#88be65"/><stop offset=".482" stop-color="#81bc70"/><stop offset=".489" stop-color="#3f65aa"/><stop offset=".496" stop-color="#3252b5"/><stop offset=".708" stop-color="#3357b9"/><stop offset=".715" stop-color="#b5a74e"/><stop offset=".722" stop-color="#f2c51d"/><stop offset=".778" stop-color="#f3ad1d"/><stop offset=".898" stop-color="#eaa91c"/><stop offset=".968" stop-color="#e4bd1b"/><stop offset=".989" stop-color="#dcc821"/><stop offset=".996" stop-color="#d3c828" stop-opacity=".75"/></linearGradient><linearGradient id="s139" gradientUnits="userSpaceOnUse" x1="496" x2="531"><stop offset=".014" stop-color="#f29a1d" stop-opacity=".56"/><stop offset=".043" stop-color="#f3901d"/><stop offset=".186" stop-color="#f0751d"/><stop offset=".5" stop-color="#ea6a1d"/><stop offset=".814" stop-color="#e57e1c"/><stop offset=".957" stop-color="#e69c1b"/><stop offset=".986" stop-color="#e4a31b" stop-opacity=".63"/></linearGradient><linearGradient id="s140" gradientUnits="userSpaceOnUse" x1="315" x2="466"><stop offset=".003" stop-color="#273394" stop-opacity=".25"/><stop offset=".01" stop-color="#273395"/><stop offset=".169" stop-color="#29389a"/><stop offset=".175" stop-color="#668a7c"/><stop offset=".182" stop-color="#a2cd5b"/><stop offset=".228" stop-color="#bad147"/><stop offset=".348" stop-color="#b4cb46"/><stop offset=".434" stop-color="#96c159"/><stop offset=".454" stop-color="#85be69"/><stop offset=".46" stop-color="#7dbb77"/><stop offset=".467" stop-color="#4e7fa1"/><stop offset=".474" stop-color="#3252b5"/><stop offset=".672" stop-color="#3357b9"/><stop offset=".679" stop-color="#e4c827"/><stop offset=".685" stop-color="#f2c91d"/><stop offset=".745" stop-color="#f2b01d"/><stop offset=".864" stop-color="#e9b01c"/><stop offset=".93" stop-color="#ddc820"/><stop offset=".944" stop-color="#cfc82b"/><stop offset=".95" stop-color="#3d62b3" stop-opacity=".94"/><stop offset=".957" stop-color="#345bbd" stop-opacity=".75"/><stop offset=".964" stop-color="#345bbd" stop-opacity=".75"/><stop offset=".97" stop-color="#345bbc" stop-opacity=".5"/><stop offset=".977" stop-color="#345bbc" stop-opacity=".5"/><stop offset=".983" stop-color="#345bbc" stop-opacity=".31"/><stop offset=".99" stop-color="#345cbc" stop-opacity=".25"/><stop offset=".997" stop-color="#345cbc" stop-opacity=".13"/></linearGradient><linearGradient id="s141" gradientUnits="userSpaceOnUse" x1="496" x2="531"><stop offset=".014" stop-color="#f49f1d" stop-opacity=".81"/><stop offset=".043" stop-color="#f4961d"/><stop offset=".214" stop-color="#f17a1d"/><stop offset=".557" stop-color="#ea721c"/><stop offset=".843" stop-color="#e6891b"/><stop offset=".957" stop-color="#e59f1b"/><stop offset=".986" stop-color="#e5a71b" stop-opacity=".94"/></linearGradient><linearGradient id="s142" gradientUnits="userSpaceOnUse" x1="314" x2="474"><stop offset=".003" stop-color="#273394" stop-opacity=".19"/><stop offset=".009" stop-color="#273395" stop-opacity=".94"/><stop offset=".016" stop-color="#273495"/><stop offset=".166" stop-color="#29399a"/><stop offset=".172" stop-color="#7fae72"/><stop offset=".178" stop-color="#9dcc5f"/><stop offset=".209" stop-color="#b1d04f"/><stop offset=".309" stop-color="#b4cd48"/><stop offset=".403" stop-color="#97c158"/><stop offset=".428" stop-color="#86be67"/><stop offset=".441" stop-color="#78ba7e"/><stop offset=".447" stop-color="#609e98"/><stop offset=".453" stop-color="#3253b6"/><stop offset=".634" stop-color="#3357b9"/><stop offset=".641" stop-color="#4966a6"/><stop offset=".647" stop-color="#efd21e"/><stop offset=".703" stop-color="#f2b71d"/><stop offset=".816" stop-color="#e9b41c"/><stop offset=".884" stop-color="#ddc820"/><stop offset=".897" stop-color="#ccc82d"/><stop offset=".903" stop-color="#617d92"/><stop offset=".909" stop-color="#345bbd"/><stop offset=".953" stop-color="#345cbd"/><stop offset=".959" stop-color="#345cbd" stop-opacity=".81"/><stop offset=".966" stop-color="#345cbd" stop-opacity=".75"/><stop offset=".978" stop-color="#345cbc" stop-opacity=".5"/><stop offset=".984" stop-color="#345cbc" stop-opacity=".44"/><stop offset=".991" stop-color="#345cbc" stop-opacity=".25"/><stop offset=".997" stop-color="#345cbc" stop-opacity=".19"/></linearGradient><linearGradient id="s143" gradientUnits="userSpaceOnUse" x1="495" x2="532"><stop offset=".014" stop-color="#f1ab1d" stop-opacity=".13"/><stop offset=".041" stop-color="#f3a31d"/><stop offset=".176" stop-color="#f2871d"/><stop offset=".473" stop-color="#ec791d"/><stop offset=".77" stop-color="#e7881c"/><stop offset=".932" stop-color="#e5a11b"/><stop offset=".959" stop-color="#e5aa1b"/><stop offset=".986" stop-color="#e4b01b" stop-opacity=".25"/></linearGradient><linearGradient id="s144" gradientUnits="userSpaceOnUse" x1="313" x2="482"><stop offset=".003" stop-color="#273394" stop-opacity=".06"/><stop offset=".009" stop-color="#273395" stop-opacity=".87"/><stop offset=".015" stop-color="#273495"/><stop offset=".163" stop-color="#29399b"/><stop offset=".169" stop-color="#8ec96d"/><stop offset=".186" stop-color="#a3cd5b"/><stop offset=".24" stop-color="#b1cf4e"/><stop offset=".352" stop-color="#a1c653"/><stop offset=".405" stop-color="#86be68"/><stop offset=".411" stop-color="#83bd6b"/><stop offset=".429" stop-color="#68b096"/><stop offset=".435" stop-color="#3253b6"/><stop offset=".607" stop-color="#3357b9"/><stop offset=".612" stop-color="#758682"/><stop offset=".618" stop-color="#edd320"/><stop offset=".689" stop-color="#f1b81d"/><stop offset=".79" stop-color="#e8bb1c"/><stop offset=".837" stop-color="#ddc820"/><stop offset=".855" stop-color="#c9c82f"/><stop offset=".867" stop-color="#345bbd"/><stop offset=".962" stop-color="#345cbd"/><stop offset=".967" stop-color="#345cbd" stop-opacity=".75"/><stop offset=".973" stop-color="#345cbd" stop-opacity=".75"/><stop offset=".979" stop-color="#345cbc" stop-opacity=".5"/><stop offset=".985" stop-color="#345cbc" stop-opacity=".44"/><stop offset=".991" stop-color="#345cbc" stop-opacity=".25"/><stop offset=".997" stop-color="#345cbc" stop-opacity=".19"/></linearGradient><linearGradient id="s145" gradientUnits="userSpaceOnUse" x1="495" x2="532"><stop offset=".014" stop-color="#f1ab1d" stop-opacity=".38"/><stop offset=".041" stop-color="#f3a61d"/><stop offset=".257" stop-color="#f2881d"/><stop offset=".581" stop-color="#eb821c"/><stop offset=".905" stop-color="#e5a01b"/><stop offset=".959" stop-color="#e5ae1b"/><stop offset=".986" stop-color="#e3b51b" stop-opacity=".5"/></linearGradient><linearGradient id="s146" gradientUnits="userSpaceOnUse" x1="312" x2="490"><stop offset=".003" stop-color="#273494" stop-opacity=".06"/><stop offset=".008" stop-color="#273495" stop-opacity=".81"/><stop offset=".014" stop-color="#273495"/><stop offset=".154" stop-color="#293a9b"/><stop offset=".16" stop-color="#3f5c95"/><stop offset=".166" stop-color="#8bc870"/><stop offset=".188" stop-color="#a2cd5c"/><stop offset=".256" stop-color="#abcd51"/><stop offset=".357" stop-color="#95c35c"/><stop offset=".39" stop-color="#83bd6c"/><stop offset=".407" stop-color="#71b88b"/><stop offset=".413" stop-color="#68b59b"/><stop offset=".419" stop-color="#3e6bb2"/><stop offset=".424" stop-color="#3254b6"/><stop offset=".581" stop-color="#3357b9"/><stop offset=".587" stop-color="#aaac56"/><stop offset=".593" stop-color="#ead323"/><stop offset=".621" stop-color="#f2c81d"/><stop offset=".711" stop-color="#ecba1c"/><stop offset=".789" stop-color="#dfc81f"/><stop offset=".817" stop-color="#c6c831"/><stop offset=".823" stop-color="#a2b353"/><stop offset=".829" stop-color="#345bbd"/><stop offset=".963" stop-color="#345cbd"/><stop offset=".969" stop-color="#345cbd" stop-opacity=".75"/><stop offset=".975" stop-color="#345cbd" stop-opacity=".69"/><stop offset=".98" stop-color="#345cbc" stop-opacity=".5"/><stop offset=".986" stop-color="#345cbc" stop-opacity=".44"/><stop offset=".992" stop-color="#345cbc" stop-opacity=".25"/><stop offset=".997" stop-color="#345cbc" stop-opacity=".13"/></linearGradient><linearGradient id="s147" gradientUnits="userSpaceOnUse" x1="495" x2="532"><stop offset=".014" stop-color="#f1b01d" stop-opacity=".63"/><stop offset=".041" stop-color="#f3a91d"/><stop offset=".338" stop-color="#f18a1d"/><stop offset=".689" stop-color="#ea8f1c"/><stop offset=".932" stop-color="#e5a91b"/><stop offset=".959" stop-color="#e5b01b"/><stop offset=".986" stop-color="#e4b91b" stop-opacity=".81"/></linearGradient><linearGradient id="s148" gradientUnits="userSpaceOnUse" x1="312" x2="533"><stop offset=".002" stop-color="#273495" stop-opacity=".75"/><stop offset=".007" stop-color="#273495"/><stop offset=".124" stop-color="#293a9c"/><stop offset=".129" stop-color="#4e7693"/><stop offset=".133" stop-color="#87c777"/><stop offset=".147" stop-color="#98cc64"/><stop offset=".192" stop-color="#a6cd56"/><stop offset=".278" stop-color="#95c35d"/><stop offset=".31" stop-color="#80bc70"/><stop offset=".319" stop-color="#7abb7a"/><stop offset=".333" stop-color="#66b49f"/><stop offset=".342" stop-color="#3254b7"/><stop offset=".468" stop-color="#3357b9"/><stop offset=".473" stop-color="#d1cb35"/><stop offset=".477" stop-color="#e6d426"/><stop offset=".495" stop-color="#f2cf1d"/><stop offset=".563" stop-color="#edbf1c"/><stop offset=".631" stop-color="#dec820"/><stop offset=".658" stop-color="#c1c835"/><stop offset=".663" stop-color="#b9c73c"/><stop offset=".667" stop-color="#3c62b6"/><stop offset=".676" stop-color="#345cbd"/><stop offset=".808" stop-color="#345cbd"/><stop offset=".817" stop-color="#345cbd" stop-opacity=".75"/><stop offset=".821" stop-color="#345cbc" stop-opacity=".56"/><stop offset=".826" stop-color="#345cbc" stop-opacity=".5"/><stop offset=".83" stop-color="#f2b51d" stop-opacity=".94"/><stop offset=".835" stop-color="#f3ad1d"/><stop offset=".889" stop-color="#f1911d"/><stop offset=".957" stop-color="#e89a1c"/><stop offset=".989" stop-color="#e4b31b"/><stop offset=".993" stop-color="#e4bc1b"/><stop offset=".998" stop-color="#e1c61c" stop-opacity=".06"/></linearGradient><linearGradient id="s149" gradientUnits="userSpaceOnUse" x1="311" x2="533"><stop offset=".002" stop-color="#273495" stop-opacity=".63"/><stop offset=".007" stop-color="#273496"/><stop offset=".128" stop-color="#2a3b9c"/><stop offset=".133" stop-color="#619892"/><stop offset=".137" stop-color="#83c67e"/><stop offset=".146" stop-color="#91ca6a"/><stop offset=".196" stop-color="#a0cc5c"/><stop offset=".277" stop-color="#91c361"/><stop offset=".309" stop-color="#7ebc73"/><stop offset=".331" stop-color="#6ab696"/><stop offset=".336" stop-color="#64b4a4"/><stop offset=".34" stop-color="#559ab0"/><stop offset=".345" stop-color="#3254b7"/><stop offset=".466" stop-color="#3357b9"/><stop offset=".471" stop-color="#4667a9"/><stop offset=".475" stop-color="#dad42e"/><stop offset=".498" stop-color="#f0d31e"/><stop offset=".565" stop-color="#edc41c"/><stop offset=".624" stop-color="#e0c920"/><stop offset=".66" stop-color="#c0c836"/><stop offset=".664" stop-color="#b4c740"/><stop offset=".669" stop-color="#52769f"/><stop offset=".673" stop-color="#345bbd"/><stop offset=".822" stop-color="#345cbd"/><stop offset=".827" stop-color="#4c68a9"/><stop offset=".831" stop-color="#f2b81d"/><stop offset=".863" stop-color="#f4a01d"/><stop offset=".926" stop-color="#ed991c"/><stop offset=".975" stop-color="#e5a81b"/><stop offset=".993" stop-color="#e4bf1b"/><stop offset=".998" stop-color="#e2c51c" stop-opacity=".31"/></linearGradient><linearGradient id="s150" gradientUnits="userSpaceOnUse" x1="310" x2="533"><stop offset=".002" stop-color="#273495" stop-opacity=".63"/><stop offset=".007" stop-color="#273596"/><stop offset=".132" stop-color="#2a3b9d"/><stop offset=".137" stop-color="#6cb197"/><stop offset=".141" stop-color="#80c585"/><stop offset=".159" stop-color="#91ca6a"/><stop offset=".213" stop-color="#9aca60"/><stop offset=".289" stop-color="#88c169"/><stop offset=".325" stop-color="#70b88d"/><stop offset=".343" stop-color="#5fb0b4"/><stop offset=".348" stop-color="#355bb7"/><stop offset=".383" stop-color="#3356b8"/><stop offset=".469" stop-color="#3357b9"/><stop offset=".473" stop-color="#6d8688"/><stop offset=".478" stop-color="#d6d431"/><stop offset=".5" stop-color="#ecd421"/><stop offset=".59" stop-color="#eaca1c"/><stop offset=".635" stop-color="#d6c826"/><stop offset=".661" stop-color="#bbc83a"/><stop offset=".666" stop-color="#b2c642"/><stop offset=".67" stop-color="#75967c"/><stop offset=".675" stop-color="#345bbd"/><stop offset=".823" stop-color="#345cbd"/><stop offset=".827" stop-color="#878977"/><stop offset=".832" stop-color="#f2bb1d"/><stop offset=".872" stop-color="#f3a21d"/><stop offset=".948" stop-color="#eaa11c"/><stop offset=".984" stop-color="#e4b51b"/><stop offset=".993" stop-color="#e4c11b"/><stop offset=".998" stop-color="#dfc61e" stop-opacity=".63"/></linearGradient><linearGradient id="s151" gradientUnits="userSpaceOnUse" x1="309" x2="533"><stop offset=".002" stop-color="#273595" stop-opacity=".38"/><stop offset=".007" stop-color="#283596"/><stop offset=".132" stop-color="#2a3c9e"/><stop offset=".136" stop-color="#324ca0"/><stop offset=".141" stop-color="#72c19c"/><stop offset=".154" stop-color="#87c879"/><stop offset=".185" stop-color="#94ca67"/><stop offset=".27" stop-color="#8bc368"/><stop offset=".315" stop-color="#75b984"/><stop offset=".346" stop-color="#5eb0b6"/><stop offset=".35" stop-color="#4276bc"/><stop offset=".355" stop-color="#3356b8"/><stop offset=".471" stop-color="#3357b9"/><stop offset=".475" stop-color="#91a56a"/><stop offset=".48" stop-color="#d3d433"/><stop offset=".511" stop-color="#ebd422"/><stop offset=".587" stop-color="#e9cd1d"/><stop offset=".645" stop-color="#cac82f"/><stop offset=".667" stop-color="#aec545"/><stop offset=".672" stop-color="#8eb063"/><stop offset=".676" stop-color="#345bbd"/><stop offset=".824" stop-color="#345cbd"/><stop offset=".828" stop-color="#b6a54f"/><stop offset=".833" stop-color="#f2bf1d"/><stop offset=".873" stop-color="#f3a71d"/><stop offset=".949" stop-color="#e9a51c"/><stop offset=".984" stop-color="#e4ba1b"/><stop offset=".993" stop-color="#e3c51b"/><stop offset=".998" stop-color="#dcc821" stop-opacity=".87"/></linearGradient><linearGradient id="s152" gradientUnits="userSpaceOnUse" x1="308" x2="534"><stop offset=".002" stop-color="#283596" stop-opacity=".38"/><stop offset=".007" stop-color="#283597"/><stop offset=".135" stop-color="#2a3d9f"/><stop offset=".139" stop-color="#426da5"/><stop offset=".144" stop-color="#6ec0a2"/><stop offset=".162" stop-color="#85c77d"/><stop offset=".201" stop-color="#90c96a"/><stop offset=".277" stop-color="#84c171"/><stop offset=".321" stop-color="#6db792"/><stop offset=".347" stop-color="#5dafb9"/><stop offset=".352" stop-color="#4a8cbf"/><stop offset=".356" stop-color="#3356b8"/><stop offset=".471" stop-color="#3357b9"/><stop offset=".476" stop-color="#aabc55"/><stop offset=".48" stop-color="#cfd436"/><stop offset=".511" stop-color="#e7d425"/><stop offset=".582" stop-color="#e5ce20"/><stop offset=".644" stop-color="#c5c832"/><stop offset=".666" stop-color="#abc548"/><stop offset=".67" stop-color="#9fc351"/><stop offset=".675" stop-color="#3a61b7"/><stop offset=".692" stop-color="#345cbd"/><stop offset=".821" stop-color="#345cbd"/><stop offset=".825" stop-color="#e5c327"/><stop offset=".83" stop-color="#f2c31d"/><stop offset=".874" stop-color="#f2ab1d"/><stop offset=".949" stop-color="#e8ab1c"/><stop offset=".985" stop-color="#e3c31b"/><stop offset=".993" stop-color="#d9c823"/><stop offset=".998" stop-color="#d0c729" stop-opacity=".19"/></linearGradient><linearGradient id="s153" gradientUnits="userSpaceOnUse" x1="307" x2="534"><stop offset=".002" stop-color="#283696" stop-opacity=".38"/><stop offset=".007" stop-color="#283697"/><stop offset=".139" stop-color="#2b3ea0"/><stop offset=".143" stop-color="#518dab"/><stop offset=".148" stop-color="#6cbfa7"/><stop offset=".161" stop-color="#7dc58b"/><stop offset=".2" stop-color="#89c874"/><stop offset=".267" stop-color="#83c276"/><stop offset=".311" stop-color="#71b98d"/><stop offset=".35" stop-color="#5cafbd"/><stop offset=".355" stop-color="#53a7c7"/><stop offset=".359" stop-color="#3356b8"/><stop offset=".469" stop-color="#3357b9"/><stop offset=".474" stop-color="#3b5fb2"/><stop offset=".478" stop-color="#c2d340"/><stop offset=".5" stop-color="#dbd42e"/><stop offset=".557" stop-color="#e5d123"/><stop offset=".623" stop-color="#d0ca2c"/><stop offset=".659" stop-color="#b4c640"/><stop offset=".672" stop-color="#9cc254"/><stop offset=".676" stop-color="#517b9f"/><stop offset=".681" stop-color="#345bbd"/><stop offset=".817" stop-color="#345cbd"/><stop offset=".822" stop-color="#57729f"/><stop offset=".826" stop-color="#f1cd1d"/><stop offset=".861" stop-color="#f3b31d"/><stop offset=".941" stop-color="#eaae1c"/><stop offset=".98" stop-color="#e4c21b"/><stop offset=".993" stop-color="#d8c824"/><stop offset=".998" stop-color="#ccc72c" stop-opacity=".44"/></linearGradient><linearGradient id="s154" gradientUnits="userSpaceOnUse" x1="306" x2="540"><stop offset=".002" stop-color="#283697" stop-opacity=".19"/><stop offset=".006" stop-color="#283698" stop-opacity=".94"/><stop offset=".011" stop-color="#283799"/><stop offset=".139" stop-color="#2b3fa1"/><stop offset=".143" stop-color="#5facb5"/><stop offset=".147" stop-color="#6abead"/><stop offset=".169" stop-color="#7bc48d"/><stop offset=".212" stop-color="#84c57b"/><stop offset=".271" stop-color="#7abf83"/><stop offset=".323" stop-color="#63b3a5"/><stop offset=".348" stop-color="#54acc9"/><stop offset=".353" stop-color="#396cbe"/><stop offset=".357" stop-color="#3357b9"/><stop offset=".459" stop-color="#3357b9"/><stop offset=".464" stop-color="#5c7d96"/><stop offset=".468" stop-color="#bfd243"/><stop offset=".485" stop-color="#d3d534"/><stop offset=".532" stop-color="#e1d227"/><stop offset=".605" stop-color="#cecb2f"/><stop offset=".647" stop-color="#abc547"/><stop offset=".656" stop-color="#99c256"/><stop offset=".66" stop-color="#6d9a82"/><stop offset=".665" stop-color="#345bbd"/><stop offset=".797" stop-color="#345cbd"/><stop offset=".806" stop-color="#f1d11d"/><stop offset=".84" stop-color="#f2b81d"/><stop offset=".908" stop-color="#ebb21c"/><stop offset=".959" stop-color="#dfc71f"/><stop offset=".968" stop-color="#d3c828"/><stop offset=".972" stop-color="#9ca65a"/><stop offset=".976" stop-color="#345abc" stop-opacity=".87"/><stop offset=".981" stop-color="#345abc" stop-opacity=".75"/><stop offset=".985" stop-color="#335abb" stop-opacity=".5"/><stop offset=".989" stop-color="#335aba" stop-opacity=".5"/><stop offset=".994" stop-color="#335aba" stop-opacity=".25"/><stop offset=".998" stop-color="#335aba" stop-opacity=".13"/></linearGradient><linearGradient id="s155" gradientUnits="userSpaceOnUse" x1="305" x2="546"><stop offset=".002" stop-color="#283797" stop-opacity=".19"/><stop offset=".006" stop-color="#283799" stop-opacity=".94"/><stop offset=".01" stop-color="#293899"/><stop offset=".122" stop-color="#2c40a2"/><stop offset=".135" stop-color="#2c40a2"/><stop offset=".139" stop-color="#324fa6"/><stop offset=".143" stop-color="#65bbbb"/><stop offset=".164" stop-color="#74c29a"/><stop offset=".201" stop-color="#7ec486"/><stop offset=".272" stop-color="#74bd8d"/><stop offset=".33" stop-color="#5eb0b7"/><stop offset=".342" stop-color="#53acca"/><stop offset=".346" stop-color="#408cc7"/><stop offset=".351" stop-color="#3357b9"/><stop offset=".45" stop-color="#3357b9"/><stop offset=".454" stop-color="#729384"/><stop offset=".459" stop-color="#bcd246"/><stop offset=".488" stop-color="#d6d431"/><stop offset=".554" stop-color="#d8cf2b"/><stop offset=".612" stop-color="#bbc83a"/><stop offset=".637" stop-color="#9cc253"/><stop offset=".641" stop-color="#95c159"/><stop offset=".645" stop-color="#7aac74"/><stop offset=".649" stop-color="#345bbc"/><stop offset=".778" stop-color="#345cbd"/><stop offset=".782" stop-color="#b0ae53"/><stop offset=".786" stop-color="#f0d31e"/><stop offset=".832" stop-color="#f1b91d"/><stop offset=".902" stop-color="#e8ba1c"/><stop offset=".936" stop-color="#ddc820"/><stop offset=".944" stop-color="#d1c829"/><stop offset=".948" stop-color="#bec139"/><stop offset=".952" stop-color="#345abc"/><stop offset=".977" stop-color="#335abb"/><stop offset=".981" stop-color="#335abb" stop-opacity=".75"/><stop offset=".985" stop-color="#3359bb" stop-opacity=".69"/><stop offset=".994" stop-color="#3359ba" stop-opacity=".31"/><stop offset=".998" stop-color="#3359ba" stop-opacity=".19"/></linearGradient><linearGradient id="s156" gradientUnits="userSpaceOnUse" x1="304" x2="552"><stop offset=".002" stop-color="#293898" stop-opacity=".19"/><stop offset=".006" stop-color="#293899" stop-opacity=".94"/><stop offset=".01" stop-color="#29399a"/><stop offset=".107" stop-color="#2c42a4"/><stop offset=".135" stop-color="#2c41a3"/><stop offset=".139" stop-color="#4375b4"/><stop offset=".143" stop-color="#64babf"/><stop offset=".167" stop-color="#72c19e"/><stop offset=".216" stop-color="#78c18e"/><stop offset=".28" stop-color="#6ab99c"/><stop offset=".325" stop-color="#5caebd"/><stop offset=".337" stop-color="#4faccc"/><stop offset=".341" stop-color="#43a7d1"/><stop offset=".345" stop-color="#3358b9"/><stop offset=".442" stop-color="#3356b9"/><stop offset=".446" stop-color="#96b865"/><stop offset=".45" stop-color="#b7d14a"/><stop offset=".47" stop-color="#cdd539"/><stop offset=".526" stop-color="#d5d02e"/><stop offset=".583" stop-color="#c2cb37"/><stop offset=".623" stop-color="#9bc255"/><stop offset=".631" stop-color="#86be68"/><stop offset=".635" stop-color="#3861b8"/><stop offset=".655" stop-color="#345bbc"/><stop offset=".76" stop-color="#345bbd"/><stop offset=".764" stop-color="#e3d327"/><stop offset=".776" stop-color="#f2cf1d"/><stop offset=".833" stop-color="#efbb1d"/><stop offset=".893" stop-color="#e6c41c"/><stop offset=".917" stop-color="#d4c827"/><stop offset=".925" stop-color="#c4c833"/><stop offset=".929" stop-color="#56759b"/><stop offset=".933" stop-color="#335abc"/><stop offset=".978" stop-color="#3359bb"/><stop offset=".982" stop-color="#3359ba" stop-opacity=".81"/><stop offset=".986" stop-color="#3359ba" stop-opacity=".69"/><stop offset=".994" stop-color="#3358b9" stop-opacity=".31"/><stop offset=".998" stop-color="#3358b9" stop-opacity=".19"/></linearGradient><linearGradient id="s157" gradientUnits="userSpaceOnUse" x1="303" x2="559"><stop offset=".002" stop-color="#293899" stop-opacity=".19"/><stop offset=".006" stop-color="#29399a" stop-opacity=".94"/><stop offset=".01" stop-color="#293a9b"/><stop offset=".096" stop-color="#2d45a7"/><stop offset=".135" stop-color="#2c42a4"/><stop offset=".139" stop-color="#4c8bbe"/><stop offset=".143" stop-color="#63bac3"/><stop offset=".162" stop-color="#6bbfaa"/><stop offset=".209" stop-color="#73c098"/><stop offset=".279" stop-color="#66b7a6"/><stop offset=".318" stop-color="#5badc1"/><stop offset=".334" stop-color="#43acd3"/><stop offset=".338" stop-color="#346ec1"/><stop offset=".342" stop-color="#3358b9"/><stop offset=".428" stop-color="#3356b9"/><stop offset=".432" stop-color="#3a5db3"/><stop offset=".436" stop-color="#a9ce55"/><stop offset=".455" stop-color="#c5d43f"/><stop offset=".502" stop-color="#d1d232"/><stop offset=".568" stop-color="#beca3b"/><stop offset=".604" stop-color="#99c256"/><stop offset=".615" stop-color="#84bd6c"/><stop offset=".619" stop-color="#4e7fa4"/><stop offset=".623" stop-color="#345bbc"/><stop offset=".736" stop-color="#345bbd"/><stop offset=".74" stop-color="#5d7999"/><stop offset=".744" stop-color="#e1d429"/><stop offset=".76" stop-color="#f2d11d"/><stop offset=".822" stop-color="#edbf1c"/><stop offset=".877" stop-color="#e0c81f"/><stop offset=".9" stop-color="#c2c835"/><stop offset=".908" stop-color="#335abb"/><stop offset=".975" stop-color="#3358ba"/><stop offset=".979" stop-color="#3358ba" stop-opacity=".94"/><stop offset=".986" stop-color="#3358b9" stop-opacity=".56"/><stop offset=".99" stop-color="#3358b9" stop-opacity=".44"/><stop offset=".998" stop-color="#3357b8" stop-opacity=".06"/></linearGradient><linearGradient id="s158" gradientUnits="userSpaceOnUse" x1="302" x2="565"><stop offset=".002" stop-color="#293a9a" stop-opacity=".25"/><stop offset=".006" stop-color="#293a9b" stop-opacity=".94"/><stop offset=".01" stop-color="#293d9a"/><stop offset=".055" stop-color="#2c4aa1"/><stop offset=".078" stop-color="#2f49aa"/><stop offset=".135" stop-color="#2d43a5"/><stop offset=".139" stop-color="#59afce"/><stop offset=".146" stop-color="#64bbc0"/><stop offset=".181" stop-color="#6cbfa7"/><stop offset=".249" stop-color="#69baa4"/><stop offset=".302" stop-color="#5dafba"/><stop offset=".321" stop-color="#4eaccc"/><stop offset=".329" stop-color="#40acd4"/><stop offset=".333" stop-color="#3492d1"/><stop offset=".337" stop-color="#3359ba"/><stop offset=".42" stop-color="#3356b8"/><stop offset=".424" stop-color="#537a9d"/><stop offset=".428" stop-color="#a6ce58"/><stop offset=".447" stop-color="#c0d343"/><stop offset=".492" stop-color="#cdd236"/><stop offset=".553" stop-color="#baca3e"/><stop offset=".595" stop-color="#91c05d"/><stop offset=".603" stop-color="#80bd70"/><stop offset=".606" stop-color="#5c969a"/><stop offset=".61" stop-color="#345bbc"/><stop offset=".721" stop-color="#345bbc"/><stop offset=".728" stop-color="#ded42b"/><stop offset=".747" stop-color="#f1d31e"/><stop offset=".808" stop-color="#ecc41c"/><stop offset=".854" stop-color="#dec920"/><stop offset=".88" stop-color="#bfc837"/><stop offset=".884" stop-color="#9bb257"/><stop offset=".888" stop-color="#335abb"/><stop offset=".975" stop-color="#3357b9"/><stop offset=".979" stop-color="#3357b9" stop-opacity=".94"/><stop offset=".987" stop-color="#3357b8" stop-opacity=".56"/><stop offset=".99" stop-color="#3357b8" stop-opacity=".44"/><stop offset=".998" stop-color="#3357b8" stop-opacity=".06"/></linearGradient><linearGradient id="s159" gradientUnits="userSpaceOnUse" x1="297" x2="571"><stop offset=".002" stop-color="#284492" stop-opacity=".06"/><stop offset=".005" stop-color="#274590" stop-opacity=".31"/><stop offset=".009" stop-color="#27468f" stop-opacity=".5"/><stop offset=".016" stop-color="#27488f" stop-opacity=".75"/><stop offset=".02" stop-color="#274890"/><stop offset=".071" stop-color="#275395"/><stop offset=".086" stop-color="#294e99"/><stop offset=".104" stop-color="#2f4aab"/><stop offset=".144" stop-color="#2d44a7"/><stop offset=".148" stop-color="#3661b3"/><stop offset=".151" stop-color="#5bb6d3"/><stop offset=".17" stop-color="#66bcba"/><stop offset=".217" stop-color="#6abda9"/><stop offset=".29" stop-color="#60b3b4"/><stop offset=".323" stop-color="#50accb"/><stop offset=".338" stop-color="#33abdb"/><stop offset=".341" stop-color="#3363bd"/><stop offset=".349" stop-color="#3359b9"/><stop offset=".422" stop-color="#3356b8"/><stop offset=".429" stop-color="#a3cd5b"/><stop offset=".451" stop-color="#bdd245"/><stop offset=".502" stop-color="#c6d13a"/><stop offset=".553" stop-color="#b2c944"/><stop offset=".589" stop-color="#8cbf61"/><stop offset=".597" stop-color="#7dbb76"/><stop offset=".6" stop-color="#69ac91"/><stop offset=".604" stop-color="#345abc"/><stop offset=".71" stop-color="#345bbc"/><stop offset=".714" stop-color="#aab556"/><stop offset=".717" stop-color="#dad42e"/><stop offset=".743" stop-color="#f0d31e"/><stop offset=".808" stop-color="#eaca1c"/><stop offset=".849" stop-color="#d0c82a"/><stop offset=".867" stop-color="#b0c643"/><stop offset=".87" stop-color="#3a61b4"/><stop offset=".881" stop-color="#335abb"/><stop offset=".976" stop-color="#3356b9"/><stop offset=".98" stop-color="#3356b8" stop-opacity=".94"/><stop offset=".987" stop-color="#3356b7" stop-opacity=".56"/><stop offset=".991" stop-color="#3356b7" stop-opacity=".44"/><stop offset=".998" stop-color="#3356b7" stop-opacity=".06"/></linearGradient><linearGradient id="s160" gradientUnits="userSpaceOnUse" x1="296" x2="577"><stop offset=".002" stop-color="#284592" stop-opacity=".19"/><stop offset=".005" stop-color="#284691" stop-opacity=".87"/><stop offset=".009" stop-color="#27478f"/><stop offset=".069" stop-color="#275595"/><stop offset=".101" stop-color="#294c97"/><stop offset=".112" stop-color="#2f4baa"/><stop offset=".144" stop-color="#2e46a8"/><stop offset=".148" stop-color="#3c77be"/><stop offset=".151" stop-color="#58b6d5"/><stop offset=".176" stop-color="#66bcba"/><stop offset=".24" stop-color="#66baaf"/><stop offset=".301" stop-color="#5baec1"/><stop offset=".326" stop-color="#42acd3"/><stop offset=".333" stop-color="#32abdc"/><stop offset=".34" stop-color="#335bb9"/><stop offset=".415" stop-color="#3356b8"/><stop offset=".418" stop-color="#82b475"/><stop offset=".422" stop-color="#9ecc5f"/><stop offset=".44" stop-color="#b6d14c"/><stop offset=".486" stop-color="#c2d13e"/><stop offset=".546" stop-color="#abc74a"/><stop offset=".578" stop-color="#88be67"/><stop offset=".585" stop-color="#79ba7c"/><stop offset=".589" stop-color="#6db791"/><stop offset=".593" stop-color="#3d6bb7"/><stop offset=".596" stop-color="#345abc"/><stop offset=".696" stop-color="#345abc"/><stop offset=".699" stop-color="#cdd438"/><stop offset=".714" stop-color="#e4d428"/><stop offset=".753" stop-color="#efd01d"/><stop offset=".81" stop-color="#decb22"/><stop offset=".842" stop-color="#bec838"/><stop offset=".849" stop-color="#aec545"/><stop offset=".852" stop-color="#567b99"/><stop offset=".856" stop-color="#335abb"/><stop offset=".977" stop-color="#3356b8"/><stop offset=".98" stop-color="#3355b8" stop-opacity=".94"/><stop offset=".988" stop-color="#3255b7" stop-opacity=".56"/><stop offset=".991" stop-color="#3255b6" stop-opacity=".44"/><stop offset=".998" stop-color="#3255b6" stop-opacity=".06"/></linearGradient><linearGradient id="s161" gradientUnits="userSpaceOnUse" x1="295" x2="583"><stop offset=".002" stop-color="#294693" stop-opacity=".06"/><stop offset=".005" stop-color="#284693" stop-opacity=".87"/><stop offset=".009" stop-color="#284791"/><stop offset=".068" stop-color="#275796"/><stop offset=".109" stop-color="#294b95"/><stop offset=".12" stop-color="#2f4baa"/><stop offset=".144" stop-color="#2e47a9"/><stop offset=".148" stop-color="#45a1d3"/><stop offset=".151" stop-color="#55b6d7"/><stop offset=".168" stop-color="#63bac4"/><stop offset=".22" stop-color="#66bab5"/><stop offset=".283" stop-color="#5db1bf"/><stop offset=".314" stop-color="#48acd0"/><stop offset=".328" stop-color="#31aadd"/><stop offset=".332" stop-color="#3199d7"/><stop offset=".335" stop-color="#3368bf"/><stop offset=".339" stop-color="#335cb9"/><stop offset=".405" stop-color="#3356b8"/><stop offset=".408" stop-color="#385db5"/><stop offset=".411" stop-color="#91ca6a"/><stop offset=".429" stop-color="#aed053"/><stop offset=".47" stop-color="#bdd043"/><stop offset=".526" stop-color="#aec949"/><stop offset=".561" stop-color="#8dbf60"/><stop offset=".571" stop-color="#7fbc73"/><stop offset=".578" stop-color="#6bb695"/><stop offset=".582" stop-color="#4981b1"/><stop offset=".585" stop-color="#345abc"/><stop offset=".679" stop-color="#345abc"/><stop offset=".682" stop-color="#57789d"/><stop offset=".686" stop-color="#cbd439"/><stop offset=".703" stop-color="#e2d429"/><stop offset=".752" stop-color="#ead01f"/><stop offset=".8" stop-color="#d5ca28"/><stop offset=".828" stop-color="#b5c73f"/><stop offset=".832" stop-color="#aac548"/><stop offset=".835" stop-color="#779b79"/><stop offset=".839" stop-color="#3359bb"/><stop offset=".977" stop-color="#3255b7"/><stop offset=".981" stop-color="#3255b7" stop-opacity=".94"/><stop offset=".988" stop-color="#3254b6" stop-opacity=".56"/><stop offset=".991" stop-color="#3254b6" stop-opacity=".44"/><stop offset=".998" stop-color="#3254b6" stop-opacity=".06"/></linearGradient><linearGradient id="s162" gradientUnits="userSpaceOnUse" x1="295" x2="589"><stop offset=".002" stop-color="#294695" stop-opacity=".56"/><stop offset=".005" stop-color="#284793"/><stop offset=".063" stop-color="#275896"/><stop offset=".111" stop-color="#294b96"/><stop offset=".121" stop-color="#2f4baa"/><stop offset=".138" stop-color="#2f48ab"/><stop offset=".141" stop-color="#2f4fae"/><stop offset=".145" stop-color="#48b6de"/><stop offset=".158" stop-color="#5eb8d1"/><stop offset=".196" stop-color="#65bbbd"/><stop offset=".267" stop-color="#5eb2c1"/><stop offset=".301" stop-color="#4cacce"/><stop offset=".321" stop-color="#30a9dd"/><stop offset=".325" stop-color="#319ad7"/><stop offset=".332" stop-color="#3361ba"/><stop offset=".379" stop-color="#3356b8"/><stop offset=".396" stop-color="#3356b8"/><stop offset=".4" stop-color="#4772aa"/><stop offset=".403" stop-color="#8dc96f"/><stop offset=".417" stop-color="#a5ce5a"/><stop offset=".454" stop-color="#b7d049"/><stop offset=".512" stop-color="#a9c84d"/><stop offset=".549" stop-color="#89bf64"/><stop offset=".563" stop-color="#70b88c"/><stop offset=".566" stop-color="#69b699"/><stop offset=".57" stop-color="#569cae"/><stop offset=".573" stop-color="#335abb"/><stop offset=".665" stop-color="#345abc"/><stop offset=".672" stop-color="#c8d43c"/><stop offset=".692" stop-color="#dfd42b"/><stop offset=".74" stop-color="#e4d023"/><stop offset=".787" stop-color="#cdca2e"/><stop offset=".811" stop-color="#adc545"/><stop offset=".815" stop-color="#a8c44a"/><stop offset=".818" stop-color="#8eb561"/><stop offset=".821" stop-color="#3359bb"/><stop offset=".978" stop-color="#3254b6"/><stop offset=".981" stop-color="#3254b6" stop-opacity=".94"/><stop offset=".988" stop-color="#3253b5" stop-opacity=".56"/><stop offset=".991" stop-color="#3253b5" stop-opacity=".44"/><stop offset=".998" stop-color="#3253b5" stop-opacity=".06"/></linearGradient><linearGradient id="s163" gradientUnits="userSpaceOnUse" x1="294" x2="595"><stop offset=".002" stop-color="#2a4797" stop-opacity=".13"/><stop offset=".005" stop-color="#294797"/><stop offset=".038" stop-color="#275595"/><stop offset=".095" stop-color="#275193"/><stop offset=".115" stop-color="#2a4b99"/><stop offset=".128" stop-color="#2f4bac"/><stop offset=".138" stop-color="#2f4aac"/><stop offset=".141" stop-color="#3372c2"/><stop offset=".145" stop-color="#46b6df"/><stop offset=".158" stop-color="#5cb7d4"/><stop offset=".208" stop-color="#62b9c1"/><stop offset=".281" stop-color="#54aecc"/><stop offset=".314" stop-color="#32acdc"/><stop offset=".321" stop-color="#3198d6"/><stop offset=".327" stop-color="#336bc0"/><stop offset=".331" stop-color="#335eba"/><stop offset=".39" stop-color="#3356b8"/><stop offset=".394" stop-color="#5e949a"/><stop offset=".397" stop-color="#8ac873"/><stop offset=".41" stop-color="#a0cd5e"/><stop offset=".45" stop-color="#b1cf4d"/><stop offset=".51" stop-color="#a0c654"/><stop offset=".54" stop-color="#83bd6c"/><stop offset=".553" stop-color="#6eb78f"/><stop offset=".56" stop-color="#61b2ad"/><stop offset=".563" stop-color="#335abb"/><stop offset=".653" stop-color="#3359bb"/><stop offset=".656" stop-color="#98b364"/><stop offset=".659" stop-color="#c3d340"/><stop offset=".679" stop-color="#dad42f"/><stop offset=".729" stop-color="#decf27"/><stop offset=".776" stop-color="#c5c933"/><stop offset=".799" stop-color="#a4c44d"/><stop offset=".802" stop-color="#99c256"/><stop offset=".806" stop-color="#446caa"/><stop offset=".809" stop-color="#3359bb"/><stop offset=".978" stop-color="#3253b6"/><stop offset=".982" stop-color="#3253b6" stop-opacity=".94"/><stop offset=".988" stop-color="#3252b5" stop-opacity=".56"/><stop offset=".992" stop-color="#3252b4" stop-opacity=".44"/><stop offset=".998" stop-color="#3252b4" stop-opacity=".06"/></linearGradient><linearGradient id="s164" gradientUnits="userSpaceOnUse" x1="294" x2="601"><stop offset=".002" stop-color="#2a4799" stop-opacity=".63"/><stop offset=".005" stop-color="#294897"/><stop offset=".041" stop-color="#275796"/><stop offset=".109" stop-color="#284c94"/><stop offset=".129" stop-color="#304cad"/><stop offset=".135" stop-color="#304bae"/><stop offset=".138" stop-color="#36a1dc"/><stop offset=".142" stop-color="#43b6e1"/><stop offset=".164" stop-color="#5eb8d3"/><stop offset=".23" stop-color="#5fb5c7"/><stop offset=".279" stop-color="#4eaecf"/><stop offset=".308" stop-color="#2faadd"/><stop offset=".318" stop-color="#3386ce"/><stop offset=".324" stop-color="#3361bb"/><stop offset=".363" stop-color="#3356b8"/><stop offset=".383" stop-color="#3356b8"/><stop offset=".386" stop-color="#6eaf93"/><stop offset=".389" stop-color="#87c779"/><stop offset=".399" stop-color="#98cc64"/><stop offset=".441" stop-color="#accd51"/><stop offset=".493" stop-color="#9fc656"/><stop offset=".526" stop-color="#83bd6b"/><stop offset=".539" stop-color="#6eb790"/><stop offset=".549" stop-color="#60b1b0"/><stop offset=".552" stop-color="#4074bb"/><stop offset=".555" stop-color="#3359bb"/><stop offset=".64" stop-color="#3359bb"/><stop offset=".643" stop-color="#b6d04a"/><stop offset=".656" stop-color="#cfd538"/><stop offset=".702" stop-color="#dcd12a"/><stop offset=".754" stop-color="#c8cb33"/><stop offset=".78" stop-color="#a6c44b"/><stop offset=".787" stop-color="#97c158"/><stop offset=".79" stop-color="#5a8694"/><stop offset=".793" stop-color="#3359bb"/><stop offset=".979" stop-color="#3252b5"/><stop offset=".982" stop-color="#3252b5" stop-opacity=".94"/><stop offset=".989" stop-color="#3252b4" stop-opacity=".56"/><stop offset=".992" stop-color="#3252b4" stop-opacity=".5"/><stop offset=".995" stop-color="#3251b4" stop-opacity=".31"/><stop offset=".998" stop-color="#3251b4" stop-opacity=".19"/></linearGradient><linearGradient id="s165" gradientUnits="userSpaceOnUse" x1="293" x2="607"><stop offset=".002" stop-color="#2b479d" stop-opacity=".13"/><stop offset=".005" stop-color="#2b489c"/><stop offset=".03" stop-color="#275495"/><stop offset=".081" stop-color="#275494"/><stop offset=".113" stop-color="#294c97"/><stop offset=".129" stop-color="#304dae"/><stop offset=".132" stop-color="#304daf"/><stop offset=".135" stop-color="#3158b6"/><stop offset=".139" stop-color="#36b5e8"/><stop offset=".151" stop-color="#50b7db"/><stop offset=".186" stop-color="#5fb7d0"/><stop offset=".26" stop-color="#53b0cf"/><stop offset=".304" stop-color="#2fa6dc"/><stop offset=".317" stop-color="#3375c4"/><stop offset=".323" stop-color="#335eba"/><stop offset=".374" stop-color="#3356b8"/><stop offset=".377" stop-color="#375db7"/><stop offset=".381" stop-color="#78c392"/><stop offset=".39" stop-color="#8eca6e"/><stop offset=".422" stop-color="#a4cd59"/><stop offset=".476" stop-color="#9ec758"/><stop offset=".511" stop-color="#84be6b"/><stop offset=".53" stop-color="#6cb793"/><stop offset=".54" stop-color="#5fb1b3"/><stop offset=".543" stop-color="#4c8ebe"/><stop offset=".546" stop-color="#3359bb"/><stop offset=".626" stop-color="#3359bb"/><stop offset=".629" stop-color="#5176a1"/><stop offset=".632" stop-color="#b3d04d"/><stop offset=".648" stop-color="#ccd539"/><stop offset=".689" stop-color="#d7d12e"/><stop offset=".74" stop-color="#c2cb37"/><stop offset=".766" stop-color="#a2c34f"/><stop offset=".772" stop-color="#93c15b"/><stop offset=".775" stop-color="#6e9f80"/><stop offset=".779" stop-color="#3359ba"/><stop offset=".982" stop-color="#3251b4"/><stop offset=".986" stop-color="#3251b4" stop-opacity=".81"/><stop offset=".989" stop-color="#3251b4" stop-opacity=".69"/><stop offset=".995" stop-color="#3251b3" stop-opacity=".31"/><stop offset=".998" stop-color="#3250b3" stop-opacity=".19"/></linearGradient><linearGradient id="s166" gradientUnits="userSpaceOnUse" x1="293" x2="613"><stop offset=".002" stop-color="#2c479f" stop-opacity=".56"/><stop offset=".005" stop-color="#2b499d"/><stop offset=".03" stop-color="#275495"/><stop offset=".086" stop-color="#275293"/><stop offset=".111" stop-color="#294c97"/><stop offset=".13" stop-color="#314fb1"/><stop offset=".133" stop-color="#327acb"/><stop offset=".136" stop-color="#34b5e9"/><stop offset=".155" stop-color="#51b7db"/><stop offset=".205" stop-color="#5bb5d1"/><stop offset=".27" stop-color="#45aed4"/><stop offset=".295" stop-color="#2ea8dd"/><stop offset=".317" stop-color="#3360ba"/><stop offset=".367" stop-color="#3356b8"/><stop offset=".37" stop-color="#487db1"/><stop offset=".373" stop-color="#75c296"/><stop offset=".383" stop-color="#8ac975"/><stop offset=".408" stop-color="#9dcc60"/><stop offset=".461" stop-color="#9cc75b"/><stop offset=".498" stop-color="#84be6d"/><stop offset=".517" stop-color="#6db792"/><stop offset=".53" stop-color="#5eb0b6"/><stop offset=".533" stop-color="#54a3c2"/><stop offset=".536" stop-color="#3359bb"/><stop offset=".614" stop-color="#3358bb"/><stop offset=".62" stop-color="#afcf51"/><stop offset=".639" stop-color="#c9d53c"/><stop offset=".683" stop-color="#d1d132"/><stop offset=".73" stop-color="#bbc93c"/><stop offset=".758" stop-color="#90c05d"/><stop offset=".761" stop-color="#84bd6b"/><stop offset=".764" stop-color="#3358ba"/><stop offset=".983" stop-color="#3250b4"/><stop offset=".986" stop-color="#3250b4" stop-opacity=".81"/><stop offset=".989" stop-color="#3150b4" stop-opacity=".69"/><stop offset=".992" stop-color="#3150b2" stop-opacity=".5"/><stop offset=".998" stop-color="#3150b2" stop-opacity=".25"/></linearGradient><linearGradient id="s167" gradientUnits="userSpaceOnUse" x1="292" x2="619"><stop offset=".002" stop-color="#2c46a1" stop-opacity=".13"/><stop offset=".005" stop-color="#2c48a1"/><stop offset=".026" stop-color="#285295"/><stop offset=".078" stop-color="#275494"/><stop offset=".112" stop-color="#294d98"/><stop offset=".13" stop-color="#3254b5"/><stop offset=".133" stop-color="#339cdf"/><stop offset=".136" stop-color="#33b5ea"/><stop offset=".157" stop-color="#4eb7dd"/><stop offset=".213" stop-color="#55b4d4"/><stop offset=".271" stop-color="#3eaed8"/><stop offset=".289" stop-color="#2ea8dd"/><stop offset=".313" stop-color="#3360ba"/><stop offset=".362" stop-color="#3355b8"/><stop offset=".365" stop-color="#5697b0"/><stop offset=".369" stop-color="#72c19c"/><stop offset=".381" stop-color="#87c879"/><stop offset=".396" stop-color="#94cb67"/><stop offset=".445" stop-color="#99c75e"/><stop offset=".485" stop-color="#84bf6f"/><stop offset=".506" stop-color="#6cb793"/><stop offset=".524" stop-color="#58adc5"/><stop offset=".528" stop-color="#3b73c0"/><stop offset=".531" stop-color="#3359ba"/><stop offset=".604" stop-color="#3358ba"/><stop offset=".607" stop-color="#86af73"/><stop offset=".61" stop-color="#abcf54"/><stop offset=".625" stop-color="#c2d342"/><stop offset=".665" stop-color="#cdd135"/><stop offset=".714" stop-color="#b9c93f"/><stop offset=".742" stop-color="#92c05c"/><stop offset=".748" stop-color="#81bd6f"/><stop offset=".751" stop-color="#4877a8"/><stop offset=".754" stop-color="#3358ba"/><stop offset=".983" stop-color="#3150b3"/><stop offset=".989" stop-color="#314fb3" stop-opacity=".75"/><stop offset=".992" stop-color="#314fb2" stop-opacity=".5"/><stop offset=".998" stop-color="#314fb1" stop-opacity=".25"/></linearGradient><linearGradient id="s168" gradientUnits="userSpaceOnUse" x1="292" x2="626"><stop offset=".001" stop-color="#2c46a2" stop-opacity=".56"/><stop offset=".004" stop-color="#2d49a2"/><stop offset=".025" stop-color="#285295"/><stop offset=".085" stop-color="#275192"/><stop offset=".109" stop-color="#2a4d98"/><stop offset=".124" stop-color="#3153b3"/><stop offset=".127" stop-color="#346fc6"/><stop offset=".13" stop-color="#33a1e3"/><stop offset=".133" stop-color="#31b3eb"/><stop offset=".16" stop-color="#4db7dd"/><stop offset=".223" stop-color="#4db2d6"/><stop offset=".274" stop-color="#32adde"/><stop offset=".289" stop-color="#3193d4"/><stop offset=".307" stop-color="#3360bb"/><stop offset=".355" stop-color="#3355b8"/><stop offset=".358" stop-color="#65b7b1"/><stop offset=".364" stop-color="#76c396"/><stop offset=".385" stop-color="#8dc96f"/><stop offset=".43" stop-color="#95c763"/><stop offset=".469" stop-color="#84c06f"/><stop offset=".499" stop-color="#65b4a0"/><stop offset=".51" stop-color="#5caebe"/><stop offset=".513" stop-color="#56acc7"/><stop offset=".519" stop-color="#3359ba"/><stop offset=".588" stop-color="#3358ba"/><stop offset=".591" stop-color="#395fb5"/><stop offset=".594" stop-color="#9ecc5f"/><stop offset=".609" stop-color="#b9d249"/><stop offset=".642" stop-color="#c8d23a"/><stop offset=".693" stop-color="#b8ca40"/><stop offset=".726" stop-color="#8fc05e"/><stop offset=".732" stop-color="#80bc71"/><stop offset=".735" stop-color="#5b949a"/><stop offset=".738" stop-color="#3358ba"/><stop offset=".984" stop-color="#314eb2"/><stop offset=".987" stop-color="#314eb2" stop-opacity=".75"/><stop offset=".993" stop-color="#314eb0" stop-opacity=".5"/><stop offset=".996" stop-color="#314db0" stop-opacity=".25"/><stop offset=".999" stop-color="#314db0" stop-opacity=".13"/></linearGradient><linearGradient id="s169" gradientUnits="userSpaceOnUse" x1="291" x2="629"><stop offset=".001" stop-color="#2c44a2" stop-opacity=".13"/><stop offset=".004" stop-color="#2d47a4"/><stop offset=".031" stop-color="#275395"/><stop offset=".108" stop-color="#294e96"/><stop offset=".123" stop-color="#3155b2"/><stop offset=".126" stop-color="#335dbb"/><stop offset=".129" stop-color="#3585d4"/><stop offset=".132" stop-color="#349fe2"/><stop offset=".138" stop-color="#33b5eb"/><stop offset=".167" stop-color="#4ab7df"/><stop offset=".232" stop-color="#46b2d9"/><stop offset=".277" stop-color="#2fa7de"/><stop offset=".306" stop-color="#3360bb"/><stop offset=".351" stop-color="#3356b8"/><stop offset=".354" stop-color="#3c68b9"/><stop offset=".357" stop-color="#68bdb3"/><stop offset=".365" stop-color="#77c395"/><stop offset=".392" stop-color="#8cc970"/><stop offset=".439" stop-color="#8cc569"/><stop offset=".469" stop-color="#7cbd7d"/><stop offset=".501" stop-color="#5fb0b4"/><stop offset=".51" stop-color="#54acc9"/><stop offset=".513" stop-color="#45a2cd"/><stop offset=".516" stop-color="#3359ba"/><stop offset=".584" stop-color="#3357ba"/><stop offset=".587" stop-color="#507ba1"/><stop offset=".59" stop-color="#9acb62"/><stop offset=".602" stop-color="#b1d050"/><stop offset=".638" stop-color="#c3d23f"/><stop offset=".688" stop-color="#b3c944"/><stop offset=".717" stop-color="#90c05e"/><stop offset=".723" stop-color="#85be68"/><stop offset=".726" stop-color="#7bbb79"/><stop offset=".729" stop-color="#69ac91"/><stop offset=".732" stop-color="#3358ba"/><stop offset=".993" stop-color="#314db1"/><stop offset=".996" stop-color="#304db0" stop-opacity=".75"/><stop offset=".999" stop-color="#304daf" stop-opacity=".06"/></linearGradient><linearGradient id="s170" gradientUnits="userSpaceOnUse" x1="291" x2="628"><stop offset=".001" stop-color="#2d45a4" stop-opacity=".75"/><stop offset=".004" stop-color="#2e48a6"/><stop offset=".028" stop-color="#285295"/><stop offset=".108" stop-color="#294e96"/><stop offset=".123" stop-color="#325cb8"/><stop offset=".132" stop-color="#349be0"/><stop offset=".141" stop-color="#33b6ec"/><stop offset=".174" stop-color="#46b7e1"/><stop offset=".242" stop-color="#3eb1dd"/><stop offset=".272" stop-color="#2fa9df"/><stop offset=".307" stop-color="#3360bb"/><stop offset=".352" stop-color="#3356b8"/><stop offset=".355" stop-color="#4e8ebe"/><stop offset=".358" stop-color="#67bcb6"/><stop offset=".378" stop-color="#7ec589"/><stop offset=".411" stop-color="#8bc76f"/><stop offset=".453" stop-color="#82c176"/><stop offset=".491" stop-color="#64b4a3"/><stop offset=".512" stop-color="#52accb"/><stop offset=".515" stop-color="#47acd1"/><stop offset=".518" stop-color="#3573c3"/><stop offset=".521" stop-color="#3359ba"/><stop offset=".586" stop-color="#3357b9"/><stop offset=".589" stop-color="#66978f"/><stop offset=".592" stop-color="#97cb65"/><stop offset=".613" stop-color="#b4d14d"/><stop offset=".657" stop-color="#bccf42"/><stop offset=".705" stop-color="#a1c452"/><stop offset=".723" stop-color="#86be68"/><stop offset=".731" stop-color="#6db791"/><stop offset=".734" stop-color="#3c69b5"/><stop offset=".737" stop-color="#3357b9"/><stop offset=".996" stop-color="#304db0"/><stop offset=".999" stop-color="#304daf" stop-opacity=".25"/></linearGradient><linearGradient id="s171" gradientUnits="userSpaceOnUse" x1="290" x2="627"><stop offset=".001" stop-color="#2c42a3" stop-opacity=".44"/><stop offset=".004" stop-color="#2d45a5"/><stop offset=".037" stop-color="#275294"/><stop offset=".108" stop-color="#284e95"/><stop offset=".12" stop-color="#2e55aa"/><stop offset=".126" stop-color="#3463be"/><stop offset=".135" stop-color="#3597df"/><stop offset=".147" stop-color="#32b7ed"/><stop offset=".188" stop-color="#43b6e2"/><stop offset=".254" stop-color="#35b0e0"/><stop offset=".274" stop-color="#30a2dd"/><stop offset=".31" stop-color="#335fbb"/><stop offset=".355" stop-color="#3356b8"/><stop offset=".358" stop-color="#59a6c4"/><stop offset=".361" stop-color="#66bcba"/><stop offset=".39" stop-color="#7ec588"/><stop offset=".426" stop-color="#85c577"/><stop offset=".464" stop-color="#78bd86"/><stop offset=".506" stop-color="#5caebd"/><stop offset=".515" stop-color="#4eaccd"/><stop offset=".518" stop-color="#44acd2"/><stop offset=".521" stop-color="#3792cf"/><stop offset=".524" stop-color="#3359b9"/><stop offset=".589" stop-color="#3357b9"/><stop offset=".592" stop-color="#7ab37f"/><stop offset=".595" stop-color="#94cb68"/><stop offset=".61" stop-color="#aacf56"/><stop offset=".651" stop-color="#b8cf47"/><stop offset=".696" stop-color="#a6c74f"/><stop offset=".723" stop-color="#88be66"/><stop offset=".731" stop-color="#75b983"/><stop offset=".734" stop-color="#6bb695"/><stop offset=".737" stop-color="#4b85af"/><stop offset=".74" stop-color="#3357b9"/><stop offset=".996" stop-color="#314db0"/><stop offset=".999" stop-color="#304daf" stop-opacity=".44"/></linearGradient><linearGradient id="s172" gradientUnits="userSpaceOnUse" x1="289" x2="626"><stop offset=".001" stop-color="#2c41a3" stop-opacity=".19"/><stop offset=".004" stop-color="#2d43a4" stop-opacity=".94"/><stop offset=".007" stop-color="#2e47a7"/><stop offset=".037" stop-color="#285194"/><stop offset=".111" stop-color="#284f95"/><stop offset=".123" stop-color="#2f58ac"/><stop offset=".129" stop-color="#3468c1"/><stop offset=".141" stop-color="#359ce2"/><stop offset=".156" stop-color="#33b7ec"/><stop offset=".209" stop-color="#3eb5e2"/><stop offset=".266" stop-color="#30aae1"/><stop offset=".301" stop-color="#3370c4"/><stop offset=".316" stop-color="#335dba"/><stop offset=".355" stop-color="#3356b8"/><stop offset=".358" stop-color="#3862bc"/><stop offset=".361" stop-color="#61b8c8"/><stop offset=".375" stop-color="#6dc0a8"/><stop offset=".408" stop-color="#7ec486"/><stop offset=".447" stop-color="#7cc083"/><stop offset=".494" stop-color="#63b3a9"/><stop offset=".515" stop-color="#52acca"/><stop offset=".524" stop-color="#36abda"/><stop offset=".527" stop-color="#3362bd"/><stop offset=".533" stop-color="#3359b9"/><stop offset=".589" stop-color="#3356b9"/><stop offset=".592" stop-color="#3c64b4"/><stop offset=".595" stop-color="#85c77b"/><stop offset=".598" stop-color="#90ca6c"/><stop offset=".622" stop-color="#abcf54"/><stop offset=".666" stop-color="#b0cc4b"/><stop offset=".711" stop-color="#96c25b"/><stop offset=".726" stop-color="#83bd6d"/><stop offset=".737" stop-color="#68b599"/><stop offset=".74" stop-color="#59a1ac"/><stop offset=".743" stop-color="#3357b9"/><stop offset=".996" stop-color="#304db0"/><stop offset=".999" stop-color="#304daf" stop-opacity=".63"/></linearGradient><linearGradient id="s173" gradientUnits="userSpaceOnUse" x1="288" x2="625"><stop offset=".001" stop-color="#2c40a2" stop-opacity=".06"/><stop offset=".004" stop-color="#2c42a4" stop-opacity=".81"/><stop offset=".007" stop-color="#2d44a6"/><stop offset=".016" stop-color="#2e4da7"/><stop offset=".037" stop-color="#284f93"/><stop offset=".114" stop-color="#284f95"/><stop offset=".126" stop-color="#2f5aae"/><stop offset=".138" stop-color="#3584d4"/><stop offset=".153" stop-color="#33abe9"/><stop offset=".171" stop-color="#35b7ec"/><stop offset=".236" stop-color="#35b2e4"/><stop offset=".266" stop-color="#30a6e0"/><stop offset=".301" stop-color="#3371c4"/><stop offset=".319" stop-color="#335cba"/><stop offset=".358" stop-color="#3356b8"/><stop offset=".361" stop-color="#4380c5"/><stop offset=".364" stop-color="#60b8cb"/><stop offset=".375" stop-color="#69bfb1"/><stop offset=".417" stop-color="#79c38d"/><stop offset=".458" stop-color="#74bd8f"/><stop offset=".509" stop-color="#5baebf"/><stop offset=".521" stop-color="#48acd0"/><stop offset=".527" stop-color="#34acdb"/><stop offset=".533" stop-color="#335ab9"/><stop offset=".592" stop-color="#3356b9"/><stop offset=".595" stop-color="#4978ac"/><stop offset=".598" stop-color="#83c67f"/><stop offset=".604" stop-color="#92cb6a"/><stop offset=".636" stop-color="#aace54"/><stop offset=".687" stop-color="#a5c852"/><stop offset=".723" stop-color="#87be67"/><stop offset=".734" stop-color="#74b986"/><stop offset=".743" stop-color="#62b2ab"/><stop offset=".746" stop-color="#3862b9"/><stop offset=".749" stop-color="#3357b9"/><stop offset=".996" stop-color="#314db0"/><stop offset=".999" stop-color="#304db0" stop-opacity=".75"/></linearGradient><linearGradient id="s174" gradientUnits="userSpaceOnUse" x1="288" x2="625"><stop offset=".001" stop-color="#2c40a2" stop-opacity=".63"/><stop offset=".004" stop-color="#2d43a5"/><stop offset=".016" stop-color="#2e4da7"/><stop offset=".037" stop-color="#284e93"/><stop offset=".114" stop-color="#284f95"/><stop offset=".126" stop-color="#305aae"/><stop offset=".141" stop-color="#3689d8"/><stop offset=".159" stop-color="#33abe9"/><stop offset=".182" stop-color="#33b7ec"/><stop offset=".251" stop-color="#30aae3"/><stop offset=".292" stop-color="#347bca"/><stop offset=".313" stop-color="#335fbb"/><stop offset=".358" stop-color="#3356b8"/><stop offset=".361" stop-color="#4c98cd"/><stop offset=".364" stop-color="#60b8ce"/><stop offset=".387" stop-color="#6bbfac"/><stop offset=".429" stop-color="#75c093"/><stop offset=".476" stop-color="#66b7a5"/><stop offset=".512" stop-color="#57acc8"/><stop offset=".527" stop-color="#33abdc"/><stop offset=".53" stop-color="#309ad7"/><stop offset=".533" stop-color="#3365bd"/><stop offset=".539" stop-color="#3359b8"/><stop offset=".592" stop-color="#3356b8"/><stop offset=".595" stop-color="#5c9aa3"/><stop offset=".598" stop-color="#80c585"/><stop offset=".607" stop-color="#90ca6c"/><stop offset=".636" stop-color="#a5cd58"/><stop offset=".687" stop-color="#9fc757"/><stop offset=".72" stop-color="#86be69"/><stop offset=".737" stop-color="#6ab696"/><stop offset=".743" stop-color="#61b2ad"/><stop offset=".746" stop-color="#4378b9"/><stop offset=".749" stop-color="#3357b9"/><stop offset=".993" stop-color="#314db0"/><stop offset=".996" stop-color="#304db0" stop-opacity=".87"/><stop offset=".999" stop-color="#304daf" stop-opacity=".06"/></linearGradient><linearGradient id="s175" gradientUnits="userSpaceOnUse" x1="287" x2="624"><stop offset=".001" stop-color="#2b3fa2" stop-opacity=".44"/><stop offset=".004" stop-color="#2c41a4"/><stop offset=".019" stop-color="#2e4ea8"/><stop offset=".04" stop-color="#284d92"/><stop offset=".114" stop-color="#284e93"/><stop offset=".126" stop-color="#2d55a4"/><stop offset=".141" stop-color="#367ccf"/><stop offset=".159" stop-color="#35a0e5"/><stop offset=".194" stop-color="#31b3ec"/><stop offset=".248" stop-color="#31a6e2"/><stop offset=".289" stop-color="#347dcc"/><stop offset=".313" stop-color="#335fbc"/><stop offset=".358" stop-color="#3356b8"/><stop offset=".361" stop-color="#345dbb"/><stop offset=".364" stop-color="#54b7d8"/><stop offset=".369" stop-color="#61b9cb"/><stop offset=".399" stop-color="#6bbfab"/><stop offset=".441" stop-color="#6ebd9d"/><stop offset=".491" stop-color="#61b3b2"/><stop offset=".518" stop-color="#4eaccd"/><stop offset=".53" stop-color="#31aadc"/><stop offset=".533" stop-color="#309cd8"/><stop offset=".539" stop-color="#335fb9"/><stop offset=".583" stop-color="#3355b8"/><stop offset=".595" stop-color="#3356b8"/><stop offset=".598" stop-color="#6dbaa0"/><stop offset=".604" stop-color="#83c781"/><stop offset=".616" stop-color="#93cb69"/><stop offset=".66" stop-color="#a2cb59"/><stop offset=".711" stop-color="#8dc263"/><stop offset=".731" stop-color="#74b984"/><stop offset=".746" stop-color="#60b1b0"/><stop offset=".749" stop-color="#4f93bc"/><stop offset=".752" stop-color="#3357b9"/><stop offset=".993" stop-color="#304db0"/><stop offset=".996" stop-color="#304db0" stop-opacity=".94"/><stop offset=".999" stop-color="#304daf" stop-opacity=".19"/></linearGradient><linearGradient id="s176" gradientUnits="userSpaceOnUse" x1="286" x2="623"><stop offset=".001" stop-color="#2b3ea1" stop-opacity=".19"/><stop offset=".004" stop-color="#2c40a3"/><stop offset=".019" stop-color="#2f4dab"/><stop offset=".043" stop-color="#284c92"/><stop offset=".117" stop-color="#284e93"/><stop offset=".129" stop-color="#2d55a3"/><stop offset=".144" stop-color="#3677cd"/><stop offset=".165" stop-color="#359de3"/><stop offset=".206" stop-color="#32ade8"/><stop offset=".26" stop-color="#3399db"/><stop offset=".304" stop-color="#3467c0"/><stop offset=".349" stop-color="#3357b9"/><stop offset=".361" stop-color="#3357b9"/><stop offset=".364" stop-color="#3b7bc7"/><stop offset=".366" stop-color="#53b7d9"/><stop offset=".378" stop-color="#63bac7"/><stop offset=".42" stop-color="#6abea9"/><stop offset=".473" stop-color="#65b7ac"/><stop offset=".515" stop-color="#52acca"/><stop offset=".533" stop-color="#30a9dd"/><stop offset=".539" stop-color="#3381cb"/><stop offset=".542" stop-color="#3366bd"/><stop offset=".547" stop-color="#325ab8"/><stop offset=".595" stop-color="#3355b8"/><stop offset=".598" stop-color="#3d68b6"/><stop offset=".601" stop-color="#6fc0a2"/><stop offset=".61" stop-color="#83c781"/><stop offset=".628" stop-color="#94cb68"/><stop offset=".678" stop-color="#9ac85e"/><stop offset=".717" stop-color="#84bf6e"/><stop offset=".737" stop-color="#6cb694"/><stop offset=".752" stop-color="#5baec0"/><stop offset=".755" stop-color="#355cb9"/><stop offset=".77" stop-color="#3356b8"/><stop offset=".996" stop-color="#304db0"/><stop offset=".999" stop-color="#304daf" stop-opacity=".38"/></linearGradient><linearGradient id="s177" gradientUnits="userSpaceOnUse" x1="285" x2="622"><stop offset=".001" stop-color="#2b3ea0" stop-opacity=".06"/><stop offset=".004" stop-color="#2b3fa2" stop-opacity=".94"/><stop offset=".007" stop-color="#2c41a3"/><stop offset=".022" stop-color="#2f4dac"/><stop offset=".046" stop-color="#284b91"/><stop offset=".123" stop-color="#284f95"/><stop offset=".135" stop-color="#2f5aad"/><stop offset=".15" stop-color="#367ad0"/><stop offset=".174" stop-color="#369ae2"/><stop offset=".221" stop-color="#33a3e4"/><stop offset=".274" stop-color="#3488d3"/><stop offset=".316" stop-color="#335fbc"/><stop offset=".364" stop-color="#3358b9"/><stop offset=".366" stop-color="#419fd7"/><stop offset=".369" stop-color="#51b7db"/><stop offset=".384" stop-color="#62bac8"/><stop offset=".426" stop-color="#68bcae"/><stop offset=".479" stop-color="#62b5b3"/><stop offset=".515" stop-color="#52accb"/><stop offset=".533" stop-color="#32acdc"/><stop offset=".539" stop-color="#3196d6"/><stop offset=".547" stop-color="#325fb9"/><stop offset=".586" stop-color="#3255b7"/><stop offset=".598" stop-color="#3355b8"/><stop offset=".601" stop-color="#4a83b5"/><stop offset=".604" stop-color="#6dc0a6"/><stop offset=".619" stop-color="#84c77f"/><stop offset=".636" stop-color="#92ca69"/><stop offset=".687" stop-color="#93c663"/><stop offset=".714" stop-color="#85c06e"/><stop offset=".734" stop-color="#6fb88e"/><stop offset=".752" stop-color="#5eb0b7"/><stop offset=".755" stop-color="#5aadc2"/><stop offset=".758" stop-color="#407cc1"/><stop offset=".761" stop-color="#3356b8"/><stop offset=".996" stop-color="#304db0"/><stop offset=".999" stop-color="#304daf" stop-opacity=".5"/></linearGradient><linearGradient id="s178" gradientUnits="userSpaceOnUse" x1="285" x2="621"><stop offset=".001" stop-color="#2b3ea0" stop-opacity=".81"/><stop offset=".004" stop-color="#2c3fa2"/><stop offset=".022" stop-color="#2f4dac"/><stop offset=".046" stop-color="#274b91"/><stop offset=".121" stop-color="#284d93"/><stop offset=".132" stop-color="#2c54a2"/><stop offset=".147" stop-color="#366ec9"/><stop offset=".171" stop-color="#3691de"/><stop offset=".219" stop-color="#349ce1"/><stop offset=".272" stop-color="#3484d1"/><stop offset=".314" stop-color="#335fbc"/><stop offset=".362" stop-color="#3358ba"/><stop offset=".365" stop-color="#3464c0"/><stop offset=".368" stop-color="#44b6e1"/><stop offset=".379" stop-color="#5db8d4"/><stop offset=".421" stop-color="#66bcb6"/><stop offset=".478" stop-color="#62b5b7"/><stop offset=".513" stop-color="#50adcc"/><stop offset=".534" stop-color="#30aadd"/><stop offset=".54" stop-color="#3292d4"/><stop offset=".549" stop-color="#3360b9"/><stop offset=".579" stop-color="#3254b7"/><stop offset=".6" stop-color="#3254b7"/><stop offset=".603" stop-color="#5da8b7"/><stop offset=".606" stop-color="#6bbfab"/><stop offset=".621" stop-color="#80c687"/><stop offset=".647" stop-color="#8fc96a"/><stop offset=".698" stop-color="#8ac36a"/><stop offset=".728" stop-color="#76bb86"/><stop offset=".754" stop-color="#5dafba"/><stop offset=".757" stop-color="#59adc4"/><stop offset=".76" stop-color="#4a9cc8"/><stop offset=".763" stop-color="#3357b8"/><stop offset=".996" stop-color="#304db0"/><stop offset=".999" stop-color="#304daf" stop-opacity=".69"/></linearGradient><linearGradient id="s179" gradientUnits="userSpaceOnUse" x1="284" x2="621"><stop offset=".001" stop-color="#2b3d9f" stop-opacity=".56"/><stop offset=".004" stop-color="#2b3ea1"/><stop offset=".025" stop-color="#2f4dac"/><stop offset=".049" stop-color="#274a91"/><stop offset=".123" stop-color="#284d92"/><stop offset=".135" stop-color="#2c53a1"/><stop offset=".147" stop-color="#3565c2"/><stop offset=".177" stop-color="#378cdb"/><stop offset=".224" stop-color="#3694dd"/><stop offset=".277" stop-color="#347bcc"/><stop offset=".313" stop-color="#345fbc"/><stop offset=".364" stop-color="#3359bb"/><stop offset=".366" stop-color="#368ed5"/><stop offset=".369" stop-color="#42b7e3"/><stop offset=".387" stop-color="#5fb8d2"/><stop offset=".435" stop-color="#65bab9"/><stop offset=".488" stop-color="#5eb2c1"/><stop offset=".518" stop-color="#49add0"/><stop offset=".536" stop-color="#2fa8dd"/><stop offset=".55" stop-color="#3261b9"/><stop offset=".574" stop-color="#3254b6"/><stop offset=".598" stop-color="#3254b7"/><stop offset=".601" stop-color="#355ab8"/><stop offset=".604" stop-color="#66bbba"/><stop offset=".625" stop-color="#7dc58b"/><stop offset=".657" stop-color="#8bc76f"/><stop offset=".702" stop-color="#83c174"/><stop offset=".734" stop-color="#6ab799"/><stop offset=".755" stop-color="#5baebf"/><stop offset=".761" stop-color="#4daccd"/><stop offset=".764" stop-color="#3567be"/><stop offset=".767" stop-color="#3357b8"/><stop offset=".993" stop-color="#304db0"/><stop offset=".996" stop-color="#304db0" stop-opacity=".81"/><stop offset=".999" stop-color="#304daf" stop-opacity=".06"/></linearGradient><linearGradient id="s180" gradientUnits="userSpaceOnUse" x1="283" x2="620"><stop offset=".001" stop-color="#2a3c9e" stop-opacity=".31"/><stop offset=".004" stop-color="#2b3da0"/><stop offset=".028" stop-color="#2f4dac"/><stop offset=".052" stop-color="#274990"/><stop offset=".126" stop-color="#284d92"/><stop offset=".138" stop-color="#2b529f"/><stop offset=".15" stop-color="#3563c1"/><stop offset=".182" stop-color="#3787d9"/><stop offset=".233" stop-color="#368cd9"/><stop offset=".286" stop-color="#356fc6"/><stop offset=".331" stop-color="#3359ba"/><stop offset=".364" stop-color="#345abc"/><stop offset=".366" stop-color="#3460bf"/><stop offset=".369" stop-color="#36b0e6"/><stop offset=".378" stop-color="#4db8de"/><stop offset=".402" stop-color="#60b9ce"/><stop offset=".45" stop-color="#63b8bc"/><stop offset=".506" stop-color="#54afcd"/><stop offset=".536" stop-color="#2facde"/><stop offset=".547" stop-color="#337ac7"/><stop offset=".553" stop-color="#325fb8"/><stop offset=".58" stop-color="#3253b6"/><stop offset=".601" stop-color="#3253b7"/><stop offset=".604" stop-color="#4479be"/><stop offset=".607" stop-color="#65bbbd"/><stop offset=".631" stop-color="#7bc48f"/><stop offset=".669" stop-color="#86c575"/><stop offset=".711" stop-color="#7bbe81"/><stop offset=".755" stop-color="#5dafba"/><stop offset=".764" stop-color="#4cacce"/><stop offset=".767" stop-color="#3a8ccb"/><stop offset=".77" stop-color="#3357b8"/><stop offset=".993" stop-color="#304db0"/><stop offset=".996" stop-color="#304db0" stop-opacity=".94"/><stop offset=".999" stop-color="#304daf" stop-opacity=".06"/></linearGradient><linearGradient id="s181" gradientUnits="userSpaceOnUse" x1="282" x2="619"><stop offset=".001" stop-color="#2a3b9d" stop-opacity=".19"/><stop offset=".004" stop-color="#2a3c9f" stop-opacity=".94"/><stop offset=".007" stop-color="#2b3da0"/><stop offset=".034" stop-color="#2f4da9"/><stop offset=".055" stop-color="#274990"/><stop offset=".129" stop-color="#284d92"/><stop offset=".141" stop-color="#2b529e"/><stop offset=".156" stop-color="#3565c3"/><stop offset=".194" stop-color="#3784d7"/><stop offset=".251" stop-color="#3580d2"/><stop offset=".325" stop-color="#335bbb"/><stop offset=".366" stop-color="#345dbe"/><stop offset=".369" stop-color="#3484d3"/><stop offset=".372" stop-color="#35b6ea"/><stop offset=".39" stop-color="#54b8da"/><stop offset=".426" stop-color="#61b8c8"/><stop offset=".479" stop-color="#5db3c7"/><stop offset=".518" stop-color="#47aed3"/><stop offset=".536" stop-color="#32abdc"/><stop offset=".547" stop-color="#3384cd"/><stop offset=".556" stop-color="#325eb7"/><stop offset=".583" stop-color="#3251b5"/><stop offset=".604" stop-color="#3252b6"/><stop offset=".607" stop-color="#5198c4"/><stop offset=".61" stop-color="#64bbc0"/><stop offset=".642" stop-color="#7ac48f"/><stop offset=".681" stop-color="#80c37f"/><stop offset=".723" stop-color="#70bb91"/><stop offset=".764" stop-color="#53acca"/><stop offset=".77" stop-color="#3ca7d5"/><stop offset=".773" stop-color="#335dba"/><stop offset=".797" stop-color="#3255b7"/><stop offset=".996" stop-color="#304db0"/><stop offset=".999" stop-color="#304daf" stop-opacity=".19"/></linearGradient><linearGradient id="s182" gradientUnits="userSpaceOnUse" x1="281" x2="618"><stop offset=".001" stop-color="#2a3a9c" stop-opacity=".06"/><stop offset=".004" stop-color="#2a3b9e" stop-opacity=".81"/><stop offset=".007" stop-color="#2a3c9f"/><stop offset=".037" stop-color="#2e4ca9"/><stop offset=".058" stop-color="#27488f"/><stop offset=".132" stop-color="#284d92"/><stop offset=".147" stop-color="#2d54a4"/><stop offset=".159" stop-color="#3563c2"/><stop offset=".206" stop-color="#377fd5"/><stop offset=".269" stop-color="#3573ca"/><stop offset=".331" stop-color="#335aba"/><stop offset=".366" stop-color="#345ebf"/><stop offset=".369" stop-color="#356ac6"/><stop offset=".372" stop-color="#33a5e6"/><stop offset=".375" stop-color="#34b7ec"/><stop offset=".396" stop-color="#52b8db"/><stop offset=".438" stop-color="#5fb7cb"/><stop offset=".5" stop-color="#53b0cf"/><stop offset=".539" stop-color="#2fa8dd"/><stop offset=".553" stop-color="#3372c3"/><stop offset=".559" stop-color="#325db6"/><stop offset=".583" stop-color="#3150b3"/><stop offset=".607" stop-color="#3251b5"/><stop offset=".61" stop-color="#5cb1cd"/><stop offset=".616" stop-color="#66bcbd"/><stop offset=".657" stop-color="#79c38f"/><stop offset=".699" stop-color="#78bf8a"/><stop offset=".746" stop-color="#61b3ae"/><stop offset=".767" stop-color="#50accc"/><stop offset=".773" stop-color="#3dacd6"/><stop offset=".776" stop-color="#3282ca"/><stop offset=".779" stop-color="#3358b8"/><stop offset=".996" stop-color="#304db0"/><stop offset=".999" stop-color="#304daf" stop-opacity=".38"/></linearGradient><linearGradient id="s183" gradientUnits="userSpaceOnUse" x1="281" x2="617"><stop offset=".001" stop-color="#293a9c" stop-opacity=".63"/><stop offset=".004" stop-color="#2a3b9d"/><stop offset=".037" stop-color="#2e4ca8"/><stop offset=".058" stop-color="#27488f"/><stop offset=".132" stop-color="#284d93"/><stop offset=".147" stop-color="#2d53a3"/><stop offset=".159" stop-color="#3561c0"/><stop offset=".21" stop-color="#3779d1"/><stop offset=".272" stop-color="#356cc6"/><stop offset=".35" stop-color="#3359ba"/><stop offset=".368" stop-color="#3564c3"/><stop offset=".374" stop-color="#33a8e7"/><stop offset=".376" stop-color="#33b6ec"/><stop offset=".403" stop-color="#52b8db"/><stop offset=".454" stop-color="#5db4cf"/><stop offset=".507" stop-color="#49afd4"/><stop offset=".537" stop-color="#2fa8dd"/><stop offset=".552" stop-color="#337ac7"/><stop offset=".561" stop-color="#325bb5"/><stop offset=".591" stop-color="#314db1"/><stop offset=".606" stop-color="#314eb3"/><stop offset=".609" stop-color="#3c6fbf"/><stop offset=".612" stop-color="#5eb7d1"/><stop offset=".629" stop-color="#69beb2"/><stop offset=".674" stop-color="#76c193"/><stop offset=".719" stop-color="#6bba9c"/><stop offset=".757" stop-color="#5baebf"/><stop offset=".769" stop-color="#4cacce"/><stop offset=".778" stop-color="#31a7db"/><stop offset=".781" stop-color="#3362bc"/><stop offset=".787" stop-color="#3258b8"/><stop offset=".996" stop-color="#314db1"/><stop offset=".999" stop-color="#314db0" stop-opacity=".5"/></linearGradient><linearGradient id="s184" gradientUnits="userSpaceOnUse" x1="280" x2="616"><stop offset=".001" stop-color="#29399a" stop-opacity=".38"/><stop offset=".004" stop-color="#293a9c"/><stop offset=".04" stop-color="#2e4ba8"/><stop offset=".061" stop-color="#27478f"/><stop offset=".135" stop-color="#284e93"/><stop offset=".15" stop-color="#2c53a2"/><stop offset=".162" stop-color="#3460bf"/><stop offset=".219" stop-color="#3773ce"/><stop offset=".353" stop-color="#3359bb"/><stop offset=".368" stop-color="#3562c2"/><stop offset=".371" stop-color="#3675cd"/><stop offset=".376" stop-color="#33a7e7"/><stop offset=".382" stop-color="#35b7ec"/><stop offset=".415" stop-color="#52b7db"/><stop offset=".472" stop-color="#57b3d1"/><stop offset=".525" stop-color="#3aaedb"/><stop offset=".54" stop-color="#2fa4dc"/><stop offset=".555" stop-color="#3375c4"/><stop offset=".564" stop-color="#315ab3"/><stop offset=".597" stop-color="#304aae"/><stop offset=".609" stop-color="#304cb1"/><stop offset=".612" stop-color="#468fca"/><stop offset=".615" stop-color="#5cb7d4"/><stop offset=".641" stop-color="#6abfaf"/><stop offset=".686" stop-color="#70bf9b"/><stop offset=".737" stop-color="#63b5ac"/><stop offset=".766" stop-color="#53acca"/><stop offset=".781" stop-color="#31aadc"/><stop offset=".787" stop-color="#335db9"/><stop offset=".882" stop-color="#3252b5"/><stop offset=".996" stop-color="#314eb1"/><stop offset=".999" stop-color="#314db0" stop-opacity=".63"/></linearGradient><linearGradient id="s185" gradientUnits="userSpaceOnUse" x1="279" x2="616"><stop offset=".001" stop-color="#293899" stop-opacity=".19"/><stop offset=".004" stop-color="#29399b" stop-opacity=".94"/><stop offset=".007" stop-color="#2a3a9c"/><stop offset=".043" stop-color="#2e4aa8"/><stop offset=".064" stop-color="#274790"/><stop offset=".138" stop-color="#294e95"/><stop offset=".153" stop-color="#2c52a1"/><stop offset=".168" stop-color="#3560c0"/><stop offset=".233" stop-color="#366eca"/><stop offset=".355" stop-color="#345abc"/><stop offset=".366" stop-color="#3562c2"/><stop offset=".369" stop-color="#366ac7"/><stop offset=".378" stop-color="#34a5e6"/><stop offset=".384" stop-color="#33b7ed"/><stop offset=".423" stop-color="#4fb7dc"/><stop offset=".479" stop-color="#50b2d4"/><stop offset=".536" stop-color="#2fa9df"/><stop offset=".553" stop-color="#337ac8"/><stop offset=".565" stop-color="#3158b2"/><stop offset=".598" stop-color="#2e47ab"/><stop offset=".61" stop-color="#304aae"/><stop offset=".613" stop-color="#4eb0d8"/><stop offset=".619" stop-color="#5fb8d1"/><stop offset=".648" stop-color="#69beb1"/><stop offset=".696" stop-color="#6abca4"/><stop offset=".74" stop-color="#61b4b4"/><stop offset=".767" stop-color="#50accc"/><stop offset=".782" stop-color="#30abdd"/><stop offset=".785" stop-color="#3199d7"/><stop offset=".788" stop-color="#3371c3"/><stop offset=".791" stop-color="#335db9"/><stop offset=".88" stop-color="#3253b5"/><stop offset=".993" stop-color="#314eb1"/><stop offset=".996" stop-color="#314eb1" stop-opacity=".81"/><stop offset=".999" stop-color="#314eb0" stop-opacity=".06"/></linearGradient><linearGradient id="s186" gradientUnits="userSpaceOnUse" x1="278" x2="615"><stop offset=".001" stop-color="#283798" stop-opacity=".06"/><stop offset=".004" stop-color="#29389a" stop-opacity=".87"/><stop offset=".007" stop-color="#29399b"/><stop offset=".046" stop-color="#2e49a7"/><stop offset=".067" stop-color="#274790"/><stop offset=".138" stop-color="#294e95"/><stop offset=".156" stop-color="#2c52a1"/><stop offset=".171" stop-color="#345fbf"/><stop offset=".236" stop-color="#3669c7"/><stop offset=".358" stop-color="#345bbc"/><stop offset=".369" stop-color="#3665c5"/><stop offset=".381" stop-color="#35a1e5"/><stop offset=".39" stop-color="#33b7ed"/><stop offset=".435" stop-color="#4db6dc"/><stop offset=".491" stop-color="#48b2d8"/><stop offset=".536" stop-color="#2fa8df"/><stop offset=".556" stop-color="#3375c5"/><stop offset=".565" stop-color="#315bb5"/><stop offset=".592" stop-color="#2d44a7"/><stop offset=".61" stop-color="#2e46aa"/><stop offset=".613" stop-color="#3671c0"/><stop offset=".616" stop-color="#4eb7dc"/><stop offset=".625" stop-color="#5fb8d1"/><stop offset=".657" stop-color="#68bdb4"/><stop offset=".711" stop-color="#67b9ab"/><stop offset=".755" stop-color="#5bafc3"/><stop offset=".779" stop-color="#3cacd6"/><stop offset=".785" stop-color="#2faadd"/><stop offset=".791" stop-color="#3383cc"/><stop offset=".794" stop-color="#3366bd"/><stop offset=".803" stop-color="#3359b8"/><stop offset=".993" stop-color="#314eb2"/><stop offset=".996" stop-color="#314eb2" stop-opacity=".81"/><stop offset=".999" stop-color="#314eb0" stop-opacity=".06"/></linearGradient><linearGradient id="s187" gradientUnits="userSpaceOnUse" x1="278" x2="614"><stop offset=".001" stop-color="#283799" stop-opacity=".75"/><stop offset=".004" stop-color="#29379a"/><stop offset=".046" stop-color="#2e48a6"/><stop offset=".07" stop-color="#284691"/><stop offset=".138" stop-color="#294e98"/><stop offset=".159" stop-color="#2e55a8"/><stop offset=".174" stop-color="#355fc0"/><stop offset=".249" stop-color="#3666c4"/><stop offset=".356" stop-color="#345bbc"/><stop offset=".371" stop-color="#3669c7"/><stop offset=".382" stop-color="#359ee3"/><stop offset=".394" stop-color="#32b8ee"/><stop offset=".442" stop-color="#49b6dd"/><stop offset=".499" stop-color="#41b1db"/><stop offset=".531" stop-color="#30aae0"/><stop offset=".555" stop-color="#3378c6"/><stop offset=".57" stop-color="#3055af"/><stop offset=".597" stop-color="#2c40a3"/><stop offset=".612" stop-color="#2d43a7"/><stop offset=".615" stop-color="#3c93d0"/><stop offset=".618" stop-color="#4cb7dd"/><stop offset=".632" stop-color="#61b9ce"/><stop offset=".677" stop-color="#67bcb2"/><stop offset=".731" stop-color="#61b5b7"/><stop offset=".763" stop-color="#53adcc"/><stop offset=".787" stop-color="#2fa8dd"/><stop offset=".799" stop-color="#3361bb"/><stop offset=".829" stop-color="#3256b7"/><stop offset=".993" stop-color="#314fb3"/><stop offset=".996" stop-color="#314fb2" stop-opacity=".87"/><stop offset=".999" stop-color="#314fb1" stop-opacity=".13"/></linearGradient><linearGradient id="s188" gradientUnits="userSpaceOnUse" x1="277" x2="613"><stop offset=".001" stop-color="#283697" stop-opacity=".5"/><stop offset=".004" stop-color="#283698"/><stop offset=".052" stop-color="#2d48a3"/><stop offset=".076" stop-color="#284691"/><stop offset=".141" stop-color="#2a4f9b"/><stop offset=".162" stop-color="#2e55a9"/><stop offset=".177" stop-color="#345fbf"/><stop offset=".254" stop-color="#3563c2"/><stop offset=".359" stop-color="#345cbd"/><stop offset=".374" stop-color="#366dca"/><stop offset=".388" stop-color="#35a1e5"/><stop offset=".403" stop-color="#33b8ee"/><stop offset=".457" stop-color="#46b5de"/><stop offset=".516" stop-color="#34b0e1"/><stop offset=".534" stop-color="#31a2dd"/><stop offset=".558" stop-color="#3373c4"/><stop offset=".573" stop-color="#3053ae"/><stop offset=".597" stop-color="#2b3d9f"/><stop offset=".612" stop-color="#2c3fa3"/><stop offset=".615" stop-color="#2d50ad"/><stop offset=".618" stop-color="#40b6e4"/><stop offset=".632" stop-color="#5cb8d6"/><stop offset=".683" stop-color="#65bab7"/><stop offset=".734" stop-color="#60b4bd"/><stop offset=".766" stop-color="#4faece"/><stop offset=".787" stop-color="#31acdd"/><stop offset=".793" stop-color="#3199d6"/><stop offset=".802" stop-color="#3368bf"/><stop offset=".814" stop-color="#3359b9"/><stop offset=".993" stop-color="#3150b3"/><stop offset=".996" stop-color="#314fb3" stop-opacity=".94"/><stop offset=".999" stop-color="#314fb2" stop-opacity=".19"/></linearGradient><linearGradient id="s189" gradientUnits="userSpaceOnUse" x1="276" x2="612"><stop offset=".001" stop-color="#283596" stop-opacity=".25"/><stop offset=".004" stop-color="#283597"/><stop offset=".055" stop-color="#2d47a2"/><stop offset=".082" stop-color="#284693"/><stop offset=".147" stop-color="#2c51a0"/><stop offset=".171" stop-color="#3259b6"/><stop offset=".201" stop-color="#3663c3"/><stop offset=".359" stop-color="#345bbd"/><stop offset=".374" stop-color="#3667c6"/><stop offset=".394" stop-color="#35a2e6"/><stop offset=".412" stop-color="#33b8ee"/><stop offset=".469" stop-color="#41b4e0"/><stop offset=".525" stop-color="#30abe2"/><stop offset=".558" stop-color="#3375c6"/><stop offset=".579" stop-color="#2f4daa"/><stop offset=".6" stop-color="#293a9b"/><stop offset=".615" stop-color="#2b3da0"/><stop offset=".618" stop-color="#3188ce"/><stop offset=".621" stop-color="#3fb7e5"/><stop offset=".638" stop-color="#5bb8d6"/><stop offset=".695" stop-color="#63b8bc"/><stop offset=".746" stop-color="#5cb1c6"/><stop offset=".781" stop-color="#3cacd8"/><stop offset=".79" stop-color="#2faade"/><stop offset=".802" stop-color="#337cc9"/><stop offset=".808" stop-color="#3363bd"/><stop offset=".844" stop-color="#3357b8"/><stop offset=".993" stop-color="#3150b3"/><stop offset=".996" stop-color="#3150b3" stop-opacity=".94"/><stop offset=".999" stop-color="#3150b2" stop-opacity=".19"/></linearGradient><linearGradient id="s190" gradientUnits="userSpaceOnUse" x1="275" x2="611"><stop offset=".001" stop-color="#273495" stop-opacity=".06"/><stop offset=".004" stop-color="#273496" stop-opacity=".94"/><stop offset=".007" stop-color="#283597"/><stop offset=".058" stop-color="#2c46a1"/><stop offset=".091" stop-color="#294695"/><stop offset=".15" stop-color="#2d52a3"/><stop offset=".192" stop-color="#3561c1"/><stop offset=".317" stop-color="#335abb"/><stop offset=".368" stop-color="#355fc0"/><stop offset=".379" stop-color="#376fcb"/><stop offset=".4" stop-color="#35a1e5"/><stop offset=".424" stop-color="#33b8ed"/><stop offset=".484" stop-color="#3bb3e2"/><stop offset=".522" stop-color="#30aae2"/><stop offset=".558" stop-color="#3375c7"/><stop offset=".591" stop-color="#2a3d9b"/><stop offset=".615" stop-color="#29399b"/><stop offset=".618" stop-color="#2b47a6"/><stop offset=".621" stop-color="#33b2ea"/><stop offset=".638" stop-color="#54b8da"/><stop offset=".674" stop-color="#61b9c8"/><stop offset=".725" stop-color="#5fb4c3"/><stop offset=".763" stop-color="#4fafd0"/><stop offset=".793" stop-color="#2fa7dd"/><stop offset=".811" stop-color="#3465be"/><stop offset=".838" stop-color="#3358b9"/><stop offset=".993" stop-color="#3251b4"/><stop offset=".996" stop-color="#3151b4" stop-opacity=".94"/><stop offset=".999" stop-color="#3150b2" stop-opacity=".19"/></linearGradient><linearGradient id="s191" gradientUnits="userSpaceOnUse" x1="275" x2="610"><stop offset=".001" stop-color="#273495" stop-opacity=".81"/><stop offset=".004" stop-color="#273496"/><stop offset=".061" stop-color="#2c459f"/><stop offset=".112" stop-color="#2a4899"/><stop offset=".172" stop-color="#3259b5"/><stop offset=".207" stop-color="#3562c3"/><stop offset=".36" stop-color="#345bbd"/><stop offset=".381" stop-color="#376fcc"/><stop offset=".404" stop-color="#359fe5"/><stop offset=".434" stop-color="#32b7ed"/><stop offset=".491" stop-color="#35b3e5"/><stop offset=".521" stop-color="#31a5e0"/><stop offset=".56" stop-color="#3470c4"/><stop offset=".599" stop-color="#273594"/><stop offset=".616" stop-color="#283799"/><stop offset=".619" stop-color="#307bc9"/><stop offset=".622" stop-color="#33b5eb"/><stop offset=".646" stop-color="#55b8da"/><stop offset=".691" stop-color="#60b7c9"/><stop offset=".751" stop-color="#55b0ce"/><stop offset=".793" stop-color="#2fa9de"/><stop offset=".816" stop-color="#3462bd"/><stop offset=".87" stop-color="#3358b9"/><stop offset=".993" stop-color="#3252b4"/><stop offset=".996" stop-color="#3252b4" stop-opacity=".94"/><stop offset=".999" stop-color="#3251b3" stop-opacity=".19"/></linearGradient><linearGradient id="s192" gradientUnits="userSpaceOnUse" x1="274" x2="609"><stop offset=".001" stop-color="#273394" stop-opacity=".56"/><stop offset=".004" stop-color="#273395"/><stop offset=".067" stop-color="#2b459e"/><stop offset=".13" stop-color="#2c4b9f"/><stop offset=".201" stop-color="#3561c2"/><stop offset=".363" stop-color="#345cbe"/><stop offset=".384" stop-color="#376ecb"/><stop offset=".41" stop-color="#369de4"/><stop offset=".449" stop-color="#32b5ec"/><stop offset=".509" stop-color="#31aae4"/><stop offset=".551" stop-color="#347dcc"/><stop offset=".587" stop-color="#2d48a5"/><stop offset=".601" stop-color="#263291"/><stop offset=".616" stop-color="#273295"/><stop offset=".619" stop-color="#2c4aa8"/><stop offset=".622" stop-color="#34a1e4"/><stop offset=".625" stop-color="#33b4eb"/><stop offset=".652" stop-color="#52b8db"/><stop offset=".7" stop-color="#5eb5cd"/><stop offset=".757" stop-color="#4fb0d2"/><stop offset=".793" stop-color="#30abdf"/><stop offset=".819" stop-color="#3463bf"/><stop offset=".876" stop-color="#335abb"/><stop offset=".993" stop-color="#3253b5"/><stop offset=".996" stop-color="#3253b5" stop-opacity=".94"/><stop offset=".999" stop-color="#3252b4" stop-opacity=".19"/></linearGradient><linearGradient id="s193" gradientUnits="userSpaceOnUse" x1="273" x2="608"><stop offset=".001" stop-color="#273293" stop-opacity=".38"/><stop offset=".004" stop-color="#273294"/><stop offset=".076" stop-color="#2b459d"/><stop offset=".142" stop-color="#2e4fa6"/><stop offset=".204" stop-color="#3561c1"/><stop offset=".363" stop-color="#345bbd"/><stop offset=".39" stop-color="#3772ce"/><stop offset=".419" stop-color="#369ce3"/><stop offset=".464" stop-color="#31b1e9"/><stop offset=".512" stop-color="#32a2e0"/><stop offset=".554" stop-color="#3477c9"/><stop offset=".587" stop-color="#2f4eab"/><stop offset=".601" stop-color="#25318f"/><stop offset=".616" stop-color="#262f91"/><stop offset=".619" stop-color="#293c9d"/><stop offset=".622" stop-color="#3584d4"/><stop offset=".625" stop-color="#34a4e5"/><stop offset=".631" stop-color="#35b7ec"/><stop offset=".664" stop-color="#52b8db"/><stop offset=".718" stop-color="#5ab4d0"/><stop offset=".775" stop-color="#40afd9"/><stop offset=".793" stop-color="#2fabe0"/><stop offset=".825" stop-color="#3462bf"/><stop offset=".993" stop-color="#3254b6"/><stop offset=".996" stop-color="#3254b6" stop-opacity=".87"/><stop offset=".999" stop-color="#3253b5" stop-opacity=".19"/></linearGradient><linearGradient id="s194" gradientUnits="userSpaceOnUse" x1="272" x2="607"><stop offset=".001" stop-color="#263192" stop-opacity=".19"/><stop offset=".004" stop-color="#263293" stop-opacity=".94"/><stop offset=".007" stop-color="#273294"/><stop offset=".145" stop-color="#2f4fa9"/><stop offset=".207" stop-color="#3561c1"/><stop offset=".363" stop-color="#345bbd"/><stop offset=".393" stop-color="#376fcc"/><stop offset=".425" stop-color="#3697e2"/><stop offset=".47" stop-color="#32aae6"/><stop offset=".518" stop-color="#3399dc"/><stop offset=".59" stop-color="#2f4eac"/><stop offset=".604" stop-color="#252f8d"/><stop offset=".616" stop-color="#252d8e"/><stop offset=".619" stop-color="#2c44a5"/><stop offset=".622" stop-color="#3570c9"/><stop offset=".625" stop-color="#3691dd"/><stop offset=".634" stop-color="#32b7ed"/><stop offset=".673" stop-color="#50b7dc"/><stop offset=".73" stop-color="#53b3d3"/><stop offset=".784" stop-color="#36afde"/><stop offset=".796" stop-color="#30a6de"/><stop offset=".828" stop-color="#3463c0"/><stop offset=".993" stop-color="#3256b7"/><stop offset=".996" stop-color="#3256b7" stop-opacity=".81"/><stop offset=".999" stop-color="#3255b6" stop-opacity=".06"/></linearGradient><linearGradient id="s195" gradientUnits="userSpaceOnUse" x1="271" x2="605"><stop offset=".001" stop-color="#263191" stop-opacity=".06"/><stop offset=".004" stop-color="#263192" stop-opacity=".87"/><stop offset=".007" stop-color="#263193"/><stop offset=".142" stop-color="#2f4daa"/><stop offset=".214" stop-color="#3560c1"/><stop offset=".367" stop-color="#345bbd"/><stop offset=".4" stop-color="#3771cd"/><stop offset=".439" stop-color="#3696e1"/><stop offset=".484" stop-color="#33a2e2"/><stop offset=".531" stop-color="#348ad5"/><stop offset=".582" stop-color="#325ab8"/><stop offset=".597" stop-color="#2f4baa"/><stop offset=".609" stop-color="#252e8d"/><stop offset=".615" stop-color="#242c8c"/><stop offset=".618" stop-color="#2a3c9d"/><stop offset=".621" stop-color="#3257b7"/><stop offset=".63" stop-color="#3692de"/><stop offset=".642" stop-color="#33b8ee"/><stop offset=".687" stop-color="#4eb7dc"/><stop offset=".744" stop-color="#4cb2d7"/><stop offset=".795" stop-color="#2faae1"/><stop offset=".834" stop-color="#3564c1"/><stop offset=".996" stop-color="#3358b9"/><stop offset=".999" stop-color="#3357b8" stop-opacity=".63"/></linearGradient><linearGradient id="s196" gradientUnits="userSpaceOnUse" x1="271" x2="604"><stop offset=".002" stop-color="#263092" stop-opacity=".75"/><stop offset=".005" stop-color="#263192"/><stop offset=".134" stop-color="#2e4aa9"/><stop offset=".212" stop-color="#3560c0"/><stop offset=".365" stop-color="#345bbd"/><stop offset=".404" stop-color="#3771ce"/><stop offset=".452" stop-color="#3696e0"/><stop offset=".503" stop-color="#3596dc"/><stop offset=".554" stop-color="#346ec5"/><stop offset=".602" stop-color="#304cad"/><stop offset=".611" stop-color="#2a3e9e"/><stop offset=".62" stop-color="#345dbe"/><stop offset=".626" stop-color="#3671cc"/><stop offset=".635" stop-color="#359de3"/><stop offset=".647" stop-color="#33b7ee"/><stop offset=".698" stop-color="#4bb6dd"/><stop offset=".758" stop-color="#43b1db"/><stop offset=".794" stop-color="#30a9e1"/><stop offset=".836" stop-color="#3565c2"/><stop offset=".995" stop-color="#335aba"/><stop offset=".998" stop-color="#3359b9" stop-opacity=".44"/></linearGradient><linearGradient id="s197" gradientUnits="userSpaceOnUse" x1="270" x2="603"><stop offset=".002" stop-color="#263090" stop-opacity=".56"/><stop offset=".005" stop-color="#263091"/><stop offset=".134" stop-color="#2e48a8"/><stop offset=".212" stop-color="#3560c0"/><stop offset=".368" stop-color="#345bbd"/><stop offset=".413" stop-color="#3774cf"/><stop offset=".467" stop-color="#3692dd"/><stop offset=".518" stop-color="#3588d5"/><stop offset=".581" stop-color="#335cba"/><stop offset=".611" stop-color="#3255b6"/><stop offset=".626" stop-color="#3668c7"/><stop offset=".638" stop-color="#3699e2"/><stop offset=".653" stop-color="#32b7ee"/><stop offset=".713" stop-color="#48b5dd"/><stop offset=".776" stop-color="#37b0e1"/><stop offset=".794" stop-color="#30a7e0"/><stop offset=".839" stop-color="#3565c3"/><stop offset=".992" stop-color="#345dbd"/><stop offset=".995" stop-color="#345cbc" stop-opacity=".87"/><stop offset=".998" stop-color="#335bbb" stop-opacity=".19"/></linearGradient><linearGradient id="s198" gradientUnits="userSpaceOnUse" x1="269" x2="602"><stop offset=".002" stop-color="#262f90" stop-opacity=".38"/><stop offset=".005" stop-color="#263091"/><stop offset=".134" stop-color="#2d46a7"/><stop offset=".209" stop-color="#355fc0"/><stop offset=".368" stop-color="#345abc"/><stop offset=".425" stop-color="#3776d1"/><stop offset=".479" stop-color="#368bd9"/><stop offset=".527" stop-color="#357dcf"/><stop offset=".581" stop-color="#335cbb"/><stop offset=".614" stop-color="#3358ba"/><stop offset=".629" stop-color="#366bc9"/><stop offset=".644" stop-color="#359ce3"/><stop offset=".662" stop-color="#32b7ee"/><stop offset=".725" stop-color="#43b4df"/><stop offset=".788" stop-color="#30ace3"/><stop offset=".842" stop-color="#3666c4"/><stop offset=".983" stop-color="#3561c0"/><stop offset=".992" stop-color="#3460bf"/><stop offset=".995" stop-color="#345ebd" stop-opacity=".63"/><stop offset=".998" stop-color="#345ebc" stop-opacity=".06"/></linearGradient><linearGradient id="s199" gradientUnits="userSpaceOnUse" x1="268" x2="600"><stop offset=".002" stop-color="#252f8f" stop-opacity=".19"/><stop offset=".005" stop-color="#252f90"/><stop offset=".137" stop-color="#2d45a7"/><stop offset=".206" stop-color="#345ebf"/><stop offset=".372" stop-color="#345bbc"/><stop offset=".477" stop-color="#3684d6"/><stop offset=".529" stop-color="#3578cc"/><stop offset=".586" stop-color="#335aba"/><stop offset=".622" stop-color="#345cbe"/><stop offset=".634" stop-color="#376dca"/><stop offset=".652" stop-color="#369ce4"/><stop offset=".676" stop-color="#33b8ee"/><stop offset=".739" stop-color="#3db4e1"/><stop offset=".788" stop-color="#30abe3"/><stop offset=".845" stop-color="#3668c5"/><stop offset=".962" stop-color="#3669c6"/><stop offset=".992" stop-color="#3563c1"/><stop offset=".995" stop-color="#3562c1" stop-opacity=".94"/><stop offset=".998" stop-color="#3561bf" stop-opacity=".31"/></linearGradient><linearGradient id="s200" gradientUnits="userSpaceOnUse" x1="267" x2="599"><stop offset=".002" stop-color="#252e8f" stop-opacity=".13"/><stop offset=".005" stop-color="#252f90" stop-opacity=".94"/><stop offset=".008" stop-color="#252f90"/><stop offset=".137" stop-color="#2d43a6"/><stop offset=".2" stop-color="#345dbe"/><stop offset=".375" stop-color="#345bbd"/><stop offset=".483" stop-color="#367ed2"/><stop offset=".535" stop-color="#3570c8"/><stop offset=".604" stop-color="#3357b9"/><stop offset=".634" stop-color="#3667c7"/><stop offset=".658" stop-color="#369ce3"/><stop offset=".688" stop-color="#32b7ee"/><stop offset=".752" stop-color="#38b3e4"/><stop offset=".785" stop-color="#31aae3"/><stop offset=".848" stop-color="#3668c6"/><stop offset=".959" stop-color="#3670ca"/><stop offset=".992" stop-color="#3566c4"/><stop offset=".995" stop-color="#3565c3" stop-opacity=".75"/><stop offset=".998" stop-color="#3564c1" stop-opacity=".13"/></linearGradient><linearGradient id="s201" gradientUnits="userSpaceOnUse" x1="266" x2="597"><stop offset=".002" stop-color="#252e8e" stop-opacity=".06"/><stop offset=".005" stop-color="#252e8f" stop-opacity=".81"/><stop offset=".008" stop-color="#252f90"/><stop offset=".134" stop-color="#2c41a3"/><stop offset=".195" stop-color="#345bbd"/><stop offset=".379" stop-color="#345bbd"/><stop offset=".497" stop-color="#3676cd"/><stop offset=".612" stop-color="#3358ba"/><stop offset=".639" stop-color="#3667c7"/><stop offset=".666" stop-color="#369ae3"/><stop offset=".705" stop-color="#32b6ec"/><stop offset=".778" stop-color="#31ade5"/><stop offset=".85" stop-color="#366ac7"/><stop offset=".962" stop-color="#3675cd"/><stop offset=".995" stop-color="#366ac7"/><stop offset=".998" stop-color="#3668c5" stop-opacity=".44"/></linearGradient><linearGradient id="s202" gradientUnits="userSpaceOnUse" x1="266" x2="596"><stop offset=".002" stop-color="#252e8e" stop-opacity=".63"/><stop offset=".005" stop-color="#252e8f"/><stop offset=".132" stop-color="#2b3fa2"/><stop offset=".192" stop-color="#345bbd"/><stop offset=".38" stop-color="#345bbd"/><stop offset=".505" stop-color="#3670ca"/><stop offset=".611" stop-color="#3357ba"/><stop offset=".644" stop-color="#376cca"/><stop offset=".674" stop-color="#369ae3"/><stop offset=".72" stop-color="#32b4eb"/><stop offset=".774" stop-color="#31a9e4"/><stop offset=".853" stop-color="#366ac7"/><stop offset=".962" stop-color="#3679d0"/><stop offset=".992" stop-color="#3671ca"/><stop offset=".995" stop-color="#366fca" stop-opacity=".94"/><stop offset=".998" stop-color="#366dc8" stop-opacity=".19"/></linearGradient><linearGradient id="s203" gradientUnits="userSpaceOnUse" x1="265" x2="595"><stop offset=".002" stop-color="#252e8e" stop-opacity=".5"/><stop offset=".005" stop-color="#252e8f"/><stop offset=".132" stop-color="#2b3ea1"/><stop offset=".192" stop-color="#345abc"/><stop offset=".311" stop-color="#3357b8"/><stop offset=".411" stop-color="#3561c2"/><stop offset=".52" stop-color="#3667c5"/><stop offset=".617" stop-color="#3358bb"/><stop offset=".65" stop-color="#3770cc"/><stop offset=".683" stop-color="#3699e2"/><stop offset=".735" stop-color="#32aee8"/><stop offset=".786" stop-color="#339cde"/><stop offset=".853" stop-color="#366ac8"/><stop offset=".962" stop-color="#367cd1"/><stop offset=".992" stop-color="#3675cd"/><stop offset=".995" stop-color="#3674cc" stop-opacity=".81"/><stop offset=".998" stop-color="#3671ca" stop-opacity=".13"/></linearGradient><linearGradient id="s204" gradientUnits="userSpaceOnUse" x1="264" x2="594"><stop offset=".002" stop-color="#252d8d" stop-opacity=".38"/><stop offset=".005" stop-color="#252e8f"/><stop offset=".129" stop-color="#2a3c9f"/><stop offset=".192" stop-color="#345abc"/><stop offset=".298" stop-color="#3358b9"/><stop offset=".395" stop-color="#345dbf"/><stop offset=".52" stop-color="#3565c3"/><stop offset=".617" stop-color="#3358ba"/><stop offset=".653" stop-color="#376dcb"/><stop offset=".692" stop-color="#3796e1"/><stop offset=".741" stop-color="#33a6e4"/><stop offset=".792" stop-color="#3594db"/><stop offset=".853" stop-color="#366ac8"/><stop offset=".965" stop-color="#367ed3"/><stop offset=".992" stop-color="#3678cf"/><stop offset=".995" stop-color="#3677ce" stop-opacity=".81"/><stop offset=".998" stop-color="#3676cc" stop-opacity=".06"/></linearGradient><linearGradient id="s205" gradientUnits="userSpaceOnUse" x1="263" x2="593"><stop offset=".002" stop-color="#252d8d" stop-opacity=".25"/><stop offset=".005" stop-color="#252d8e"/><stop offset=".129" stop-color="#2a3c9e"/><stop offset=".192" stop-color="#345abc"/><stop offset=".295" stop-color="#3358b9"/><stop offset=".395" stop-color="#345dbe"/><stop offset=".526" stop-color="#3562c1"/><stop offset=".62" stop-color="#3358bb"/><stop offset=".662" stop-color="#3773ce"/><stop offset=".711" stop-color="#3698e1"/><stop offset=".765" stop-color="#349bdf"/><stop offset=".856" stop-color="#3669c8"/><stop offset=".965" stop-color="#367fd4"/><stop offset=".992" stop-color="#367ad0"/><stop offset=".995" stop-color="#367ad0" stop-opacity=".81"/><stop offset=".998" stop-color="#3679ce" stop-opacity=".06"/></linearGradient><linearGradient id="s206" gradientUnits="userSpaceOnUse" x1="262" x2="592"><stop offset=".002" stop-color="#252d8d" stop-opacity=".13"/><stop offset=".005" stop-color="#252d8e" stop-opacity=".94"/><stop offset=".008" stop-color="#252d8e"/><stop offset=".129" stop-color="#2a3b9d"/><stop offset=".192" stop-color="#345abc"/><stop offset=".292" stop-color="#3358b9"/><stop offset=".392" stop-color="#345bbd"/><stop offset=".523" stop-color="#3560c0"/><stop offset=".62" stop-color="#3358ba"/><stop offset=".668" stop-color="#3772ce"/><stop offset=".726" stop-color="#3695df"/><stop offset=".78" stop-color="#3590d9"/><stop offset=".853" stop-color="#3669c7"/><stop offset=".968" stop-color="#3680d4"/><stop offset=".992" stop-color="#367cd1"/><stop offset=".995" stop-color="#367bd1" stop-opacity=".81"/><stop offset=".998" stop-color="#367bd0" stop-opacity=".06"/></linearGradient><linearGradient id="s207" gradientUnits="userSpaceOnUse" x1="261" x2="591"><stop offset=".002" stop-color="#252d8d" stop-opacity=".06"/><stop offset=".005" stop-color="#252d8e" stop-opacity=".81"/><stop offset=".008" stop-color="#252d8e"/><stop offset=".129" stop-color="#2a3a9d"/><stop offset=".192" stop-color="#3359bb"/><stop offset=".292" stop-color="#3358b9"/><stop offset=".395" stop-color="#345bbd"/><stop offset=".529" stop-color="#345ebe"/><stop offset=".623" stop-color="#3358bb"/><stop offset=".677" stop-color="#3774cf"/><stop offset=".738" stop-color="#3690dc"/><stop offset=".795" stop-color="#3583d3"/><stop offset=".853" stop-color="#3668c7"/><stop offset=".971" stop-color="#3680d4"/><stop offset=".992" stop-color="#367dd2"/><stop offset=".995" stop-color="#367cd2" stop-opacity=".87"/><stop offset=".998" stop-color="#367cd1" stop-opacity=".06"/></linearGradient><linearGradient id="s208" gradientUnits="userSpaceOnUse" x1="261" x2="590"><stop offset=".002" stop-color="#252d8e" stop-opacity=".75"/><stop offset=".005" stop-color="#252d8e"/><stop offset=".126" stop-color="#293a9c"/><stop offset=".193" stop-color="#345abc"/><stop offset=".388" stop-color="#345abc"/><stop offset=".518" stop-color="#345dbe"/><stop offset=".622" stop-color="#3358ba"/><stop offset=".701" stop-color="#377cd3"/><stop offset=".758" stop-color="#3689d7"/><stop offset=".856" stop-color="#3667c7"/><stop offset=".974" stop-color="#367fd4"/><stop offset=".992" stop-color="#367dd2"/><stop offset=".995" stop-color="#367cd2" stop-opacity=".94"/><stop offset=".998" stop-color="#367cd1" stop-opacity=".19"/></linearGradient><linearGradient id="s209" gradientUnits="userSpaceOnUse" x1="260" x2="589"><stop offset=".002" stop-color="#252d8d" stop-opacity=".63"/><stop offset=".005" stop-color="#252d8e"/><stop offset=".123" stop-color="#29389a"/><stop offset=".193" stop-color="#345abc"/><stop offset=".312" stop-color="#3256b7"/><stop offset=".5" stop-color="#345ebe"/><stop offset=".622" stop-color="#3357ba"/><stop offset=".743" stop-color="#3682d5"/><stop offset=".807" stop-color="#3674cb"/><stop offset=".856" stop-color="#3667c6"/><stop offset=".98" stop-color="#367ed3"/><stop offset=".995" stop-color="#367cd2"/><stop offset=".998" stop-color="#367cd1" stop-opacity=".31"/></linearGradient><linearGradient id="s210" gradientUnits="userSpaceOnUse" x1="259" x2="588"><stop offset=".002" stop-color="#252d8d" stop-opacity=".38"/><stop offset=".005" stop-color="#252d8e"/><stop offset=".123" stop-color="#29389a"/><stop offset=".193" stop-color="#3359bb"/><stop offset=".299" stop-color="#3257b8"/><stop offset=".409" stop-color="#345cbe"/><stop offset=".567" stop-color="#3356b8"/><stop offset=".643" stop-color="#345dbe"/><stop offset=".755" stop-color="#367cd1"/><stop offset=".856" stop-color="#3666c6"/><stop offset=".983" stop-color="#367dd3"/><stop offset=".995" stop-color="#367cd2"/><stop offset=".998" stop-color="#367bd1" stop-opacity=".56"/></linearGradient><linearGradient id="s211" gradientUnits="userSpaceOnUse" x1="258" x2="587"><stop offset=".002" stop-color="#252d8c" stop-opacity=".38"/><stop offset=".005" stop-color="#252d8e"/><stop offset=".123" stop-color="#293799"/><stop offset=".193" stop-color="#3359bb"/><stop offset=".296" stop-color="#3357b8"/><stop offset=".406" stop-color="#345bbd"/><stop offset=".555" stop-color="#3356b8"/><stop offset=".637" stop-color="#345abc"/><stop offset=".761" stop-color="#3676ce"/><stop offset=".859" stop-color="#3665c5"/><stop offset=".989" stop-color="#367bd2"/><stop offset=".995" stop-color="#367ad1"/><stop offset=".998" stop-color="#367ad1" stop-opacity=".81"/></linearGradient><linearGradient id="s212" gradientUnits="userSpaceOnUse" x1="257" x2="587"><stop offset=".002" stop-color="#252d8c" stop-opacity=".19"/><stop offset=".005" stop-color="#252d8d"/><stop offset=".126" stop-color="#29389a"/><stop offset=".192" stop-color="#3359bb"/><stop offset=".295" stop-color="#3257b8"/><stop offset=".405" stop-color="#345bbc"/><stop offset=".562" stop-color="#3255b7"/><stop offset=".644" stop-color="#345cbe"/><stop offset=".771" stop-color="#366fca"/><stop offset=".868" stop-color="#3665c5"/><stop offset=".989" stop-color="#3779d1"/><stop offset=".995" stop-color="#3679d0"/><stop offset=".998" stop-color="#3679d0" stop-opacity=".19"/></linearGradient><linearGradient id="s213" gradientUnits="userSpaceOnUse" x1="256" x2="586"><stop offset=".002" stop-color="#242d8c" stop-opacity=".06"/><stop offset=".005" stop-color="#242d8d" stop-opacity=".94"/><stop offset=".008" stop-color="#252d8d"/><stop offset=".126" stop-color="#29389a"/><stop offset=".192" stop-color="#3359bb"/><stop offset=".292" stop-color="#3357b8"/><stop offset=".408" stop-color="#345abc"/><stop offset=".626" stop-color="#3357ba"/><stop offset=".756" stop-color="#366bc8"/><stop offset=".883" stop-color="#3666c6"/><stop offset=".995" stop-color="#3777cf"/><stop offset=".998" stop-color="#3676cf" stop-opacity=".5"/></linearGradient><linearGradient id="s214" gradientUnits="userSpaceOnUse" x1="255" x2="585"><stop offset=".002" stop-color="#242d8c" stop-opacity=".06"/><stop offset=".005" stop-color="#242d8d" stop-opacity=".81"/><stop offset=".008" stop-color="#242d8d"/><stop offset=".126" stop-color="#293799"/><stop offset=".195" stop-color="#345abc"/><stop offset=".305" stop-color="#3256b7"/><stop offset=".511" stop-color="#3359ba"/><stop offset=".626" stop-color="#3356b9"/><stop offset=".741" stop-color="#3667c6"/><stop offset=".895" stop-color="#3667c7"/><stop offset=".995" stop-color="#3774ce"/><stop offset=".998" stop-color="#3774cf" stop-opacity=".81"/></linearGradient><linearGradient id="s215" gradientUnits="userSpaceOnUse" x1="255" x2="585"><stop offset=".002" stop-color="#242d8d" stop-opacity=".81"/><stop offset=".005" stop-color="#242d8d"/><stop offset=".123" stop-color="#283799"/><stop offset=".192" stop-color="#3359bb"/><stop offset=".292" stop-color="#3257b8"/><stop offset=".414" stop-color="#345abc"/><stop offset=".623" stop-color="#3356b9"/><stop offset=".738" stop-color="#3665c4"/><stop offset=".892" stop-color="#3665c6"/><stop offset=".995" stop-color="#3772cd"/><stop offset=".998" stop-color="#3772cd" stop-opacity=".19"/></linearGradient><linearGradient id="s216" gradientUnits="userSpaceOnUse" x1="254" x2="584"><stop offset=".002" stop-color="#242d8c" stop-opacity=".63"/><stop offset=".005" stop-color="#242d8d"/><stop offset=".123" stop-color="#283799"/><stop offset=".192" stop-color="#3359bb"/><stop offset=".198" stop-color="#345bbc"/><stop offset=".202" stop-color="#345bbd" stop-opacity=".81"/><stop offset=".205" stop-color="#345cbd" stop-opacity=".75"/><stop offset=".22" stop-color="#345dbe" stop-opacity=".75"/><stop offset=".226" stop-color="#345dbe"/><stop offset=".38" stop-color="#3356b9"/><stop offset=".517" stop-color="#3357b8"/><stop offset=".629" stop-color="#3357b9"/><stop offset=".741" stop-color="#3563c3"/><stop offset=".898" stop-color="#3665c5"/><stop offset=".995" stop-color="#3770cc"/><stop offset=".998" stop-color="#376fcb" stop-opacity=".5"/></linearGradient><linearGradient id="s217" gradientUnits="userSpaceOnUse" x1="253" x2="319"><stop offset=".008" stop-color="#242d8c" stop-opacity=".44"/><stop offset=".023" stop-color="#242d8d"/><stop offset=".614" stop-color="#283799"/><stop offset=".917" stop-color="#3356b9"/><stop offset=".932" stop-color="#3357ba" stop-opacity=".87"/><stop offset=".947" stop-color="#3357b9" stop-opacity=".63"/><stop offset=".992" stop-color="#345abb" stop-opacity=".06"/></linearGradient><linearGradient id="s218" gradientUnits="userSpaceOnUse" x1="329" x2="584"><stop offset=".002" stop-color="#345dbd" stop-opacity=".13"/><stop offset=".006" stop-color="#345dbc" stop-opacity=".31"/><stop offset=".01" stop-color="#345cbc" stop-opacity=".56"/><stop offset=".014" stop-color="#345cbd" stop-opacity=".75"/><stop offset=".018" stop-color="#345cbd"/><stop offset=".194" stop-color="#3356b8"/><stop offset=".359" stop-color="#3357b8"/><stop offset=".512" stop-color="#3356b9"/><stop offset=".653" stop-color="#3562c2"/><stop offset=".869" stop-color="#3664c5"/><stop offset=".99" stop-color="#376dca"/><stop offset=".994" stop-color="#376dca" stop-opacity=".94"/><stop offset=".998" stop-color="#376eca" stop-opacity=".06"/></linearGradient><linearGradient id="s219" gradientUnits="userSpaceOnUse" x1="252" x2="314"><stop offset=".008" stop-color="#242d8c" stop-opacity=".38"/><stop offset=".024" stop-color="#242d8d"/><stop offset=".653" stop-color="#283698"/><stop offset=".927" stop-color="#3252b6"/><stop offset=".96" stop-color="#3254b7" stop-opacity=".63"/><stop offset=".976" stop-color="#3355b7" stop-opacity=".31"/><stop offset=".992" stop-color="#3356b8" stop-opacity=".06"/></linearGradient><linearGradient id="s220" gradientUnits="userSpaceOnUse" x1="333" x2="583"><stop offset=".002" stop-color="#345cbb" stop-opacity=".06"/><stop offset=".014" stop-color="#335bbb"/><stop offset=".182" stop-color="#3356b8"/><stop offset=".37" stop-color="#3255b7"/><stop offset=".51" stop-color="#3356b9"/><stop offset=".65" stop-color="#3561c1"/><stop offset=".87" stop-color="#3663c4"/><stop offset=".994" stop-color="#376ac9"/><stop offset=".998" stop-color="#376ac8" stop-opacity=".31"/></linearGradient><linearGradient id="s221" gradientUnits="userSpaceOnUse" x1="251" x2="310"><stop offset=".008" stop-color="#242c8c" stop-opacity=".19"/><stop offset=".025" stop-color="#242d8d" stop-opacity=".94"/><stop offset=".042" stop-color="#242d8d"/><stop offset=".703" stop-color="#293799"/><stop offset=".924" stop-color="#314db1"/><stop offset=".941" stop-color="#314fb3" stop-opacity=".94"/><stop offset=".958" stop-color="#3250b4" stop-opacity=".63"/><stop offset=".975" stop-color="#3251b4" stop-opacity=".44"/><stop offset=".992" stop-color="#3252b5" stop-opacity=".13"/></linearGradient><linearGradient id="s222" gradientUnits="userSpaceOnUse" x1="336" x2="582"><stop offset=".002" stop-color="#335bba" stop-opacity=".06"/><stop offset=".006" stop-color="#335aba" stop-opacity=".38"/><stop offset=".01" stop-color="#335abb" stop-opacity=".75"/><stop offset=".014" stop-color="#3359ba"/><stop offset=".181" stop-color="#3356b9"/><stop offset=".372" stop-color="#3254b6"/><stop offset=".51" stop-color="#3357ba"/><stop offset=".661" stop-color="#345fbf"/><stop offset=".88" stop-color="#3663c3"/><stop offset=".994" stop-color="#3768c7"/><stop offset=".998" stop-color="#3768c8" stop-opacity=".75"/></linearGradient><linearGradient id="s223" gradientUnits="userSpaceOnUse" x1="250" x2="306"><stop offset=".009" stop-color="#242c8c" stop-opacity=".13"/><stop offset=".027" stop-color="#242c8d" stop-opacity=".94"/><stop offset=".045" stop-color="#242d8d"/><stop offset=".741" stop-color="#283799"/><stop offset=".938" stop-color="#2f48ac"/><stop offset=".955" stop-color="#304aae" stop-opacity=".81"/><stop offset=".973" stop-color="#304baf" stop-opacity=".56"/><stop offset=".991" stop-color="#314db1" stop-opacity=".25"/></linearGradient><linearGradient id="s224" gradientUnits="userSpaceOnUse" x1="339" x2="582"><stop offset=".002" stop-color="#3359b9" stop-opacity=".19"/><stop offset=".006" stop-color="#3359b9" stop-opacity=".63"/><stop offset=".01" stop-color="#3358b9" stop-opacity=".94"/><stop offset=".014" stop-color="#3358b9"/><stop offset=".195" stop-color="#3358bb"/><stop offset=".484" stop-color="#3254b7"/><stop offset=".632" stop-color="#345fbf"/><stop offset=".866" stop-color="#3561c2"/><stop offset=".994" stop-color="#3667c6"/><stop offset=".998" stop-color="#3667c6" stop-opacity=".19"/></linearGradient><linearGradient id="s225" gradientUnits="userSpaceOnUse" x1="251" x2="303"><stop offset=".01" stop-color="#242d8c" stop-opacity=".06"/><stop offset=".029" stop-color="#242d8c" stop-opacity=".25"/><stop offset=".048" stop-color="#242d8c" stop-opacity=".25"/><stop offset=".067" stop-color="#242d8c" stop-opacity=".5"/><stop offset=".087" stop-color="#242d8c" stop-opacity=".5"/><stop offset=".106" stop-color="#242d8d" stop-opacity=".75"/><stop offset=".125" stop-color="#242d8d" stop-opacity=".75"/><stop offset=".144" stop-color="#252d8d" stop-opacity=".94"/><stop offset=".163" stop-color="#252d8d"/><stop offset=".798" stop-color="#29399b"/><stop offset=".913" stop-color="#2d42a5"/><stop offset=".933" stop-color="#2d44a7" stop-opacity=".81"/><stop offset=".952" stop-color="#2e45a8" stop-opacity=".56"/><stop offset=".971" stop-color="#2e47aa" stop-opacity=".25"/><stop offset=".99" stop-color="#2f48ab" stop-opacity=".06"/></linearGradient><linearGradient id="s226" gradientUnits="userSpaceOnUse" x1="341" x2="581"><stop offset=".002" stop-color="#3358b8" stop-opacity=".06"/><stop offset=".006" stop-color="#3358b8" stop-opacity=".38"/><stop offset=".01" stop-color="#3357b8" stop-opacity=".81"/><stop offset=".015" stop-color="#3357b8"/><stop offset=".194" stop-color="#3358bb"/><stop offset=".473" stop-color="#3253b7"/><stop offset=".623" stop-color="#345ebf"/><stop offset=".869" stop-color="#3560c1"/><stop offset=".994" stop-color="#3666c5"/><stop offset=".998" stop-color="#3665c5" stop-opacity=".63"/></linearGradient><linearGradient id="s227" gradientUnits="userSpaceOnUse" x1="260" x2="298"><stop offset=".013" stop-color="#252d8d" stop-opacity=".06"/><stop offset=".039" stop-color="#252d8d" stop-opacity=".25"/><stop offset=".066" stop-color="#252d8d" stop-opacity=".25"/><stop offset=".092" stop-color="#252d8d" stop-opacity=".5"/><stop offset=".118" stop-color="#252d8d" stop-opacity=".5"/><stop offset=".145" stop-color="#252d8e" stop-opacity=".69"/><stop offset=".171" stop-color="#252d8e" stop-opacity=".75"/><stop offset=".197" stop-color="#252d8e" stop-opacity=".75"/><stop offset=".224" stop-color="#252d8e"/><stop offset=".855" stop-color="#293a9c"/><stop offset=".882" stop-color="#2a3b9e" stop-opacity=".94"/><stop offset=".934" stop-color="#2b3ea0" stop-opacity=".56"/><stop offset=".961" stop-color="#2c3fa1" stop-opacity=".44"/><stop offset=".987" stop-color="#2c41a3" stop-opacity=".25"/></linearGradient><linearGradient id="s228" gradientUnits="userSpaceOnUse" x1="344" x2="581"><stop offset=".002" stop-color="#3357b7" stop-opacity=".31"/><stop offset=".006" stop-color="#3256b8" stop-opacity=".69"/><stop offset=".011" stop-color="#3256b7"/><stop offset=".323" stop-color="#3253b6"/><stop offset=".479" stop-color="#3355b8"/><stop offset=".631" stop-color="#345dbd"/><stop offset=".871" stop-color="#355fc0"/><stop offset=".989" stop-color="#3664c4"/><stop offset=".994" stop-color="#3664c5" stop-opacity=".94"/><stop offset=".998" stop-color="#3665c4" stop-opacity=".13"/></linearGradient><linearGradient id="s229" gradientUnits="userSpaceOnUse" x1="270" x2="293"><stop offset=".022" stop-color="#252e8e" stop-opacity=".13"/><stop offset=".065" stop-color="#252e8e" stop-opacity=".25"/><stop offset=".152" stop-color="#252e8e" stop-opacity=".25"/><stop offset=".196" stop-color="#252f8f" stop-opacity=".5"/><stop offset=".326" stop-color="#262f90" stop-opacity=".5"/><stop offset=".413" stop-color="#263092" stop-opacity=".75"/><stop offset=".674" stop-color="#273495" stop-opacity=".75"/><stop offset=".717" stop-color="#273495" stop-opacity=".56"/><stop offset=".761" stop-color="#283596" stop-opacity=".5"/><stop offset=".848" stop-color="#283798" stop-opacity=".5"/><stop offset=".891" stop-color="#29389a" stop-opacity=".25"/><stop offset=".935" stop-color="#29399b" stop-opacity=".25"/><stop offset=".978" stop-color="#293a9b" stop-opacity=".06"/></linearGradient><linearGradient id="s230" gradientUnits="userSpaceOnUse" x1="346" x2="580"><stop offset=".002" stop-color="#3256b6" stop-opacity=".06"/><stop offset=".011" stop-color="#3255b7" stop-opacity=".94"/><stop offset=".015" stop-color="#3255b6"/><stop offset=".323" stop-color="#3253b5"/><stop offset=".476" stop-color="#3355b8"/><stop offset=".63" stop-color="#345cbd"/><stop offset=".874" stop-color="#345ebf"/><stop offset=".994" stop-color="#3563c3"/><stop offset=".998" stop-color="#3562c3" stop-opacity=".5"/></linearGradient><linearGradient id="s231" gradientUnits="userSpaceOnUse" x1="349" x2="580"><stop offset=".002" stop-color="#3254b5" stop-opacity=".31"/><stop offset=".006" stop-color="#3254b6" stop-opacity=".69"/><stop offset=".011" stop-color="#3254b6"/><stop offset=".301" stop-color="#3253b5"/><stop offset=".461" stop-color="#3254b7"/><stop offset=".617" stop-color="#345bbc"/><stop offset=".868" stop-color="#345cbe"/><stop offset=".989" stop-color="#3562c2"/><stop offset=".994" stop-color="#3562c2" stop-opacity=".87"/><stop offset=".998" stop-color="#3562c2" stop-opacity=".06"/></linearGradient><linearGradient id="s232" gradientUnits="userSpaceOnUse" x1="351" x2="579"><stop offset=".002" stop-color="#3254b5" stop-opacity=".06"/><stop offset=".015" stop-color="#3253b5"/><stop offset=".283" stop-color="#3253b5"/><stop offset=".45" stop-color="#3253b7"/><stop offset=".607" stop-color="#345bbc"/><stop offset=".866" stop-color="#345bbd"/><stop offset=".993" stop-color="#3560c1"/><stop offset=".998" stop-color="#3560c1" stop-opacity=".38"/></linearGradient><linearGradient id="s233" gradientUnits="userSpaceOnUse" x1="354" x2="578"><stop offset=".002" stop-color="#3253b4" stop-opacity=".06"/><stop offset=".007" stop-color="#3253b4" stop-opacity=".38"/><stop offset=".011" stop-color="#3253b4" stop-opacity=".56"/><stop offset=".016" stop-color="#3252b5" stop-opacity=".81"/><stop offset=".02" stop-color="#3252b5"/><stop offset=".252" stop-color="#3254b6"/><stop offset=".435" stop-color="#3252b6"/><stop offset=".592" stop-color="#335bbc"/><stop offset=".864" stop-color="#345abc"/><stop offset=".993" stop-color="#355fc0"/><stop offset=".998" stop-color="#355fc1" stop-opacity=".75"/></linearGradient><linearGradient id="s234" gradientUnits="userSpaceOnUse" x1="359" x2="578"><stop offset=".002" stop-color="#3252b4" stop-opacity=".25"/><stop offset=".007" stop-color="#3252b4" stop-opacity=".44"/><stop offset=".011" stop-color="#3252b4" stop-opacity=".5"/><stop offset=".016" stop-color="#3252b6" stop-opacity=".75"/><stop offset=".021" stop-color="#3252b6" stop-opacity=".75"/><stop offset=".025" stop-color="#3253b6" stop-opacity=".94"/><stop offset=".03" stop-color="#3253b6"/><stop offset=".075" stop-color="#3355b8"/><stop offset=".084" stop-color="#3356b9" stop-opacity=".75"/><stop offset=".112" stop-color="#3357ba" stop-opacity=".75"/><stop offset=".116" stop-color="#3357ba" stop-opacity=".94"/><stop offset=".121" stop-color="#3357ba"/><stop offset=".404" stop-color="#3251b4"/><stop offset=".578" stop-color="#335abb"/><stop offset=".861" stop-color="#3358bb"/><stop offset=".993" stop-color="#345ebf"/><stop offset=".998" stop-color="#345ebf" stop-opacity=".25"/></linearGradient><linearGradient id="s235" gradientUnits="userSpaceOnUse" x1="387" x2="577"><stop offset=".003" stop-color="#3357b9" stop-opacity=".19"/><stop offset=".008" stop-color="#3357b8" stop-opacity=".25"/><stop offset=".018" stop-color="#3357b8" stop-opacity=".5"/><stop offset=".024" stop-color="#3357b9" stop-opacity=".69"/><stop offset=".029" stop-color="#3357b9" stop-opacity=".94"/><stop offset=".034" stop-color="#3357b9"/><stop offset=".313" stop-color="#3250b4"/><stop offset=".508" stop-color="#335abb"/><stop offset=".839" stop-color="#3357ba"/><stop offset=".992" stop-color="#345cbe"/><stop offset=".997" stop-color="#345cbd" stop-opacity=".63"/></linearGradient><linearGradient id="s236" gradientUnits="userSpaceOnUse" x1="393" x2="577"><stop offset=".003" stop-color="#3356b8" stop-opacity=".13"/><stop offset=".008" stop-color="#3356b7" stop-opacity=".38"/><stop offset=".014" stop-color="#3356b7" stop-opacity=".56"/><stop offset=".019" stop-color="#3356b8" stop-opacity=".87"/><stop offset=".024" stop-color="#3256b8"/><stop offset=".285" stop-color="#3250b4"/><stop offset=".486" stop-color="#3359ba"/><stop offset=".834" stop-color="#3356b9"/><stop offset=".986" stop-color="#345bbd"/><stop offset=".992" stop-color="#345bbd" stop-opacity=".94"/><stop offset=".997" stop-color="#345bbc" stop-opacity=".13"/></linearGradient><linearGradient id="s237" gradientUnits="userSpaceOnUse" x1="397" x2="576"><stop offset=".003" stop-color="#3255b6" stop-opacity=".19"/><stop offset=".008" stop-color="#3255b6" stop-opacity=".5"/><stop offset=".02" stop-color="#3254b7"/><stop offset=".271" stop-color="#3250b4"/><stop offset=".478" stop-color="#3358ba"/><stop offset=".835" stop-color="#3355b8"/><stop offset=".992" stop-color="#345abc"/><stop offset=".997" stop-color="#3459bb" stop-opacity=".5"/></linearGradient><linearGradient id="s238" gradientUnits="userSpaceOnUse" x1="400" x2="576"><stop offset=".003" stop-color="#3254b5" stop-opacity=".06"/><stop offset=".014" stop-color="#3254b6" stop-opacity=".81"/><stop offset=".02" stop-color="#3253b5"/><stop offset=".247" stop-color="#314fb3"/><stop offset=".457" stop-color="#3358ba"/><stop offset=".827" stop-color="#3354b7"/><stop offset=".986" stop-color="#3358bb"/><stop offset=".991" stop-color="#3358bb" stop-opacity=".87"/><stop offset=".997" stop-color="#3459ba" stop-opacity=".06"/></linearGradient><linearGradient id="s239" gradientUnits="userSpaceOnUse" x1="403" x2="575"><stop offset=".003" stop-color="#3253b4" stop-opacity=".13"/><stop offset=".009" stop-color="#3252b4" stop-opacity=".44"/><stop offset=".015" stop-color="#3252b5" stop-opacity=".81"/><stop offset=".02" stop-color="#3252b4"/><stop offset=".235" stop-color="#3250b4"/><stop offset=".451" stop-color="#3358b9"/><stop offset=".823" stop-color="#3253b6"/><stop offset=".991" stop-color="#3357ba"/><stop offset=".997" stop-color="#3357b9" stop-opacity=".31"/></linearGradient><linearGradient id="s240" gradientUnits="userSpaceOnUse" x1="406" x2="574"><stop offset=".003" stop-color="#3251b3" stop-opacity=".31"/><stop offset=".015" stop-color="#3151b4" stop-opacity=".94"/><stop offset=".021" stop-color="#3151b3"/><stop offset=".229" stop-color="#3250b4"/><stop offset=".443" stop-color="#3357b9"/><stop offset=".83" stop-color="#3252b6"/><stop offset=".991" stop-color="#3356b9"/><stop offset=".997" stop-color="#3356b9" stop-opacity=".75"/></linearGradient><linearGradient id="s241" gradientUnits="userSpaceOnUse" x1="409" x2="574"><stop offset=".003" stop-color="#3150b2" stop-opacity=".38"/><stop offset=".015" stop-color="#3150b3"/><stop offset=".209" stop-color="#3250b4"/><stop offset=".433" stop-color="#3357b8"/><stop offset=".815" stop-color="#3251b5"/><stop offset=".991" stop-color="#3355b8"/><stop offset=".997" stop-color="#3355b7" stop-opacity=".19"/></linearGradient><linearGradient id="s242" gradientUnits="userSpaceOnUse" x1="411" x2="573"><stop offset=".003" stop-color="#314fb1" stop-opacity=".06"/><stop offset=".022" stop-color="#314eb2"/><stop offset=".213" stop-color="#3251b5"/><stop offset=".435" stop-color="#3256b7"/><stop offset=".806" stop-color="#3250b4"/><stop offset=".991" stop-color="#3254b7"/><stop offset=".997" stop-color="#3253b6" stop-opacity=".5"/></linearGradient><linearGradient id="s243" gradientUnits="userSpaceOnUse" x1="414" x2="573"><stop offset=".003" stop-color="#314eb0" stop-opacity=".06"/><stop offset=".009" stop-color="#314db0" stop-opacity=".31"/><stop offset=".022" stop-color="#304db0" stop-opacity=".94"/><stop offset=".028" stop-color="#304cb0"/><stop offset=".248" stop-color="#3355b8"/><stop offset=".255" stop-color="#3356b9"/><stop offset=".261" stop-color="#3356b9" stop-opacity=".75"/><stop offset=".28" stop-color="#3357ba" stop-opacity=".75"/><stop offset=".286" stop-color="#3357b9" stop-opacity=".56"/><stop offset=".292" stop-color="#3358b9" stop-opacity=".56"/><stop offset=".299" stop-color="#3358ba" stop-opacity=".75"/><stop offset=".318" stop-color="#3358ba" stop-opacity=".75"/><stop offset=".324" stop-color="#3358ba"/><stop offset=".789" stop-color="#314eb2"/><stop offset=".984" stop-color="#3252b6"/><stop offset=".991" stop-color="#3253b6" stop-opacity=".87"/><stop offset=".997" stop-color="#3253b6" stop-opacity=".06"/></linearGradient><linearGradient id="s244" gradientUnits="userSpaceOnUse" x1="418" x2="453"><stop offset=".014" stop-color="#304cae" stop-opacity=".19"/><stop offset=".043" stop-color="#304cae" stop-opacity=".5"/><stop offset=".071" stop-color="#304baf" stop-opacity=".69"/><stop offset=".1" stop-color="#304bae"/><stop offset=".814" stop-color="#3252b6"/><stop offset=".843" stop-color="#3253b6" stop-opacity=".75"/><stop offset=".871" stop-color="#3253b7" stop-opacity=".69"/><stop offset=".929" stop-color="#3254b7" stop-opacity=".31"/><stop offset=".957" stop-color="#3354b7" stop-opacity=".25"/><stop offset=".986" stop-color="#3355b7" stop-opacity=".06"/></linearGradient><linearGradient id="s245" gradientUnits="userSpaceOnUse" x1="467" x2="572"><stop offset=".005" stop-color="#3358b9" stop-opacity=".25"/><stop offset=".014" stop-color="#3358b9" stop-opacity=".38"/><stop offset=".024" stop-color="#3357b8" stop-opacity=".63"/><stop offset=".043" stop-color="#3357b9"/><stop offset=".69" stop-color="#304db0"/><stop offset=".986" stop-color="#3251b5"/><stop offset=".995" stop-color="#3251b5" stop-opacity=".31"/></linearGradient><linearGradient id="s246" gradientUnits="userSpaceOnUse" x1="422" x2="446"><stop offset=".021" stop-color="#304bad" stop-opacity=".13"/><stop offset=".146" stop-color="#304aae" stop-opacity=".69"/><stop offset=".188" stop-color="#304aae" stop-opacity=".75"/><stop offset=".229" stop-color="#304aae"/><stop offset=".688" stop-color="#314eb2"/><stop offset=".729" stop-color="#314fb3" stop-opacity=".81"/><stop offset=".771" stop-color="#3250b4" stop-opacity=".75"/><stop offset=".938" stop-color="#3251b4" stop-opacity=".25"/><stop offset=".979" stop-color="#3252b5" stop-opacity=".06"/></linearGradient><linearGradient id="s247" gradientUnits="userSpaceOnUse" x1="471" x2="571"><stop offset=".005" stop-color="#3357b8" stop-opacity=".06"/><stop offset=".015" stop-color="#3357b7" stop-opacity=".31"/><stop offset=".035" stop-color="#3356b8" stop-opacity=".94"/><stop offset=".045" stop-color="#3256b8"/><stop offset=".675" stop-color="#304baf"/><stop offset=".985" stop-color="#3250b4"/><stop offset=".995" stop-color="#3250b4" stop-opacity=".69"/></linearGradient><linearGradient id="s248" gradientUnits="userSpaceOnUse" x1="430" x2="436"><stop offset=".083" stop-color="#304bae" stop-opacity=".19"/><stop offset=".25" stop-color="#304bae" stop-opacity=".25"/><stop offset=".75" stop-color="#304caf" stop-opacity=".25"/><stop offset=".917" stop-color="#304cb0" stop-opacity=".19"/></linearGradient><linearGradient id="s249" gradientUnits="userSpaceOnUse" x1="475" x2="571"><stop offset=".005" stop-color="#3255b6" stop-opacity=".19"/><stop offset=".026" stop-color="#3255b7" stop-opacity=".94"/><stop offset=".036" stop-color="#3255b6"/><stop offset=".672" stop-color="#304bae"/><stop offset=".974" stop-color="#314fb4"/><stop offset=".984" stop-color="#314fb4" stop-opacity=".94"/><stop offset=".995" stop-color="#3250b3" stop-opacity=".06"/></linearGradient><linearGradient id="s250" gradientUnits="userSpaceOnUse" x1="478" x2="570"><stop offset=".005" stop-color="#3254b5" stop-opacity=".31"/><stop offset=".027" stop-color="#3253b6" stop-opacity=".94"/><stop offset=".038" stop-color="#3253b5"/><stop offset=".679" stop-color="#2f4aad"/><stop offset=".984" stop-color="#314eb2"/><stop offset=".995" stop-color="#314eb1" stop-opacity=".31"/></linearGradient><linearGradient id="s251" gradientUnits="userSpaceOnUse" x1="480" x2="569"><stop offset=".006" stop-color="#3253b4" stop-opacity=".06"/><stop offset=".017" stop-color="#3253b4" stop-opacity=".38"/><stop offset=".028" stop-color="#3252b5" stop-opacity=".81"/><stop offset=".039" stop-color="#3252b4"/><stop offset=".68" stop-color="#2f49ac"/><stop offset=".983" stop-color="#304cb0"/><stop offset=".994" stop-color="#304db1" stop-opacity=".75"/></linearGradient><linearGradient id="s252" gradientUnits="userSpaceOnUse" x1="483" x2="569"><stop offset=".006" stop-color="#3252b3" stop-opacity=".19"/><stop offset=".017" stop-color="#3151b3" stop-opacity=".63"/><stop offset=".029" stop-color="#3151b3" stop-opacity=".94"/><stop offset=".041" stop-color="#3151b3"/><stop offset=".669" stop-color="#2f48ab"/><stop offset=".971" stop-color="#304baf"/><stop offset=".983" stop-color="#304baf" stop-opacity=".94"/><stop offset=".994" stop-color="#304cae" stop-opacity=".13"/></linearGradient><linearGradient id="s253" gradientUnits="userSpaceOnUse" x1="485" x2="568"><stop offset=".006" stop-color="#3151b2" stop-opacity=".06"/><stop offset=".018" stop-color="#3150b2" stop-opacity=".38"/><stop offset=".03" stop-color="#3150b3" stop-opacity=".81"/><stop offset=".042" stop-color="#3150b2"/><stop offset=".693" stop-color="#2e47ab"/><stop offset=".982" stop-color="#2f4aae"/><stop offset=".994" stop-color="#304aad" stop-opacity=".31"/></linearGradient><linearGradient id="s254" gradientUnits="userSpaceOnUse" x1="488" x2="567"><stop offset=".006" stop-color="#314fb1" stop-opacity=".19"/><stop offset=".019" stop-color="#314fb1" stop-opacity=".63"/><stop offset=".032" stop-color="#314eb1" stop-opacity=".94"/><stop offset=".044" stop-color="#314eb1"/><stop offset=".703" stop-color="#2e47aa"/><stop offset=".981" stop-color="#2f49ac"/><stop offset=".994" stop-color="#2f49ac" stop-opacity=".63"/></linearGradient><linearGradient id="s255" gradientUnits="userSpaceOnUse" x1="491" x2="567"><stop offset=".007" stop-color="#304db0" stop-opacity=".38"/><stop offset=".033" stop-color="#304caf"/><stop offset=".77" stop-color="#2e47aa"/><stop offset=".967" stop-color="#2f48ab"/><stop offset=".98" stop-color="#2f48ab" stop-opacity=".87"/><stop offset=".993" stop-color="#2f48ab" stop-opacity=".06"/></linearGradient><linearGradient id="s256" gradientUnits="userSpaceOnUse" x1="493" x2="566"><stop offset=".007" stop-color="#304cad" stop-opacity=".06"/><stop offset=".034" stop-color="#304bae" stop-opacity=".81"/><stop offset=".048" stop-color="#2f4aad"/><stop offset=".979" stop-color="#2e47aa"/><stop offset=".993" stop-color="#2e47aa" stop-opacity=".25"/></linearGradient><linearGradient id="s257" gradientUnits="userSpaceOnUse" x1="496" x2="565"><stop offset=".007" stop-color="#2f4aac" stop-opacity=".13"/><stop offset=".022" stop-color="#2f49ab" stop-opacity=".44"/><stop offset=".036" stop-color="#2f49ac" stop-opacity=".81"/><stop offset=".051" stop-color="#2f48ab"/><stop offset=".978" stop-color="#2e46a9"/><stop offset=".993" stop-color="#2e46a9" stop-opacity=".44"/></linearGradient><linearGradient id="s258" gradientUnits="userSpaceOnUse" x1="499" x2="564"><stop offset=".008" stop-color="#2f48aa" stop-opacity=".13"/><stop offset=".038" stop-color="#2e47a9" stop-opacity=".63"/><stop offset=".054" stop-color="#2e47aa" stop-opacity=".94"/><stop offset=".069" stop-color="#2e47a9"/><stop offset=".977" stop-color="#2e45a8"/><stop offset=".992" stop-color="#2e46a9" stop-opacity=".75"/></linearGradient><linearGradient id="s259" gradientUnits="userSpaceOnUse" x1="503" x2="564"><stop offset=".008" stop-color="#2e46a8" stop-opacity=".19"/><stop offset=".025" stop-color="#2e46a8" stop-opacity=".5"/><stop offset=".041" stop-color="#2e46a8" stop-opacity=".69"/><stop offset=".057" stop-color="#2e45a8" stop-opacity=".94"/><stop offset=".074" stop-color="#2e45a8"/><stop offset=".959" stop-color="#2d45a8"/><stop offset=".975" stop-color="#2e45a8" stop-opacity=".94"/><stop offset=".992" stop-color="#2e45a7" stop-opacity=".06"/></linearGradient><linearGradient id="s260" gradientUnits="userSpaceOnUse" x1="507" x2="563"><stop offset=".009" stop-color="#2d45a7" stop-opacity=".25"/><stop offset=".045" stop-color="#2d44a6" stop-opacity=".63"/><stop offset=".062" stop-color="#2d44a7" stop-opacity=".75"/><stop offset=".08" stop-color="#2d44a7"/><stop offset=".973" stop-color="#2d44a7"/><stop offset=".991" stop-color="#2d44a6" stop-opacity=".19"/></linearGradient><linearGradient id="s261" gradientUnits="userSpaceOnUse" x1="512" x2="562"><stop offset=".01" stop-color="#2d44a5" stop-opacity=".25"/><stop offset=".03" stop-color="#2d43a5" stop-opacity=".38"/><stop offset=".09" stop-color="#2d43a6" stop-opacity=".94"/><stop offset=".11" stop-color="#2d43a6"/><stop offset=".97" stop-color="#2d44a7"/><stop offset=".99" stop-color="#2d44a6" stop-opacity=".5"/></linearGradient><linearGradient id="s262" gradientUnits="userSpaceOnUse" x1="517" x2="561"><stop offset=".011" stop-color="#2d43a4" stop-opacity=".06"/><stop offset=".034" stop-color="#2d43a4" stop-opacity=".25"/><stop offset=".057" stop-color="#2d43a4" stop-opacity=".31"/><stop offset=".102" stop-color="#2d43a5" stop-opacity=".69"/><stop offset=".125" stop-color="#2d43a5" stop-opacity=".75"/><stop offset=".148" stop-color="#2d42a5" stop-opacity=".94"/><stop offset=".17" stop-color="#2d42a5"/><stop offset=".966" stop-color="#2d43a6"/><stop offset=".989" stop-color="#2d43a5" stop-opacity=".69"/></linearGradient><linearGradient id="s263" gradientUnits="userSpaceOnUse" x1="525" x2="561"><stop offset=".014" stop-color="#2d42a4" stop-opacity=".25"/><stop offset=".042" stop-color="#2d42a4" stop-opacity=".31"/><stop offset=".069" stop-color="#2d42a4" stop-opacity=".5"/><stop offset=".097" stop-color="#2d42a4" stop-opacity=".5"/><stop offset=".125" stop-color="#2d42a5" stop-opacity=".75"/><stop offset=".153" stop-color="#2d42a5" stop-opacity=".81"/><stop offset=".181" stop-color="#2d42a5"/><stop offset=".931" stop-color="#2d43a6"/><stop offset=".958" stop-color="#2d43a6" stop-opacity=".81"/><stop offset=".986" stop-color="#2d43a5" stop-opacity=".06"/></linearGradient><linearGradient id="s264" gradientUnits="userSpaceOnUse" x1="532" x2="560"><stop offset=".018" stop-color="#2d42a4" stop-opacity=".06"/><stop offset=".054" stop-color="#2d42a4" stop-opacity=".25"/><stop offset=".089" stop-color="#2d42a4" stop-opacity=".31"/><stop offset=".125" stop-color="#2d42a4" stop-opacity=".5"/><stop offset=".161" stop-color="#2c42a4" stop-opacity=".5"/><stop offset=".196" stop-color="#2c42a5" stop-opacity=".75"/><stop offset=".232" stop-color="#2d42a5" stop-opacity=".75"/><stop offset=".268" stop-color="#2d42a5"/><stop offset=".911" stop-color="#2d43a5"/><stop offset=".946" stop-color="#2d43a5" stop-opacity=".94"/><stop offset=".982" stop-color="#2d43a4" stop-opacity=".19"/></linearGradient><linearGradient id="s265" gradientUnits="userSpaceOnUse" x1="541" x2="559"><stop offset=".028" stop-color="#2c42a4" stop-opacity=".19"/><stop offset=".083" stop-color="#2c42a4" stop-opacity=".25"/><stop offset=".139" stop-color="#2c42a4" stop-opacity=".5"/><stop offset=".194" stop-color="#2c42a4" stop-opacity=".5"/><stop offset=".306" stop-color="#2d42a5" stop-opacity=".75"/><stop offset=".361" stop-color="#2d42a5" stop-opacity=".94"/><stop offset=".417" stop-color="#2d42a5"/><stop offset=".917" stop-color="#2d42a5"/><stop offset=".972" stop-color="#2d42a4" stop-opacity=".31"/></linearGradient><linearGradient id="s266" gradientUnits="userSpaceOnUse" x1="549" x2="558"><stop offset=".056" stop-color="#2c42a4" stop-opacity=".13"/><stop offset=".389" stop-color="#2c42a4" stop-opacity=".5"/><stop offset=".5" stop-color="#2c42a4" stop-opacity=".56"/><stop offset=".611" stop-color="#2c42a5" stop-opacity=".75"/><stop offset=".722" stop-color="#2c42a5" stop-opacity=".81"/><stop offset=".833" stop-color="#2c42a5"/><stop offset=".944" stop-color="#2c42a4" stop-opacity=".5"/></linearGradient></defs><rect x="360" y="118" width="6" height="1" fill="url(#s1)"/><rect x="359" y="119" width="8" height="1" fill="url(#s2)"/><rect x="358" y="120" width="10" height="1" fill="url(#s3)"/><rect x="358" y="121" width="11" height="1" fill="url(#s4)"/><rect x="357" y="122" width="12" height="1" fill="url(#s5)"/><rect x="357" y="123" width="13" height="1" fill="url(#s6)"/><rect x="356" y="124" width="14" height="1" fill="url(#s7)"/><rect x="356" y="125" width="15" height="1" fill="url(#s8)"/><rect x="355" y="126" width="16" height="1" fill="url(#s9)"/><rect x="355" y="127" width="17" height="1" fill="url(#s10)"/><rect x="354" y="128" width="18" height="1" fill="url(#s11)"/><rect x="354" y="129" width="19" height="1" fill="url(#s12)"/><rect x="353" y="130" width="20" height="1" fill="url(#s13)"/><rect x="353" y="131" width="20" height="1" fill="url(#s14)"/><rect x="353" y="132" width="21" height="1" fill="url(#s15)"/><rect x="436" y="132" width="3" height="1" fill="url(#s16)"/><rect x="352" y="133" width="22" height="1" fill="url(#s17)"/><rect x="434" y="133" width="7" height="1" fill="url(#s18)"/><rect x="352" y="134" width="22" height="1" fill="url(#s19)"/><rect x="433" y="134" width="9" height="1" fill="url(#s20)"/><rect x="352" y="135" width="23" height="1" fill="url(#s21)"/><rect x="432" y="135" width="11" height="1" fill="url(#s22)"/><rect x="351" y="136" width="24" height="1" fill="url(#s23)"/><rect x="431" y="136" width="13" height="1" fill="url(#s24)"/><rect x="351" y="137" width="24" height="1" fill="url(#s25)"/><rect x="431" y="137" width="13" height="1" fill="url(#s26)"/><rect x="351" y="138" width="25" height="1" fill="url(#s27)"/><rect x="430" y="138" width="15" height="1" fill="url(#s28)"/><rect x="351" y="139" width="25" height="1" fill="url(#s29)"/><rect x="429" y="139" width="16" height="1" fill="url(#s30)"/><rect x="350" y="140" width="26" height="1" fill="url(#s31)"/><rect x="429" y="140" width="17" height="1" fill="url(#s32)"/><rect x="350" y="141" width="27" height="1" fill="url(#s33)"/><rect x="428" y="141" width="18" height="1" fill="url(#s34)"/><rect x="350" y="142" width="27" height="1" fill="url(#s35)"/><rect x="428" y="142" width="19" height="1" fill="url(#s36)"/><rect x="349" y="143" width="28" height="1" fill="url(#s37)"/><rect x="427" y="143" width="20" height="1" fill="url(#s38)"/><rect x="349" y="144" width="28" height="1" fill="url(#s39)"/><rect x="427" y="144" width="21" height="1" fill="url(#s40)"/><rect x="349" y="145" width="29" height="1" fill="url(#s41)"/><rect x="427" y="145" width="21" height="1" fill="url(#s42)"/><rect x="349" y="146" width="29" height="1" fill="url(#s43)"/><rect x="426" y="146" width="23" height="1" fill="url(#s44)"/><rect x="348" y="147" width="30" height="1" fill="url(#s45)"/><rect x="426" y="147" width="23" height="1" fill="url(#s46)"/><rect x="511" y="147" width="5" height="1" fill="url(#s47)"/><rect x="348" y="148" width="30" height="1" fill="url(#s48)"/><rect x="425" y="148" width="24" height="1" fill="url(#s49)"/><rect x="509" y="148" width="8" height="1" fill="url(#s50)"/><rect x="348" y="149" width="31" height="1" fill="url(#s51)"/><rect x="425" y="149" width="25" height="1" fill="url(#s52)"/><rect x="508" y="149" width="11" height="1" fill="url(#s53)"/><rect x="348" y="150" width="31" height="1" fill="url(#s54)"/><rect x="425" y="150" width="25" height="1" fill="url(#s55)"/><rect x="507" y="150" width="12" height="1" fill="url(#s56)"/><rect x="347" y="151" width="32" height="1" fill="url(#s57)"/><rect x="424" y="151" width="26" height="1" fill="url(#s58)"/><rect x="507" y="151" width="13" height="1" fill="url(#s59)"/><rect x="347" y="152" width="32" height="1" fill="url(#s60)"/><rect x="424" y="152" width="27" height="1" fill="url(#s61)"/><rect x="506" y="152" width="15" height="1" fill="url(#s62)"/><rect x="347" y="153" width="33" height="1" fill="url(#s63)"/><rect x="424" y="153" width="27" height="1" fill="url(#s64)"/><rect x="506" y="153" width="15" height="1" fill="url(#s65)"/><rect x="347" y="154" width="33" height="1" fill="url(#s66)"/><rect x="423" y="154" width="28" height="1" fill="url(#s67)"/><rect x="505" y="154" width="17" height="1" fill="url(#s68)"/><rect x="347" y="155" width="33" height="1" fill="url(#s69)"/><rect x="423" y="155" width="29" height="1" fill="url(#s70)"/><rect x="504" y="155" width="18" height="1" fill="url(#s71)"/><rect x="346" y="156" width="34" height="1" fill="url(#s72)"/><rect x="423" y="156" width="29" height="1" fill="url(#s73)"/><rect x="504" y="156" width="19" height="1" fill="url(#s74)"/><rect x="346" y="157" width="35" height="1" fill="url(#s75)"/><rect x="423" y="157" width="29" height="1" fill="url(#s76)"/><rect x="503" y="157" width="20" height="1" fill="url(#s77)"/><rect x="346" y="158" width="35" height="1" fill="url(#s78)"/><rect x="422" y="158" width="31" height="1" fill="url(#s79)"/><rect x="503" y="158" width="21" height="1" fill="url(#s80)"/><rect x="346" y="159" width="35" height="1" fill="url(#s81)"/><rect x="422" y="159" width="31" height="1" fill="url(#s82)"/><rect x="503" y="159" width="21" height="1" fill="url(#s83)"/><rect x="345" y="160" width="36" height="1" fill="url(#s84)"/><rect x="422" y="160" width="31" height="1" fill="url(#s85)"/><rect x="502" y="160" width="23" height="1" fill="url(#s86)"/><rect x="345" y="161" width="36" height="1" fill="url(#s87)"/><rect x="421" y="161" width="33" height="1" fill="url(#s88)"/><rect x="502" y="161" width="23" height="1" fill="url(#s89)"/><rect x="345" y="162" width="37" height="1" fill="url(#s90)"/><rect x="421" y="162" width="33" height="1" fill="url(#s91)"/><rect x="501" y="162" width="25" height="1" fill="url(#s92)"/><rect x="345" y="163" width="37" height="1" fill="url(#s93)"/><rect x="421" y="163" width="33" height="1" fill="url(#s94)"/><rect x="501" y="163" width="25" height="1" fill="url(#s95)"/><rect x="344" y="164" width="38" height="1" fill="url(#s96)"/><rect x="421" y="164" width="33" height="1" fill="url(#s97)"/><rect x="501" y="164" width="25" height="1" fill="url(#s98)"/><rect x="344" y="165" width="38" height="1" fill="url(#s99)"/><rect x="420" y="165" width="35" height="1" fill="url(#s100)"/><rect x="500" y="165" width="27" height="1" fill="url(#s101)"/><rect x="344" y="166" width="39" height="1" fill="url(#s102)"/><rect x="420" y="166" width="35" height="1" fill="url(#s103)"/><rect x="500" y="166" width="27" height="1" fill="url(#s104)"/><rect x="326" y="167" width="10" height="1" fill="url(#s105)"/><rect x="344" y="167" width="39" height="1" fill="url(#s106)"/><rect x="420" y="167" width="35" height="1" fill="url(#s107)"/><rect x="500" y="167" width="27" height="1" fill="url(#s108)"/><rect x="325" y="168" width="58" height="1" fill="url(#s109)"/><rect x="420" y="168" width="35" height="1" fill="url(#s110)"/><rect x="499" y="168" width="29" height="1" fill="url(#s111)"/><rect x="325" y="169" width="58" height="1" fill="url(#s112)"/><rect x="419" y="169" width="37" height="1" fill="url(#s113)"/><rect x="499" y="169" width="29" height="1" fill="url(#s114)"/><rect x="324" y="170" width="60" height="1" fill="url(#s115)"/><rect x="419" y="170" width="37" height="1" fill="url(#s116)"/><rect x="499" y="170" width="29" height="1" fill="url(#s117)"/><rect x="323" y="171" width="61" height="1" fill="url(#s118)"/><rect x="419" y="171" width="37" height="1" fill="url(#s119)"/><rect x="498" y="171" width="31" height="1" fill="url(#s120)"/><rect x="322" y="172" width="65" height="1" fill="url(#s121)"/><rect x="419" y="172" width="38" height="1" fill="url(#s122)"/><rect x="498" y="172" width="31" height="1" fill="url(#s123)"/><rect x="321" y="173" width="77" height="1" fill="url(#s124)"/><rect x="418" y="173" width="39" height="1" fill="url(#s125)"/><rect x="498" y="173" width="31" height="1" fill="url(#s126)"/><rect x="320" y="174" width="88" height="1" fill="url(#s127)"/><rect x="418" y="174" width="39" height="1" fill="url(#s128)"/><rect x="497" y="174" width="33" height="1" fill="url(#s129)"/><rect x="319" y="175" width="138" height="1" fill="url(#s130)"/><rect x="497" y="175" width="33" height="1" fill="url(#s131)"/><rect x="319" y="176" width="138" height="1" fill="url(#s132)"/><rect x="497" y="176" width="33" height="1" fill="url(#s133)"/><rect x="318" y="177" width="140" height="1" fill="url(#s134)"/><rect x="497" y="177" width="34" height="1" fill="url(#s135)"/><rect x="317" y="178" width="141" height="1" fill="url(#s136)"/><rect x="496" y="178" width="35" height="1" fill="url(#s137)"/><rect x="316" y="179" width="142" height="1" fill="url(#s138)"/><rect x="496" y="179" width="35" height="1" fill="url(#s139)"/><rect x="315" y="180" width="151" height="1" fill="url(#s140)"/><rect x="496" y="180" width="35" height="1" fill="url(#s141)"/><rect x="314" y="181" width="160" height="1" fill="url(#s142)"/><rect x="495" y="181" width="37" height="1" fill="url(#s143)"/><rect x="313" y="182" width="169" height="1" fill="url(#s144)"/><rect x="495" y="182" width="37" height="1" fill="url(#s145)"/><rect x="312" y="183" width="178" height="1" fill="url(#s146)"/><rect x="495" y="183" width="37" height="1" fill="url(#s147)"/><rect x="312" y="184" width="221" height="1" fill="url(#s148)"/><rect x="311" y="185" width="222" height="1" fill="url(#s149)"/><rect x="310" y="186" width="223" height="1" fill="url(#s150)"/><rect x="309" y="187" width="224" height="1" fill="url(#s151)"/><rect x="308" y="188" width="226" height="1" fill="url(#s152)"/><rect x="307" y="189" width="227" height="1" fill="url(#s153)"/><rect x="306" y="190" width="234" height="1" fill="url(#s154)"/><rect x="305" y="191" width="241" height="1" fill="url(#s155)"/><rect x="304" y="192" width="248" height="1" fill="url(#s156)"/><rect x="303" y="193" width="256" height="1" fill="url(#s157)"/><rect x="302" y="194" width="263" height="1" fill="url(#s158)"/><rect x="297" y="195" width="274" height="1" fill="url(#s159)"/><rect x="296" y="196" width="281" height="1" fill="url(#s160)"/><rect x="295" y="197" width="288" height="1" fill="url(#s161)"/><rect x="295" y="198" width="294" height="1" fill="url(#s162)"/><rect x="294" y="199" width="301" height="1" fill="url(#s163)"/><rect x="294" y="200" width="307" height="1" fill="url(#s164)"/><rect x="293" y="201" width="314" height="1" fill="url(#s165)"/><rect x="293" y="202" width="320" height="1" fill="url(#s166)"/><rect x="292" y="203" width="327" height="1" fill="url(#s167)"/><rect x="292" y="204" width="334" height="1" fill="url(#s168)"/><rect x="291" y="205" width="338" height="1" fill="url(#s169)"/><rect x="291" y="206" width="337" height="1" fill="url(#s170)"/><rect x="290" y="207" width="337" height="1" fill="url(#s171)"/><rect x="289" y="208" width="337" height="1" fill="url(#s172)"/><rect x="288" y="209" width="337" height="1" fill="url(#s173)"/><rect x="288" y="210" width="337" height="1" fill="url(#s174)"/><rect x="287" y="211" width="337" height="1" fill="url(#s175)"/><rect x="286" y="212" width="337" height="1" fill="url(#s176)"/><rect x="285" y="213" width="337" height="1" fill="url(#s177)"/><rect x="285" y="214" width="336" height="1" fill="url(#s178)"/><rect x="284" y="215" width="337" height="1" fill="url(#s179)"/><rect x="283" y="216" width="337" height="1" fill="url(#s180)"/><rect x="282" y="217" width="337" height="1" fill="url(#s181)"/><rect x="281" y="218" width="337" height="1" fill="url(#s182)"/><rect x="281" y="219" width="336" height="1" fill="url(#s183)"/><rect x="280" y="220" width="336" height="1" fill="url(#s184)"/><rect x="279" y="221" width="337" height="1" fill="url(#s185)"/><rect x="278" y="222" width="337" height="1" fill="url(#s186)"/><rect x="278" y="223" width="336" height="1" fill="url(#s187)"/><rect x="277" y="224" width="336" height="1" fill="url(#s188)"/><rect x="276" y="225" width="336" height="1" fill="url(#s189)"/><rect x="275" y="226" width="336" height="1" fill="url(#s190)"/><rect x="275" y="227" width="335" height="1" fill="url(#s191)"/><rect x="274" y="228" width="335" height="1" fill="url(#s192)"/><rect x="273" y="229" width="335" height="1" fill="url(#s193)"/><rect x="272" y="230" width="335" height="1" fill="url(#s194)"/><rect x="271" y="231" width="334" height="1" fill="url(#s195)"/><rect x="271" y="232" width="333" height="1" fill="url(#s196)"/><rect x="270" y="233" width="333" height="1" fill="url(#s197)"/><rect x="269" y="234" width="333" height="1" fill="url(#s198)"/><rect x="268" y="235" width="332" height="1" fill="url(#s199)"/><rect x="267" y="236" width="332" height="1" fill="url(#s200)"/><rect x="266" y="237" width="331" height="1" fill="url(#s201)"/><rect x="266" y="238" width="330" height="1" fill="url(#s202)"/><rect x="265" y="239" width="330" height="1" fill="url(#s203)"/><rect x="264" y="240" width="330" height="1" fill="url(#s204)"/><rect x="263" y="241" width="330" height="1" fill="url(#s205)"/><rect x="262" y="242" width="330" height="1" fill="url(#s206)"/><rect x="261" y="243" width="330" height="1" fill="url(#s207)"/><rect x="261" y="244" width="329" height="1" fill="url(#s208)"/><rect x="260" y="245" width="329" height="1" fill="url(#s209)"/><rect x="259" y="246" width="329" height="1" fill="url(#s210)"/><rect x="258" y="247" width="329" height="1" fill="url(#s211)"/><rect x="257" y="248" width="330" height="1" fill="url(#s212)"/><rect x="256" y="249" width="330" height="1" fill="url(#s213)"/><rect x="255" y="250" width="330" height="1" fill="url(#s214)"/><rect x="255" y="251" width="330" height="1" fill="url(#s215)"/><rect x="254" y="252" width="330" height="1" fill="url(#s216)"/><rect x="253" y="253" width="66" height="1" fill="url(#s217)"/><rect x="329" y="253" width="255" height="1" fill="url(#s218)"/><rect x="252" y="254" width="62" height="1" fill="url(#s219)"/><rect x="333" y="254" width="250" height="1" fill="url(#s220)"/><rect x="251" y="255" width="59" height="1" fill="url(#s221)"/><rect x="336" y="255" width="246" height="1" fill="url(#s222)"/><rect x="250" y="256" width="56" height="1" fill="url(#s223)"/><rect x="339" y="256" width="243" height="1" fill="url(#s224)"/><rect x="251" y="257" width="52" height="1" fill="url(#s225)"/><rect x="341" y="257" width="240" height="1" fill="url(#s226)"/><rect x="260" y="258" width="38" height="1" fill="url(#s227)"/><rect x="344" y="258" width="237" height="1" fill="url(#s228)"/><rect x="270" y="259" width="23" height="1" fill="url(#s229)"/><rect x="346" y="259" width="234" height="1" fill="url(#s230)"/><rect x="349" y="260" width="231" height="1" fill="url(#s231)"/><rect x="351" y="261" width="228" height="1" fill="url(#s232)"/><rect x="354" y="262" width="224" height="1" fill="url(#s233)"/><rect x="359" y="263" width="219" height="1" fill="url(#s234)"/><rect x="387" y="264" width="190" height="1" fill="url(#s235)"/><rect x="393" y="265" width="184" height="1" fill="url(#s236)"/><rect x="397" y="266" width="179" height="1" fill="url(#s237)"/><rect x="400" y="267" width="176" height="1" fill="url(#s238)"/><rect x="403" y="268" width="172" height="1" fill="url(#s239)"/><rect x="406" y="269" width="168" height="1" fill="url(#s240)"/><rect x="409" y="270" width="165" height="1" fill="url(#s241)"/><rect x="411" y="271" width="162" height="1" fill="url(#s242)"/><rect x="414" y="272" width="159" height="1" fill="url(#s243)"/><rect x="418" y="273" width="35" height="1" fill="url(#s244)"/><rect x="467" y="273" width="105" height="1" fill="url(#s245)"/><rect x="422" y="274" width="24" height="1" fill="url(#s246)"/><rect x="471" y="274" width="100" height="1" fill="url(#s247)"/><rect x="430" y="275" width="6" height="1" fill="url(#s248)"/><rect x="475" y="275" width="96" height="1" fill="url(#s249)"/><rect x="478" y="276" width="92" height="1" fill="url(#s250)"/><rect x="480" y="277" width="89" height="1" fill="url(#s251)"/><rect x="483" y="278" width="86" height="1" fill="url(#s252)"/><rect x="485" y="279" width="83" height="1" fill="url(#s253)"/><rect x="488" y="280" width="79" height="1" fill="url(#s254)"/><rect x="491" y="281" width="76" height="1" fill="url(#s255)"/><rect x="493" y="282" width="73" height="1" fill="url(#s256)"/><rect x="496" y="283" width="69" height="1" fill="url(#s257)"/><rect x="499" y="284" width="65" height="1" fill="url(#s258)"/><rect x="503" y="285" width="61" height="1" fill="url(#s259)"/><rect x="507" y="286" width="56" height="1" fill="url(#s260)"/><rect x="512" y="287" width="50" height="1" fill="url(#s261)"/><rect x="517" y="288" width="44" height="1" fill="url(#s262)"/><rect x="525" y="289" width="36" height="1" fill="url(#s263)"/><rect x="532" y="290" width="28" height="1" fill="url(#s264)"/><rect x="541" y="291" width="18" height="1" fill="url(#s265)"/><rect x="549" y="292" width="9" height="1" fill="url(#s266)"/></g>
<g fill="none" stroke="#000" stroke-width="1.4">
<polyline points="246.4,264.3 540.5,306.4 650.8,187.5"/>
<line x1="320" y1="274.2" x2="321.9" y2="272"/>
<line x1="393.5" y1="284.9" x2="395.4" y2="282.7"/>
<line x1="467" y1="295.6" x2="468.9" y2="293.4"/>
<line x1="570.7" y1="273.7" x2="567.7" y2="273.3"/>
<line x1="620.6" y1="220.1" x2="617.6" y2="219.6"/>
</g>
<text transform="translate(235.5 278.8) rotate(11) skewX(-6)" font-size="14">0</text>
<text transform="translate(304 289.5) rotate(11) skewX(-6)" font-size="14">10</text>
<text transform="translate(377 300) rotate(11) skewX(-6)" font-size="14">20</text>
<text transform="translate(453.5 311) rotate(11) skewX(-6)" font-size="14">30</text>
<text transform="translate(525.8 321) rotate(11) skewX(-6)" font-size="14">40</text>
<text transform="translate(241.5 310.5) rotate(8)" font-size="14.5">Pumping</text>
<text transform="translate(340 323) rotate(8)" font-size="14.2">Times (ps)</text>
<text transform="translate(623 233) rotate(20)" font-size="14">525</text>
<text transform="translate(570 291) rotate(20)" font-size="14">529</text>
<text transform="translate(601.5 313) rotate(-47)" font-size="14.5">Wavelength (nm)</text>
<text transform="translate(522 284) rotate(9) skewX(-10)" font-size="14.5" fill="#fff">Light</text>
<text transform="translate(596.5 170.5) rotate(8) skewX(-6)" font-size="14.5">Matter</text>
<defs><linearGradient id="gpa" x1="0" x2="1" y1="0" y2="0"><stop offset="0" stop-color="#b4ccf0"/><stop offset=".5" stop-color="#e6f0fc"/><stop offset="1" stop-color="#a6bfea"/></linearGradient></defs>
<g transform="translate(266.3 283.9) rotate(36)"><path d="M-3.2 11.6V-0.5H-5.9L0 -11.6L5.9 -0.5H3.2V11.6Z" fill="url(#gpa)" stroke="#5566d4" stroke-width="1" stroke-linejoin="round"/><ellipse cx="0" cy="11.6" rx="3.2" ry="1.8" fill="#eef4fc" stroke="#5566d4" stroke-width="0.9"/><path d="M-5.9 -0.5Q0 2.6 5.9 -0.5" fill="none" stroke="#5566d4" stroke-width="0.9"/><path d="M-3.2 1.3Q0 3.4 3.2 1.3" fill="none" stroke="#5566d4" stroke-width="0.7"/></g>
<g transform="translate(342.5 296) rotate(36)"><path d="M-3.2 11.6V-0.5H-5.9L0 -11.6L5.9 -0.5H3.2V11.6Z" fill="url(#gpa)" stroke="#5566d4" stroke-width="1" stroke-linejoin="round"/><ellipse cx="0" cy="11.6" rx="3.2" ry="1.8" fill="#eef4fc" stroke="#5566d4" stroke-width="0.9"/><path d="M-5.9 -0.5Q0 2.6 5.9 -0.5" fill="none" stroke="#5566d4" stroke-width="0.9"/><path d="M-3.2 1.3Q0 3.4 3.2 1.3" fill="none" stroke="#5566d4" stroke-width="0.7"/></g>
<g transform="translate(422.6 309.1) rotate(36)"><path d="M-3.2 11.6V-0.5H-5.9L0 -11.6L5.9 -0.5H3.2V11.6Z" fill="url(#gpa)" stroke="#5566d4" stroke-width="1" stroke-linejoin="round"/><ellipse cx="0" cy="11.6" rx="3.2" ry="1.8" fill="#eef4fc" stroke="#5566d4" stroke-width="0.9"/><path d="M-5.9 -0.5Q0 2.6 5.9 -0.5" fill="none" stroke="#5566d4" stroke-width="0.9"/><path d="M-3.2 1.3Q0 3.4 3.2 1.3" fill="none" stroke="#5566d4" stroke-width="0.7"/></g>
</svg>
</body></html>
